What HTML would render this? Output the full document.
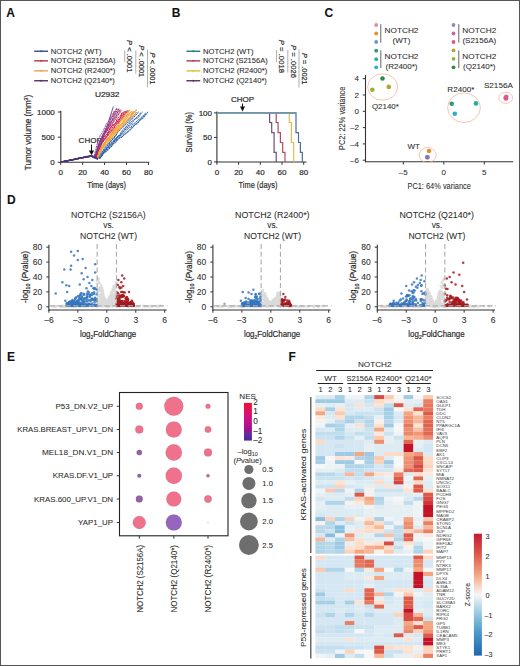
<!DOCTYPE html>
<html><head><meta charset="utf-8"><style>
html,body{margin:0;padding:0;background:#fff;}
svg{display:block;font-family:"Liberation Sans", sans-serif;}
.heavy text{stroke:#2b2b2b;stroke-width:0.2px;}
text{stroke:#2b2b2b;stroke-width:0.06px;}
</style></head><body>
<svg width="520" height="666" viewBox="0 0 520 666">
<rect width="520" height="666" fill="#fff"/>
<text x="6.3" y="16.8" font-size="12" font-weight="bold" fill="#111">A</text>
<text x="171.8" y="16.8" font-size="12" font-weight="bold" fill="#111">B</text>
<text x="324.6" y="16.9" font-size="12" font-weight="bold" fill="#111">C</text>
<text x="7.0" y="204.1" font-size="12" font-weight="bold" fill="#111">D</text>
<text x="7.0" y="360.9" font-size="12" font-weight="bold" fill="#111">E</text>
<text x="288.4" y="360.8" font-size="12" font-weight="bold" fill="#111">F</text>
<g class="heavy">
<line x1="34.20" y1="51.25" x2="48.00" y2="51.25" stroke="#2f4f86" stroke-width="1.4"/>
<circle cx="41.10" cy="51.25" r="0.90" fill="#2f4f86"/>
<text x="50.80" y="53.59" font-size="8.1" text-anchor="start" fill="#2b2b2b" textLength="50.7" lengthAdjust="spacingAndGlyphs" style="stroke-width:0.08px">NOTCH2 (WT)</text>
<line x1="34.20" y1="60.85" x2="48.00" y2="60.85" stroke="#b83448" stroke-width="1.4"/>
<circle cx="41.10" cy="60.85" r="0.90" fill="#b83448"/>
<text x="50.80" y="63.19" font-size="8.1" text-anchor="start" fill="#2b2b2b" textLength="64.8" lengthAdjust="spacingAndGlyphs" style="stroke-width:0.08px">NOTCH2 (S2156A)</text>
<line x1="34.20" y1="70.85" x2="48.00" y2="70.85" stroke="#f0a050" stroke-width="1.4"/>
<circle cx="41.10" cy="70.85" r="0.90" fill="#f0a050"/>
<text x="50.80" y="73.19" font-size="8.1" text-anchor="start" fill="#2b2b2b" textLength="64.5" lengthAdjust="spacingAndGlyphs" style="stroke-width:0.08px">NOTCH2 (R2400*)</text>
<line x1="34.20" y1="80.75" x2="48.00" y2="80.75" stroke="#55305f" stroke-width="1.4"/>
<circle cx="41.10" cy="80.75" r="0.90" fill="#55305f"/>
<text x="50.80" y="83.09" font-size="8.1" text-anchor="start" fill="#2b2b2b" textLength="64.0" lengthAdjust="spacingAndGlyphs" style="stroke-width:0.08px">NOTCH2 (Q2140*)</text>
<g transform="translate(129.70,56.25) rotate(90)"><text x="0" y="2.6" font-size="7.6" text-anchor="middle" fill="#2b2b2b" textLength="32.5" lengthAdjust="spacingAndGlyphs"><tspan font-style="italic">P</tspan> &lt; .0001</text></g>
<line x1="124.70" y1="50.50" x2="124.70" y2="62.00" stroke="#9a9a9a" stroke-width="0.8"/>
<g transform="translate(141.50,61.20) rotate(90)"><text x="0" y="2.6" font-size="7.6" text-anchor="middle" fill="#2b2b2b" textLength="32.0" lengthAdjust="spacingAndGlyphs"><tspan font-style="italic">P</tspan> &lt; .0001</text></g>
<line x1="135.80" y1="50.50" x2="135.80" y2="73.60" stroke="#9a9a9a" stroke-width="0.8"/>
<g transform="translate(153.10,68.60) rotate(90)"><text x="0" y="2.6" font-size="7.6" text-anchor="middle" fill="#2b2b2b" textLength="32.0" lengthAdjust="spacingAndGlyphs"><tspan font-style="italic">P</tspan> &lt; .0001</text></g>
<line x1="147.50" y1="49.40" x2="147.50" y2="87.20" stroke="#9a9a9a" stroke-width="0.8"/>
<text x="107.20" y="97.25" font-size="8" text-anchor="middle" fill="#2b2b2b" textLength="24.5" lengthAdjust="spacingAndGlyphs">U2932</text>
<line x1="60.80" y1="110.80" x2="60.80" y2="162.80" stroke="#333333" stroke-width="1.1"/>
<line x1="60.20" y1="162.30" x2="149.20" y2="162.30" stroke="#333333" stroke-width="1.1"/>
<line x1="57.80" y1="162.30" x2="60.80" y2="162.30" stroke="#333333" stroke-width="1.0"/>
<text x="54.80" y="165.05" font-size="8" text-anchor="end" fill="#2b2b2b">0</text>
<line x1="57.80" y1="137.15" x2="60.80" y2="137.15" stroke="#333333" stroke-width="1.0"/>
<text x="54.80" y="139.90" font-size="8" text-anchor="end" fill="#2b2b2b">500</text>
<line x1="57.80" y1="112.00" x2="60.80" y2="112.00" stroke="#333333" stroke-width="1.0"/>
<text x="54.80" y="114.75" font-size="8" text-anchor="end" fill="#2b2b2b">1000</text>
<line x1="60.70" y1="162.30" x2="60.70" y2="165.00" stroke="#333333" stroke-width="1.0"/>
<text x="60.70" y="175.05" font-size="8" text-anchor="middle" fill="#2b2b2b">0</text>
<line x1="82.64" y1="162.30" x2="82.64" y2="165.00" stroke="#333333" stroke-width="1.0"/>
<text x="82.64" y="175.05" font-size="8" text-anchor="middle" fill="#2b2b2b">20</text>
<line x1="104.58" y1="162.30" x2="104.58" y2="165.00" stroke="#333333" stroke-width="1.0"/>
<text x="104.58" y="175.05" font-size="8" text-anchor="middle" fill="#2b2b2b">40</text>
<line x1="126.52" y1="162.30" x2="126.52" y2="165.00" stroke="#333333" stroke-width="1.0"/>
<text x="126.52" y="175.05" font-size="8" text-anchor="middle" fill="#2b2b2b">60</text>
<line x1="148.46" y1="162.30" x2="148.46" y2="165.00" stroke="#333333" stroke-width="1.0"/>
<text x="148.46" y="175.05" font-size="8" text-anchor="middle" fill="#2b2b2b">80</text>
<text x="106.60" y="188.30" font-size="9.6" text-anchor="middle" fill="#2b2b2b" textLength="38.8" lengthAdjust="spacingAndGlyphs">Time (days)</text>
<g transform="translate(27.9,132.5) rotate(-90)"><text x="0" y="3.2" font-size="9.4" text-anchor="middle" fill="#2b2b2b" textLength="75.4" lengthAdjust="spacingAndGlyphs">Tumor volume (mm<tspan font-size="6" dy="-3.5">3</tspan><tspan dy="3.5">)</tspan></text></g>
<text x="90.20" y="143.35" font-size="8" text-anchor="middle" fill="#2b2b2b" textLength="23.2" lengthAdjust="spacingAndGlyphs">CHOP</text>
<line x1="91.50" y1="144.50" x2="91.50" y2="153.50" stroke="#111" stroke-width="1.0"/>
<path d="M88.9,150.4 L91.5,155.2 L94.1,150.4 Z" fill="#111"/>
<polyline points="60.7,162.2 62.9,161.6 65.1,161.2 67.3,160.9 69.5,160.4 71.7,160.0 73.9,159.3 76.1,158.9 78.3,158.7 80.4,158.0 82.6,157.9 84.8,157.2 87.0,157.0 89.2,156.6 91.4,155.8 93.6,156.7 95.8,157.3 98.0,157.5 100.2,157.4 102.4,155.6 104.6,151.7 106.8,150.4 109.0,148.0 111.2,147.1 113.4,143.4 115.6,142.0 117.7,139.4 119.9,137.6 122.1,137.0 124.3,134.8 126.5,133.3 128.7,131.4 130.9,129.6 133.1,127.1 135.3,124.4 137.5,123.8 139.7,120.3 141.9,119.1 144.1,117.2 146.3,114.1 147.5,113.7" fill="none" stroke="#2c5fa6" stroke-width="1.0" stroke-linejoin="round" stroke-dasharray="2.2,0.6"/>
<polyline points="60.7,162.2 62.9,161.4 65.1,161.4 67.3,160.7 69.5,160.2 71.7,160.1 73.9,159.3 76.1,159.1 78.3,158.6 80.4,158.4 82.6,157.9 84.8,157.4 87.0,156.7 89.2,156.5 91.4,155.9 93.6,156.4 95.8,157.1 98.0,157.9 100.2,157.5 102.4,153.8 104.6,150.5 106.8,149.5 109.0,145.6 111.2,143.2 113.4,140.7 115.6,140.2 117.7,135.9 119.9,135.4 122.1,132.6 124.3,129.7 126.5,126.7 128.7,125.6 130.9,122.0 133.1,120.5 135.3,118.7 137.5,116.4 139.7,114.4 140.5,112.8" fill="none" stroke="#2c5fa6" stroke-width="1.0" stroke-linejoin="round" stroke-dasharray="2.2,0.6"/>
<polyline points="60.7,162.2 62.9,161.8 65.1,161.0 67.3,160.7 69.5,160.4 71.7,160.0 73.9,159.4 76.1,158.9 78.3,158.6 80.4,158.2 82.6,157.9 84.8,157.1 87.0,157.0 89.2,156.4 91.4,155.9 93.6,156.9 95.8,157.4 98.0,158.0 100.2,154.5 102.4,150.9 104.6,149.6 106.8,146.2 109.0,144.3 111.2,140.2 113.4,139.0 115.6,136.1 117.7,132.4 119.9,130.2 122.1,127.5 124.3,126.1 126.5,123.5 128.7,120.5 130.9,118.6 133.1,116.5 135.3,113.8 136.4,112.3" fill="none" stroke="#2c5fa6" stroke-width="1.0" stroke-linejoin="round" stroke-dasharray="2.2,0.6"/>
<polyline points="60.7,162.0 62.9,161.6 65.1,161.2 67.3,160.9 69.5,160.4 71.7,159.8 73.9,159.3 76.1,159.1 78.3,158.5 80.4,158.0 82.6,157.6 84.8,157.2 87.0,156.8 89.2,156.5 91.4,155.9 93.6,156.8 95.8,157.4 98.0,158.0 100.2,154.6 102.4,152.1 104.6,147.6 106.8,145.5 109.0,142.9 111.2,141.5 113.4,137.6 115.6,135.6 117.7,132.0 119.9,129.9 122.1,126.4 124.3,124.1 126.5,121.2 128.7,119.5 130.9,116.2 133.1,113.3 135.0,111.5" fill="none" stroke="#2c5fa6" stroke-width="1.0" stroke-linejoin="round" stroke-dasharray="2.2,0.6"/>
<polyline points="60.7,162.0 62.9,161.4 65.1,161.0 67.3,160.7 69.5,160.3 71.7,160.0 73.9,159.3 76.1,158.8 78.3,158.6 80.4,158.1 82.6,157.6 84.8,157.2 87.0,157.0 89.2,156.3 91.4,156.0 93.6,156.5 95.8,157.1 98.0,157.6 100.2,158.0 102.4,155.3 104.6,152.4 106.8,151.5 109.0,149.1 111.2,146.3 113.4,143.8 115.6,142.7 117.7,139.6 119.9,137.7 122.1,137.0 124.3,134.0 126.5,132.5 128.7,130.9 130.9,128.7 133.1,126.2 135.3,124.5 137.5,122.4 139.7,120.7 141.9,117.8 144.1,115.9 146.3,113.4 148.1,111.9" fill="none" stroke="#2c5fa6" stroke-width="1.0" stroke-linejoin="round" stroke-dasharray="2.2,0.6"/>
<polyline points="60.7,162.1 62.9,161.7 65.1,161.2 67.3,160.9 69.5,160.2 71.7,159.9 73.9,159.6 76.1,159.0 78.3,158.8 80.4,158.1 82.6,157.8 84.8,157.3 87.0,156.7 89.2,156.3 91.4,156.0 93.6,156.5 95.8,157.1 98.0,157.8 100.2,158.6 102.4,154.4 104.6,151.6 106.8,148.0 109.0,145.3 111.2,143.5 113.4,141.5 115.6,137.7 117.7,137.1 119.9,134.3 122.1,130.7 124.3,128.1 126.5,126.5 128.7,122.9 130.9,119.7 133.1,118.3 135.3,115.6 137.5,113.5 138.5,111.7" fill="none" stroke="#2c5fa6" stroke-width="1.0" stroke-linejoin="round" stroke-dasharray="2.2,0.6"/>
<polyline points="60.7,161.9 62.9,161.6 65.1,161.3 67.3,160.6 69.5,160.3 71.7,159.9 73.9,159.5 76.1,158.8 78.3,158.6 80.4,158.2 82.6,157.7 84.8,157.4 87.0,156.8 89.2,156.4 91.4,156.1 93.6,156.6 95.8,157.2 98.0,158.2 100.2,156.1 102.4,153.8 104.6,149.9 106.8,148.1 109.0,147.2 111.2,145.1 113.4,143.4 115.6,139.5 117.7,139.0 119.9,136.3 122.1,134.6 124.3,132.3 126.5,130.3 128.7,128.0 130.9,127.4 133.1,124.0 135.3,123.0 137.5,120.5 139.7,118.9 141.9,117.0 144.1,114.5 145.7,113.1" fill="none" stroke="#2c5fa6" stroke-width="1.0" stroke-linejoin="round" stroke-dasharray="2.2,0.6"/>
<polyline points="60.7,162.2 62.9,161.7 65.1,161.2 67.3,160.6 69.5,160.2 71.7,159.9 73.9,159.6 76.1,158.9 78.3,158.6 80.4,158.1 82.6,157.6 84.8,157.2 87.0,156.9 89.2,156.3 91.4,156.0 93.6,156.7 95.8,157.1 98.0,158.0 100.2,157.6 102.4,153.2 104.6,152.3 106.8,148.1 109.0,146.1 111.2,144.4 113.4,142.5 115.6,139.1 117.7,136.6 119.9,136.0 122.1,133.1 124.3,130.7 126.5,128.5 128.7,126.6 130.9,124.8 133.1,121.6 135.3,118.8 137.5,118.2 139.7,115.6 141.9,112.1 142.5,112.1" fill="none" stroke="#2c5fa6" stroke-width="1.0" stroke-linejoin="round" stroke-dasharray="2.2,0.6"/>
<polyline points="60.7,161.9 62.9,161.7 65.1,161.1 67.3,160.6 69.5,160.2 71.7,160.0 73.9,159.5 76.1,158.9 78.3,158.7 80.4,158.1 82.6,157.8 84.8,157.4 87.0,156.8 89.2,156.6 91.4,156.2 93.6,156.9 95.8,157.8 98.0,157.8 100.2,152.2 102.4,148.5 104.6,145.3 106.8,144.3 109.0,141.1 111.2,138.8 113.4,135.7 115.6,133.5 117.7,130.0 119.9,128.8 122.1,127.0 124.3,123.2 126.5,121.9 128.7,118.4 130.9,116.2 133.1,112.8 135.3,111.1 136.8,109.5" fill="none" stroke="#f2a33a" stroke-width="1.1" stroke-linejoin="round"/>
<polyline points="60.7,161.9 62.9,161.6 65.1,161.3 67.3,160.9 69.5,160.4 71.7,159.8 73.9,159.6 76.1,158.9 78.3,158.5 80.4,158.3 82.6,157.7 84.8,157.5 87.0,157.0 89.2,156.4 91.4,156.1 93.6,156.8 95.8,157.9 98.0,155.4 100.2,149.6 102.4,147.6 104.6,142.9 106.8,141.3 109.0,138.2 111.2,133.5 113.4,131.2 115.6,129.4 117.7,126.8 119.9,122.0 122.1,119.9 124.3,116.7 126.5,115.3 128.7,111.4 129.9,110.1" fill="none" stroke="#f2a33a" stroke-width="1.1" stroke-linejoin="round"/>
<polyline points="60.7,162.1 62.9,161.7 65.1,161.3 67.3,160.6 69.5,160.3 71.7,159.8 73.9,159.5 76.1,158.9 78.3,158.6 80.4,158.1 82.6,157.7 84.8,157.2 87.0,156.9 89.2,156.6 91.4,156.2 93.6,157.1 95.8,158.2 98.0,152.8 100.2,149.3 102.4,145.3 104.6,144.2 106.8,140.5 109.0,137.1 111.2,135.2 113.4,133.2 115.6,130.7 117.7,129.1 119.9,126.5 122.1,124.1 124.3,121.2 126.5,118.7 128.7,115.2 130.9,114.4 133.1,111.7 133.4,110.8" fill="none" stroke="#f2a33a" stroke-width="1.1" stroke-linejoin="round"/>
<polyline points="60.7,162.1 62.9,161.8 65.1,161.0 67.3,160.8 69.5,160.1 71.7,159.8 73.9,159.4 76.1,159.0 78.3,158.4 80.4,158.3 82.6,157.7 84.8,157.4 87.0,156.8 89.2,156.3 91.4,156.1 93.6,157.2 95.8,158.3 98.0,154.4 100.2,150.6 102.4,146.6 104.6,142.4 106.8,141.0 109.0,138.4 111.2,135.4 113.4,133.2 115.6,129.6 117.7,127.0 119.9,125.6 122.1,122.8 124.3,119.2 126.5,116.0 128.7,114.0 130.9,111.8 131.5,111.0" fill="none" stroke="#f2a33a" stroke-width="1.1" stroke-linejoin="round"/>
<polyline points="60.7,162.1 62.9,161.8 65.1,161.2 67.3,160.6 69.5,160.3 71.7,159.9 73.9,159.6 76.1,159.2 78.3,158.4 80.4,158.2 82.6,157.5 84.8,157.5 87.0,157.0 89.2,156.6 91.4,156.0 93.6,157.0 95.8,157.8 98.0,156.5 100.2,151.4 102.4,148.3 104.6,145.5 106.8,140.9 109.0,140.4 111.2,137.3 113.4,135.3 115.6,132.8 117.7,131.6 119.9,128.9 122.1,127.1 124.3,123.9 126.5,120.9 128.7,119.3 130.9,116.6 133.1,115.8 135.3,114.0 136.4,111.8" fill="none" stroke="#f2a33a" stroke-width="1.1" stroke-linejoin="round"/>
<polyline points="60.7,162.0 62.9,161.5 65.1,161.0 67.3,160.8 69.5,160.3 71.7,159.8 73.9,159.6 76.1,159.2 78.3,158.7 80.4,158.3 82.6,157.6 84.8,157.2 87.0,156.9 89.2,156.6 91.4,156.2 93.6,157.1 95.8,158.1 98.0,154.6 100.2,149.4 102.4,146.4 104.6,143.4 106.8,138.9 109.0,137.4 111.2,134.1 113.4,130.9 115.6,127.8 117.7,125.5 119.9,121.8 122.1,119.1 124.3,115.2 126.5,112.8 128.7,110.0" fill="none" stroke="#f2a33a" stroke-width="1.1" stroke-linejoin="round"/>
<polyline points="60.7,162.1 62.9,161.8 65.1,161.4 67.3,160.9 69.5,160.4 71.7,159.8 73.9,159.5 76.1,159.2 78.3,158.5 80.4,158.1 82.6,157.9 84.8,157.5 87.0,157.0 89.2,156.5 91.4,155.8 93.6,156.9 95.8,158.2 98.0,149.5 100.2,143.2 102.4,139.3 104.6,136.3 106.8,134.2 109.0,130.3 111.2,127.2 113.4,124.9 115.6,123.8 117.7,120.4 119.9,118.7 122.1,115.0 124.3,113.1 126.1,110.9" fill="none" stroke="#cc1c44" stroke-width="1.0" stroke-linejoin="round" stroke-dasharray="2.2,0.6"/>
<polyline points="60.7,161.9 62.9,161.6 65.1,161.2 67.3,160.8 69.5,160.2 71.7,159.7 73.9,159.4 76.1,158.8 78.3,158.5 80.4,158.3 82.6,157.6 84.8,157.3 87.0,157.0 89.2,156.2 91.4,156.2 93.6,157.0 95.8,158.1 98.0,150.5 100.2,145.9 102.4,142.2 104.6,138.6 106.8,135.7 109.0,132.0 111.2,129.5 113.4,125.8 115.6,124.1 117.7,121.0 119.9,118.4 122.1,113.9 124.3,111.4 124.8,111.5" fill="none" stroke="#cc1c44" stroke-width="1.0" stroke-linejoin="round" stroke-dasharray="2.2,0.6"/>
<polyline points="60.7,161.9 62.9,161.6 65.1,161.4 67.3,160.9 69.5,160.5 71.7,159.8 73.9,159.3 76.1,159.1 78.3,158.5 80.4,158.2 82.6,157.6 84.8,157.1 87.0,156.8 89.2,156.3 91.4,156.0 93.6,157.3 95.8,158.1 98.0,151.4 100.2,147.1 102.4,142.9 104.6,139.8 106.8,137.5 109.0,134.0 111.2,131.1 113.4,128.1 115.6,124.8 117.7,122.8 119.9,118.7 122.1,116.4 124.3,113.4 126.5,111.1 127.5,110.4" fill="none" stroke="#cc1c44" stroke-width="1.0" stroke-linejoin="round" stroke-dasharray="2.2,0.6"/>
<polyline points="60.7,162.0 62.9,161.5 65.1,161.2 67.3,160.8 69.5,160.5 71.7,160.1 73.9,159.5 76.1,159.0 78.3,158.5 80.4,158.1 82.6,157.8 84.8,157.1 87.0,156.9 89.2,156.3 91.4,156.2 93.6,157.0 95.8,158.2 98.0,147.8 100.2,141.6 102.4,137.1 104.6,132.4 106.8,128.5 109.0,124.9 111.2,121.9 113.4,117.3 115.6,112.6 117.7,110.2 118.2,108.8" fill="none" stroke="#cc1c44" stroke-width="1.0" stroke-linejoin="round" stroke-dasharray="2.2,0.6"/>
<polyline points="60.7,162.1 62.9,161.7 65.1,161.1 67.3,160.6 69.5,160.2 71.7,159.8 73.9,159.5 76.1,159.2 78.3,158.5 80.4,158.1 82.6,157.6 84.8,157.3 87.0,156.7 89.2,156.5 91.4,156.1 93.6,157.1 95.8,158.0 98.0,151.1 100.2,146.9 102.4,141.3 104.6,137.0 106.8,134.5 109.0,131.2 111.2,126.5 113.4,122.4 115.6,118.8 117.7,115.6 119.9,112.7 121.3,110.4" fill="none" stroke="#cc1c44" stroke-width="1.0" stroke-linejoin="round" stroke-dasharray="2.2,0.6"/>
<polyline points="60.7,162.1 62.9,161.6 65.1,161.0 67.3,160.9 69.5,160.5 71.7,160.0 73.9,159.4 76.1,159.0 78.3,158.7 80.4,158.3 82.6,157.7 84.8,157.2 87.0,156.8 89.2,156.3 91.4,156.2 93.6,157.3 95.8,155.5 98.0,146.4 100.2,141.6 102.4,135.4 104.6,131.3 106.8,126.3 109.0,123.6 111.2,118.4 113.4,113.9 115.6,110.6 116.7,108.4" fill="none" stroke="#cc1c44" stroke-width="1.0" stroke-linejoin="round" stroke-dasharray="2.2,0.6"/>
<polyline points="60.7,162.2 62.9,161.6 65.1,161.3 67.3,160.6 69.5,160.2 71.7,159.8 73.9,159.3 76.1,158.9 78.3,158.4 80.4,158.0 82.6,157.7 84.8,157.1 87.0,157.0 89.2,156.6 91.4,156.2 93.6,157.6 95.8,155.1 98.0,149.0 100.2,144.5 102.4,141.2 104.6,139.8 106.8,136.4 109.0,133.5 111.2,131.3 113.4,129.3 115.6,125.7 117.7,123.6 119.9,120.4 122.1,118.2 124.3,114.7 126.5,112.2 128.0,111.4" fill="none" stroke="#cc1c44" stroke-width="1.0" stroke-linejoin="round" stroke-dasharray="2.2,0.6"/>
<polyline points="60.7,162.2 62.9,161.6 65.1,161.2 67.3,160.7 69.5,160.1 71.7,159.9 73.9,159.5 76.1,159.0 78.3,158.5 80.4,158.0 82.6,157.7 84.8,157.4 87.0,156.9 89.2,156.3 91.4,156.0 93.6,157.6 95.8,154.0 98.0,147.3 100.2,141.2 102.4,138.4 104.6,134.2 106.8,131.0 109.0,126.7 111.2,122.1 113.4,119.7 115.6,116.6 117.7,112.0 119.9,110.5 120.2,109.1" fill="none" stroke="#cc1c44" stroke-width="1.0" stroke-linejoin="round" stroke-dasharray="2.2,0.6"/>
<polyline points="60.7,162.1 62.9,161.8 65.1,161.3 67.3,160.8 69.5,160.4 71.7,159.9 73.9,159.6 76.1,159.1 78.3,158.4 80.4,158.2 82.6,157.7 84.8,157.5 87.0,156.9 89.2,156.2 91.4,155.9 93.6,157.3 95.8,156.5 98.0,147.2 100.2,141.1 102.4,138.1 104.6,134.6 106.8,131.1 109.0,128.9 111.2,126.3 113.4,125.0 115.6,122.4 117.7,118.1 119.9,116.3 122.1,112.6 123.4,112.0" fill="none" stroke="#cc1c44" stroke-width="1.0" stroke-linejoin="round" stroke-dasharray="2.2,0.6"/>
<polyline points="60.7,161.9 62.9,161.6 65.1,161.0 67.3,160.6 69.5,160.4 71.7,159.9 73.9,159.5 76.1,159.0 78.3,158.7 80.4,158.1 82.6,157.9 84.8,157.4 87.0,156.9 89.2,156.6 91.4,156.0 93.6,157.1 95.8,154.9 98.0,148.7 100.2,143.6 102.4,137.2 104.6,132.8 106.8,129.6 109.0,126.8 111.2,122.8 113.4,117.5 115.6,113.6 117.7,111.9 119.4,108.0" fill="none" stroke="#7a3f94" stroke-width="0.9" stroke-linejoin="round" stroke-dasharray="2.2,0.6"/>
<polyline points="60.7,162.1 62.9,161.5 65.1,161.3 67.3,160.7 69.5,160.1 71.7,159.8 73.9,159.6 76.1,159.2 78.3,158.5 80.4,158.2 82.6,157.8 84.8,157.3 87.0,156.8 89.2,156.2 91.4,156.1 93.6,158.0 95.8,149.2 98.0,141.3 100.2,135.6 102.4,132.5 104.6,127.7 106.8,123.3 109.0,121.0 111.2,115.6 113.4,112.6 114.3,110.8" fill="none" stroke="#7a3f94" stroke-width="0.9" stroke-linejoin="round" stroke-dasharray="2.2,0.6"/>
<polyline points="60.7,162.0 62.9,161.8 65.1,161.2 67.3,160.8 69.5,160.5 71.7,160.0 73.9,159.5 76.1,159.0 78.3,158.4 80.4,158.2 82.6,157.7 84.8,157.2 87.0,156.7 89.2,156.2 91.4,155.8 93.6,157.7 95.8,153.3 98.0,144.8 100.2,141.4 102.4,135.9 104.6,131.0 106.8,127.2 109.0,123.4 111.2,118.1 113.4,115.4 115.6,110.8 116.9,108.4" fill="none" stroke="#7a3f94" stroke-width="0.9" stroke-linejoin="round" stroke-dasharray="2.2,0.6"/>
<polyline points="60.7,162.0 62.9,161.7 65.1,161.2 67.3,160.9 69.5,160.5 71.7,159.9 73.9,159.6 76.1,158.8 78.3,158.7 80.4,158.2 82.6,157.6 84.8,157.2 87.0,157.0 89.2,156.3 91.4,155.9 93.6,157.5 95.8,153.9 98.0,147.1 100.2,141.8 102.4,136.3 104.6,133.7 106.8,129.3 109.0,127.6 111.2,124.5 113.4,121.5 115.6,116.7 117.7,113.9 119.9,111.9 120.2,110.4" fill="none" stroke="#7a3f94" stroke-width="0.9" stroke-linejoin="round" stroke-dasharray="2.2,0.6"/>
<polyline points="60.7,162.0 65.1,161.1 69.5,160.4 73.9,159.5 78.3,158.2 82.6,157.5 87.0,157.1 91.4,156.0 93.6,156.4 95.8,157.9 98.0,159.4" fill="none" stroke="#3a3a7a" stroke-width="1.1"/>
<polyline points="60.7,162.0 65.1,161.2 69.5,160.4 73.9,159.2 78.3,158.5 82.6,157.5 87.0,156.7 91.4,156.0 93.6,156.6 95.8,157.8 98.0,158.5" fill="none" stroke="#3a3a7a" stroke-width="1.1"/>
<polyline points="60.7,162.0 65.1,161.2 69.5,160.4 73.9,159.5 78.3,158.3 82.6,157.5 87.0,156.3 91.4,156.4 93.6,157.0 95.8,158.4 98.0,159.2" fill="none" stroke="#3a3a7a" stroke-width="1.1"/>
<polyline points="93.6,157.3 100.2,147.2 113.4,106.5" fill="none" stroke="#7a3f94" stroke-width="0.9"/>
<line x1="186.40" y1="51.25" x2="200.20" y2="51.25" stroke="#1f7b80" stroke-width="1.4"/>
<circle cx="193.30" cy="51.25" r="0.90" fill="#1f7b80"/>
<text x="202.90" y="53.59" font-size="8.1" text-anchor="start" fill="#2b2b2b" textLength="50.7" lengthAdjust="spacingAndGlyphs" style="stroke-width:0.08px">NOTCH2 (WT)</text>
<line x1="186.40" y1="60.85" x2="200.20" y2="60.85" stroke="#c03452" stroke-width="1.4"/>
<circle cx="193.30" cy="60.85" r="0.90" fill="#c03452"/>
<text x="202.90" y="63.19" font-size="8.1" text-anchor="start" fill="#2b2b2b" textLength="64.8" lengthAdjust="spacingAndGlyphs" style="stroke-width:0.08px">NOTCH2 (S2156A)</text>
<line x1="186.40" y1="70.85" x2="200.20" y2="70.85" stroke="#dcbc3a" stroke-width="1.4"/>
<circle cx="193.30" cy="70.85" r="0.90" fill="#dcbc3a"/>
<text x="202.90" y="73.19" font-size="8.1" text-anchor="start" fill="#2b2b2b" textLength="64.5" lengthAdjust="spacingAndGlyphs" style="stroke-width:0.08px">NOTCH2 (R2400*)</text>
<line x1="186.40" y1="80.75" x2="200.20" y2="80.75" stroke="#55305f" stroke-width="1.4"/>
<circle cx="193.30" cy="80.75" r="0.90" fill="#55305f"/>
<text x="202.90" y="83.09" font-size="8.1" text-anchor="start" fill="#2b2b2b" textLength="64.0" lengthAdjust="spacingAndGlyphs" style="stroke-width:0.08px">NOTCH2 (Q2140*)</text>
<g transform="translate(281.80,56.40) rotate(90)"><text x="0" y="2.6" font-size="7.6" text-anchor="middle" fill="#2b2b2b" textLength="33.2" lengthAdjust="spacingAndGlyphs"><tspan font-style="italic">P</tspan> = .0018</text></g>
<line x1="276.60" y1="50.00" x2="276.60" y2="62.20" stroke="#9a9a9a" stroke-width="0.8"/>
<g transform="translate(293.30,61.45) rotate(90)"><text x="0" y="2.6" font-size="7.6" text-anchor="middle" fill="#2b2b2b" textLength="32.9" lengthAdjust="spacingAndGlyphs"><tspan font-style="italic">P</tspan> = .0026</text></g>
<line x1="287.80" y1="50.00" x2="287.80" y2="72.50" stroke="#9a9a9a" stroke-width="0.8"/>
<g transform="translate(304.30,68.85) rotate(90)"><text x="0" y="2.6" font-size="7.6" text-anchor="middle" fill="#2b2b2b" textLength="31.7" lengthAdjust="spacingAndGlyphs"><tspan font-style="italic">P</tspan> = .0021</text></g>
<line x1="299.00" y1="49.50" x2="299.00" y2="87.60" stroke="#9a9a9a" stroke-width="0.8"/>
<text x="242.50" y="102.15" font-size="8" text-anchor="middle" fill="#2b2b2b" textLength="23.2" lengthAdjust="spacingAndGlyphs">CHOP</text>
<line x1="242.50" y1="103.50" x2="242.50" y2="109.50" stroke="#111" stroke-width="1.0"/>
<path d="M240.0,106.6 L242.5,111.4 L245.0,106.6 Z" fill="#111"/>
<line x1="216.90" y1="111.50" x2="216.90" y2="162.50" stroke="#333333" stroke-width="1.1"/>
<line x1="216.40" y1="162.00" x2="306.50" y2="162.00" stroke="#333333" stroke-width="1.1"/>
<line x1="214.00" y1="161.90" x2="216.90" y2="161.90" stroke="#333333" stroke-width="1.0"/>
<text x="212.00" y="164.65" font-size="8" text-anchor="end" fill="#2b2b2b">0</text>
<line x1="214.00" y1="137.40" x2="216.90" y2="137.40" stroke="#333333" stroke-width="1.0"/>
<text x="212.00" y="140.15" font-size="8" text-anchor="end" fill="#2b2b2b">50</text>
<line x1="214.00" y1="112.90" x2="216.90" y2="112.90" stroke="#333333" stroke-width="1.0"/>
<text x="212.00" y="115.65" font-size="8" text-anchor="end" fill="#2b2b2b">100</text>
<line x1="216.90" y1="162.00" x2="216.90" y2="164.80" stroke="#333333" stroke-width="1.0"/>
<text x="216.90" y="175.05" font-size="8" text-anchor="middle" fill="#2b2b2b">0</text>
<line x1="238.60" y1="162.00" x2="238.60" y2="164.80" stroke="#333333" stroke-width="1.0"/>
<text x="238.60" y="175.05" font-size="8" text-anchor="middle" fill="#2b2b2b">20</text>
<line x1="260.30" y1="162.00" x2="260.30" y2="164.80" stroke="#333333" stroke-width="1.0"/>
<text x="260.30" y="175.05" font-size="8" text-anchor="middle" fill="#2b2b2b">40</text>
<line x1="282.00" y1="162.00" x2="282.00" y2="164.80" stroke="#333333" stroke-width="1.0"/>
<text x="282.00" y="175.05" font-size="8" text-anchor="middle" fill="#2b2b2b">60</text>
<line x1="303.70" y1="162.00" x2="303.70" y2="164.80" stroke="#333333" stroke-width="1.0"/>
<text x="303.70" y="175.05" font-size="8" text-anchor="middle" fill="#2b2b2b">80</text>
<text x="258.00" y="187.90" font-size="9.6" text-anchor="middle" fill="#2b2b2b" textLength="38.8" lengthAdjust="spacingAndGlyphs">Time (days)</text>
<g transform="translate(188.60,132.20) rotate(-90)"><text x="0" y="3.20" font-size="9.3" text-anchor="middle" fill="#2b2b2b" textLength="40.5" lengthAdjust="spacingAndGlyphs">Survival (%)</text></g>
<polyline points="217.5,112.9 296.0,112.9 296.0,132.6 298.5,132.6 298.5,142.5 300.4,142.5 300.4,152.4 302.3,152.4 302.3,161.9" fill="none" stroke="#4d6d98" stroke-width="1.2"/>
<polyline points="289.3,112.9 289.3,122.5 291.4,122.5 291.4,142.5 293.7,142.5 293.7,161.9" fill="none" stroke="#e2bb50" stroke-width="1.2"/>
<polyline points="276.2,112.9 276.2,122.5 278.1,122.5 278.1,132.6 280.4,132.6 280.4,142.5 282.7,142.5 282.7,152.4 285.0,152.4 285.0,161.9" fill="none" stroke="#b8485e" stroke-width="1.2"/>
<polyline points="269.6,112.9 269.6,122.5 271.7,122.5 271.7,132.6 274.1,132.6 274.1,152.4 276.2,152.4 276.2,161.9" fill="none" stroke="#6a4f80" stroke-width="1.2"/>
<line x1="217.50" y1="112.90" x2="296.00" y2="112.90" stroke="#6e98a8" stroke-width="1.5"/>
</g>
<circle cx="376.20" cy="25.00" r="1.90" fill="#e98a9a"/>
<circle cx="376.20" cy="33.50" r="1.90" fill="#e0922a"/>
<circle cx="376.20" cy="41.90" r="1.90" fill="#6b8fd0"/>
<line x1="380.80" y1="24.20" x2="380.80" y2="42.70" stroke="#555" stroke-width="0.9"/>
<text x="401.50" y="33.15" font-size="8" text-anchor="middle" fill="#2b2b2b" textLength="33.9" lengthAdjust="spacingAndGlyphs">NOTCH2</text>
<text x="401.50" y="43.15" font-size="8" text-anchor="middle" fill="#2b2b2b">(WT)</text>
<circle cx="376.20" cy="50.70" r="1.90" fill="#2f9a6c"/>
<circle cx="376.20" cy="59.20" r="1.90" fill="#22b09a"/>
<circle cx="376.20" cy="67.30" r="1.90" fill="#2ab0c8"/>
<line x1="380.80" y1="50.40" x2="380.80" y2="68.00" stroke="#555" stroke-width="0.9"/>
<text x="401.50" y="58.85" font-size="8" text-anchor="middle" fill="#2b2b2b" textLength="33.9" lengthAdjust="spacingAndGlyphs">NOTCH2</text>
<text x="401.50" y="68.85" font-size="8" text-anchor="middle" fill="#2b2b2b">(R2400*)</text>
<circle cx="453.50" cy="25.00" r="1.90" fill="#9c86b8"/>
<circle cx="453.50" cy="33.50" r="1.90" fill="#c9679f"/>
<circle cx="453.50" cy="42.00" r="1.90" fill="#e0548c"/>
<line x1="458.80" y1="24.20" x2="458.80" y2="42.70" stroke="#555" stroke-width="0.9"/>
<text x="479.30" y="33.15" font-size="8" text-anchor="middle" fill="#2b2b2b" textLength="33.9" lengthAdjust="spacingAndGlyphs">NOTCH2</text>
<text x="479.30" y="43.15" font-size="8" text-anchor="middle" fill="#2b2b2b">(S2156A)</text>
<circle cx="453.50" cy="50.40" r="1.90" fill="#b9a235"/>
<circle cx="453.50" cy="58.80" r="1.90" fill="#93b43a"/>
<circle cx="453.50" cy="67.30" r="1.90" fill="#2f8a45"/>
<line x1="458.80" y1="50.40" x2="458.80" y2="68.00" stroke="#555" stroke-width="0.9"/>
<text x="479.30" y="58.55" font-size="8" text-anchor="middle" fill="#2b2b2b" textLength="33.9" lengthAdjust="spacingAndGlyphs">NOTCH2</text>
<text x="479.30" y="68.55" font-size="8" text-anchor="middle" fill="#2b2b2b">(Q2140*)</text>
<line x1="365.50" y1="75.00" x2="365.50" y2="162.30" stroke="#333333" stroke-width="1.1"/>
<line x1="365.00" y1="161.80" x2="513.20" y2="161.80" stroke="#333333" stroke-width="1.1"/>
<line x1="362.80" y1="78.70" x2="365.50" y2="78.70" stroke="#333333" stroke-width="1.0"/>
<text x="359.00" y="81.45" font-size="8" text-anchor="end" fill="#2b2b2b">4</text>
<line x1="362.80" y1="95.00" x2="365.50" y2="95.00" stroke="#333333" stroke-width="1.0"/>
<text x="359.00" y="97.75" font-size="8" text-anchor="end" fill="#2b2b2b">2</text>
<line x1="362.80" y1="111.30" x2="365.50" y2="111.30" stroke="#333333" stroke-width="1.0"/>
<text x="359.00" y="114.05" font-size="8" text-anchor="end" fill="#2b2b2b">0</text>
<line x1="362.80" y1="127.60" x2="365.50" y2="127.60" stroke="#333333" stroke-width="1.0"/>
<text x="359.00" y="130.35" font-size="8" text-anchor="end" fill="#2b2b2b">&#8211;2</text>
<line x1="362.80" y1="143.90" x2="365.50" y2="143.90" stroke="#333333" stroke-width="1.0"/>
<text x="359.00" y="146.65" font-size="8" text-anchor="end" fill="#2b2b2b">&#8211;4</text>
<line x1="362.80" y1="160.20" x2="365.50" y2="160.20" stroke="#333333" stroke-width="1.0"/>
<text x="359.00" y="162.95" font-size="8" text-anchor="end" fill="#2b2b2b">&#8211;6</text>
<line x1="403.30" y1="161.80" x2="403.30" y2="164.50" stroke="#333333" stroke-width="1.0"/>
<text x="403.30" y="175.25" font-size="8" text-anchor="middle" fill="#2b2b2b">&#8211;5</text>
<line x1="443.80" y1="161.80" x2="443.80" y2="164.50" stroke="#333333" stroke-width="1.0"/>
<text x="443.80" y="175.25" font-size="8" text-anchor="middle" fill="#2b2b2b">0</text>
<line x1="484.30" y1="161.80" x2="484.30" y2="164.50" stroke="#333333" stroke-width="1.0"/>
<text x="484.30" y="175.25" font-size="8" text-anchor="middle" fill="#2b2b2b">5</text>
<text x="439.20" y="188.76" font-size="8.9" text-anchor="middle" fill="#2b2b2b" textLength="63.5" lengthAdjust="spacingAndGlyphs">PC1: 64% variance</text>
<g transform="translate(341.80,118.30) rotate(-90)"><text x="0" y="3.06" font-size="8.9" text-anchor="middle" fill="#2b2b2b" textLength="63.5" lengthAdjust="spacingAndGlyphs">PC2: 22% variance</text></g>
<ellipse cx="382.7" cy="87.0" rx="15.0" ry="13.2" fill="none" stroke="#f0b39c" stroke-width="0.75"/>
<ellipse cx="464.0" cy="107.7" rx="16.4" ry="14.8" fill="none" stroke="#f0b39c" stroke-width="0.75"/>
<ellipse cx="505.7" cy="97.8" rx="6.9" ry="5.6" fill="none" stroke="#f0b39c" stroke-width="0.75"/>
<ellipse cx="427.7" cy="155.0" rx="8.5" ry="7.6" fill="none" stroke="#f0b39c" stroke-width="0.75"/>
<circle cx="382.50" cy="78.50" r="2.30" fill="#2f8a45"/>
<circle cx="388.80" cy="86.90" r="2.30" fill="#b9a235"/>
<circle cx="372.30" cy="89.70" r="2.30" fill="#93b43a"/>
<circle cx="451.70" cy="103.80" r="2.30" fill="#2f9a6c"/>
<circle cx="476.00" cy="103.40" r="2.30" fill="#22b09a"/>
<circle cx="454.80" cy="113.80" r="2.30" fill="#2ab0c8"/>
<circle cx="505.60" cy="97.80" r="2.30" fill="#9c86b8"/>
<circle cx="506.30" cy="96.90" r="2.30" fill="#c9679f"/>
<circle cx="506.00" cy="98.40" r="2.30" fill="#e0548c"/>
<circle cx="427.60" cy="157.40" r="2.30" fill="#e98a9a"/>
<circle cx="427.30" cy="157.00" r="2.30" fill="#6b8fd0"/>
<circle cx="429.00" cy="151.00" r="2.30" fill="#e0922a"/>
<circle cx="427.00" cy="157.60" r="1.60" fill="#8a70c0"/>
<text x="385.40" y="109.15" font-size="8" text-anchor="middle" fill="#2b2b2b" textLength="27" lengthAdjust="spacingAndGlyphs">Q2140*</text>
<text x="460.80" y="91.75" font-size="8" text-anchor="middle" fill="#2b2b2b" textLength="27" lengthAdjust="spacingAndGlyphs">R2400*</text>
<text x="498.40" y="87.55" font-size="8" text-anchor="middle" fill="#2b2b2b" textLength="29" lengthAdjust="spacingAndGlyphs">S2156A</text>
<text x="413.60" y="149.35" font-size="8" text-anchor="middle" fill="#2b2b2b">WT</text>
<text x="108.30" y="218.09" font-size="8.4" text-anchor="middle" fill="#2b2b2b" textLength="74.5" lengthAdjust="spacingAndGlyphs">NOTCH2 (S2156A)</text>
<text x="108.60" y="227.89" font-size="8.4" text-anchor="middle" fill="#2b2b2b">vs.</text>
<text x="108.50" y="238.59" font-size="8.4" text-anchor="middle" fill="#2b2b2b" textLength="57" lengthAdjust="spacingAndGlyphs">NOTCH2 (WT)</text>
<circle cx="152.6" cy="306.3" r="1.25" fill="#dadada" fill-opacity="0.85"/>
<circle cx="72.7" cy="306.3" r="1.25" fill="#dadada" fill-opacity="0.85"/>
<circle cx="120.8" cy="306.0" r="1.25" fill="#dadada" fill-opacity="0.85"/>
<circle cx="62.9" cy="306.5" r="1.25" fill="#dadada" fill-opacity="0.85"/>
<circle cx="62.6" cy="306.0" r="1.25" fill="#dadada" fill-opacity="0.85"/>
<circle cx="127.7" cy="306.8" r="1.25" fill="#dadada" fill-opacity="0.85"/>
<circle cx="158.9" cy="305.9" r="1.25" fill="#dadada" fill-opacity="0.85"/>
<circle cx="123.4" cy="306.2" r="1.25" fill="#dadada" fill-opacity="0.85"/>
<circle cx="69.8" cy="306.8" r="1.25" fill="#dadada" fill-opacity="0.85"/>
<circle cx="73.3" cy="306.6" r="1.25" fill="#dadada" fill-opacity="0.85"/>
<circle cx="56.0" cy="306.4" r="1.25" fill="#dadada" fill-opacity="0.85"/>
<circle cx="160.6" cy="305.8" r="1.25" fill="#dadada" fill-opacity="0.85"/>
<circle cx="143.6" cy="306.1" r="1.25" fill="#dadada" fill-opacity="0.85"/>
<circle cx="86.8" cy="306.6" r="1.25" fill="#dadada" fill-opacity="0.85"/>
<circle cx="84.0" cy="306.7" r="1.25" fill="#dadada" fill-opacity="0.85"/>
<circle cx="135.6" cy="306.4" r="1.25" fill="#dadada" fill-opacity="0.85"/>
<circle cx="144.3" cy="306.4" r="1.25" fill="#dadada" fill-opacity="0.85"/>
<circle cx="156.3" cy="306.0" r="1.25" fill="#dadada" fill-opacity="0.85"/>
<circle cx="52.8" cy="306.6" r="1.25" fill="#dadada" fill-opacity="0.85"/>
<circle cx="151.1" cy="306.3" r="1.25" fill="#dadada" fill-opacity="0.85"/>
<circle cx="158.7" cy="306.4" r="1.25" fill="#dadada" fill-opacity="0.85"/>
<circle cx="60.7" cy="306.2" r="1.25" fill="#dadada" fill-opacity="0.85"/>
<circle cx="136.9" cy="306.5" r="1.25" fill="#dadada" fill-opacity="0.85"/>
<circle cx="62.2" cy="306.5" r="1.25" fill="#dadada" fill-opacity="0.85"/>
<circle cx="157.0" cy="306.1" r="1.25" fill="#dadada" fill-opacity="0.85"/>
<circle cx="65.5" cy="306.6" r="1.25" fill="#dadada" fill-opacity="0.85"/>
<circle cx="63.7" cy="306.7" r="1.25" fill="#dadada" fill-opacity="0.85"/>
<circle cx="138.9" cy="306.6" r="1.25" fill="#dadada" fill-opacity="0.85"/>
<circle cx="73.4" cy="306.1" r="1.25" fill="#dadada" fill-opacity="0.85"/>
<circle cx="66.9" cy="306.2" r="1.25" fill="#dadada" fill-opacity="0.85"/>
<circle cx="65.4" cy="306.4" r="1.25" fill="#dadada" fill-opacity="0.85"/>
<circle cx="75.8" cy="306.5" r="1.25" fill="#dadada" fill-opacity="0.85"/>
<circle cx="157.7" cy="306.0" r="1.25" fill="#dadada" fill-opacity="0.85"/>
<circle cx="85.6" cy="305.9" r="1.25" fill="#dadada" fill-opacity="0.85"/>
<circle cx="75.5" cy="306.4" r="1.25" fill="#dadada" fill-opacity="0.85"/>
<circle cx="145.1" cy="306.2" r="1.25" fill="#dadada" fill-opacity="0.85"/>
<circle cx="63.6" cy="305.8" r="1.25" fill="#dadada" fill-opacity="0.85"/>
<circle cx="75.8" cy="306.5" r="1.25" fill="#dadada" fill-opacity="0.85"/>
<circle cx="136.3" cy="306.5" r="1.25" fill="#dadada" fill-opacity="0.85"/>
<circle cx="84.8" cy="306.7" r="1.25" fill="#dadada" fill-opacity="0.85"/>
<circle cx="62.5" cy="306.2" r="1.25" fill="#dadada" fill-opacity="0.85"/>
<circle cx="79.0" cy="306.2" r="1.25" fill="#dadada" fill-opacity="0.85"/>
<circle cx="92.9" cy="306.4" r="1.25" fill="#dadada" fill-opacity="0.85"/>
<circle cx="156.4" cy="306.3" r="1.25" fill="#dadada" fill-opacity="0.85"/>
<circle cx="72.5" cy="306.7" r="1.25" fill="#dadada" fill-opacity="0.85"/>
<circle cx="150.9" cy="306.0" r="1.25" fill="#dadada" fill-opacity="0.85"/>
<circle cx="79.7" cy="306.6" r="1.25" fill="#dadada" fill-opacity="0.85"/>
<circle cx="132.7" cy="305.9" r="1.25" fill="#dadada" fill-opacity="0.85"/>
<circle cx="74.0" cy="305.9" r="1.25" fill="#dadada" fill-opacity="0.85"/>
<circle cx="148.1" cy="306.2" r="1.25" fill="#dadada" fill-opacity="0.85"/>
<circle cx="56.9" cy="305.9" r="1.25" fill="#dadada" fill-opacity="0.85"/>
<circle cx="78.5" cy="306.1" r="1.25" fill="#dadada" fill-opacity="0.85"/>
<circle cx="80.5" cy="306.0" r="1.25" fill="#dadada" fill-opacity="0.85"/>
<circle cx="117.2" cy="306.5" r="1.25" fill="#dadada" fill-opacity="0.85"/>
<circle cx="71.7" cy="306.1" r="1.25" fill="#dadada" fill-opacity="0.85"/>
<circle cx="60.2" cy="306.6" r="1.25" fill="#dadada" fill-opacity="0.85"/>
<circle cx="119.2" cy="306.5" r="1.25" fill="#dadada" fill-opacity="0.85"/>
<circle cx="151.9" cy="306.6" r="1.25" fill="#dadada" fill-opacity="0.85"/>
<circle cx="54.6" cy="306.5" r="1.25" fill="#dadada" fill-opacity="0.85"/>
<circle cx="71.8" cy="306.4" r="1.25" fill="#dadada" fill-opacity="0.85"/>
<circle cx="91.9" cy="305.9" r="1.25" fill="#dadada" fill-opacity="0.85"/>
<circle cx="158.7" cy="306.2" r="1.25" fill="#dadada" fill-opacity="0.85"/>
<circle cx="127.5" cy="306.2" r="1.25" fill="#dadada" fill-opacity="0.85"/>
<circle cx="67.9" cy="306.8" r="1.25" fill="#dadada" fill-opacity="0.85"/>
<circle cx="54.7" cy="305.9" r="1.25" fill="#dadada" fill-opacity="0.85"/>
<circle cx="128.5" cy="305.9" r="1.25" fill="#dadada" fill-opacity="0.85"/>
<circle cx="55.1" cy="306.2" r="1.25" fill="#dadada" fill-opacity="0.85"/>
<circle cx="87.2" cy="305.8" r="1.25" fill="#dadada" fill-opacity="0.85"/>
<circle cx="60.9" cy="306.3" r="1.25" fill="#dadada" fill-opacity="0.85"/>
<circle cx="132.4" cy="305.9" r="1.25" fill="#dadada" fill-opacity="0.85"/>
<circle cx="132.4" cy="306.1" r="1.25" fill="#dadada" fill-opacity="0.85"/>
<circle cx="138.5" cy="305.9" r="1.25" fill="#dadada" fill-opacity="0.85"/>
<circle cx="90.8" cy="306.1" r="1.25" fill="#dadada" fill-opacity="0.85"/>
<circle cx="150.1" cy="306.0" r="1.25" fill="#dadada" fill-opacity="0.85"/>
<circle cx="146.1" cy="306.2" r="1.25" fill="#dadada" fill-opacity="0.85"/>
<circle cx="120.3" cy="306.4" r="1.25" fill="#dadada" fill-opacity="0.85"/>
<circle cx="61.4" cy="306.2" r="1.25" fill="#dadada" fill-opacity="0.85"/>
<circle cx="160.1" cy="305.9" r="1.25" fill="#dadada" fill-opacity="0.85"/>
<circle cx="131.5" cy="306.4" r="1.25" fill="#dadada" fill-opacity="0.85"/>
<circle cx="132.2" cy="306.2" r="1.25" fill="#dadada" fill-opacity="0.85"/>
<circle cx="61.8" cy="306.1" r="1.25" fill="#dadada" fill-opacity="0.85"/>
<circle cx="56.0" cy="306.2" r="1.25" fill="#dadada" fill-opacity="0.85"/>
<circle cx="128.2" cy="306.3" r="1.25" fill="#dadada" fill-opacity="0.85"/>
<circle cx="119.2" cy="305.9" r="1.25" fill="#dadada" fill-opacity="0.85"/>
<circle cx="80.4" cy="306.8" r="1.25" fill="#dadada" fill-opacity="0.85"/>
<circle cx="85.3" cy="306.1" r="1.25" fill="#dadada" fill-opacity="0.85"/>
<circle cx="74.7" cy="306.6" r="1.25" fill="#dadada" fill-opacity="0.85"/>
<circle cx="150.7" cy="306.2" r="1.25" fill="#dadada" fill-opacity="0.85"/>
<circle cx="88.1" cy="306.2" r="1.25" fill="#dadada" fill-opacity="0.85"/>
<circle cx="74.2" cy="306.4" r="1.25" fill="#dadada" fill-opacity="0.85"/>
<circle cx="139.9" cy="305.9" r="1.25" fill="#dadada" fill-opacity="0.85"/>
<circle cx="147.9" cy="306.4" r="1.25" fill="#dadada" fill-opacity="0.85"/>
<circle cx="67.5" cy="306.3" r="1.25" fill="#dadada" fill-opacity="0.85"/>
<circle cx="143.2" cy="306.0" r="1.25" fill="#dadada" fill-opacity="0.85"/>
<circle cx="129.6" cy="305.9" r="1.25" fill="#dadada" fill-opacity="0.85"/>
<circle cx="82.7" cy="306.6" r="1.25" fill="#dadada" fill-opacity="0.85"/>
<circle cx="75.9" cy="306.4" r="1.25" fill="#dadada" fill-opacity="0.85"/>
<circle cx="120.4" cy="306.3" r="1.25" fill="#dadada" fill-opacity="0.85"/>
<circle cx="86.8" cy="306.0" r="1.25" fill="#dadada" fill-opacity="0.85"/>
<circle cx="116.1" cy="297.6" r="1.25" fill="#dadada" fill-opacity="0.85"/>
<circle cx="98.6" cy="306.1" r="1.25" fill="#dadada" fill-opacity="0.85"/>
<circle cx="114.0" cy="306.1" r="1.25" fill="#dadada" fill-opacity="0.85"/>
<circle cx="110.8" cy="299.9" r="1.25" fill="#dadada" fill-opacity="0.85"/>
<circle cx="103.1" cy="295.3" r="1.25" fill="#dadada" fill-opacity="0.85"/>
<circle cx="97.5" cy="304.1" r="1.25" fill="#dadada" fill-opacity="0.85"/>
<circle cx="105.9" cy="306.4" r="1.25" fill="#dadada" fill-opacity="0.85"/>
<circle cx="113.2" cy="303.4" r="1.25" fill="#dadada" fill-opacity="0.85"/>
<circle cx="99.9" cy="306.0" r="1.25" fill="#dadada" fill-opacity="0.85"/>
<circle cx="109.3" cy="303.0" r="1.25" fill="#dadada" fill-opacity="0.85"/>
<circle cx="109.3" cy="300.8" r="1.25" fill="#dadada" fill-opacity="0.85"/>
<circle cx="112.7" cy="288.8" r="1.25" fill="#dadada" fill-opacity="0.85"/>
<circle cx="110.4" cy="304.9" r="1.25" fill="#dadada" fill-opacity="0.85"/>
<circle cx="106.3" cy="305.7" r="1.25" fill="#dadada" fill-opacity="0.85"/>
<circle cx="97.4" cy="294.3" r="1.25" fill="#dadada" fill-opacity="0.85"/>
<circle cx="110.9" cy="305.0" r="1.25" fill="#dadada" fill-opacity="0.85"/>
<circle cx="102.4" cy="302.0" r="1.25" fill="#dadada" fill-opacity="0.85"/>
<circle cx="110.6" cy="300.9" r="1.25" fill="#dadada" fill-opacity="0.85"/>
<circle cx="109.0" cy="299.9" r="1.25" fill="#dadada" fill-opacity="0.85"/>
<circle cx="104.7" cy="299.5" r="1.25" fill="#dadada" fill-opacity="0.85"/>
<circle cx="114.6" cy="305.5" r="1.25" fill="#dadada" fill-opacity="0.85"/>
<circle cx="115.1" cy="291.1" r="1.25" fill="#dadada" fill-opacity="0.85"/>
<circle cx="99.7" cy="297.1" r="1.25" fill="#dadada" fill-opacity="0.85"/>
<circle cx="109.2" cy="297.8" r="1.25" fill="#dadada" fill-opacity="0.85"/>
<circle cx="104.4" cy="301.4" r="1.25" fill="#dadada" fill-opacity="0.85"/>
<circle cx="114.1" cy="290.3" r="1.25" fill="#dadada" fill-opacity="0.85"/>
<circle cx="115.4" cy="297.7" r="1.25" fill="#dadada" fill-opacity="0.85"/>
<circle cx="109.7" cy="305.1" r="1.25" fill="#dadada" fill-opacity="0.85"/>
<circle cx="111.1" cy="295.5" r="1.25" fill="#dadada" fill-opacity="0.85"/>
<circle cx="109.5" cy="299.8" r="1.25" fill="#dadada" fill-opacity="0.85"/>
<circle cx="101.3" cy="287.7" r="1.25" fill="#dadada" fill-opacity="0.85"/>
<circle cx="116.1" cy="282.4" r="1.25" fill="#dadada" fill-opacity="0.85"/>
<circle cx="107.5" cy="301.2" r="1.25" fill="#dadada" fill-opacity="0.85"/>
<circle cx="103.3" cy="293.8" r="1.25" fill="#dadada" fill-opacity="0.85"/>
<circle cx="113.7" cy="301.1" r="1.25" fill="#dadada" fill-opacity="0.85"/>
<circle cx="98.7" cy="296.6" r="1.25" fill="#dadada" fill-opacity="0.85"/>
<circle cx="107.8" cy="301.1" r="1.25" fill="#dadada" fill-opacity="0.85"/>
<circle cx="106.6" cy="306.4" r="1.25" fill="#dadada" fill-opacity="0.85"/>
<circle cx="112.8" cy="305.9" r="1.25" fill="#dadada" fill-opacity="0.85"/>
<circle cx="112.6" cy="304.6" r="1.25" fill="#dadada" fill-opacity="0.85"/>
<circle cx="103.6" cy="296.7" r="1.25" fill="#dadada" fill-opacity="0.85"/>
<circle cx="99.9" cy="304.3" r="1.25" fill="#dadada" fill-opacity="0.85"/>
<circle cx="107.1" cy="302.2" r="1.25" fill="#dadada" fill-opacity="0.85"/>
<circle cx="113.4" cy="293.9" r="1.25" fill="#dadada" fill-opacity="0.85"/>
<circle cx="115.4" cy="297.0" r="1.25" fill="#dadada" fill-opacity="0.85"/>
<circle cx="115.5" cy="305.4" r="1.25" fill="#dadada" fill-opacity="0.85"/>
<circle cx="101.4" cy="297.3" r="1.25" fill="#dadada" fill-opacity="0.85"/>
<circle cx="102.8" cy="295.6" r="1.25" fill="#dadada" fill-opacity="0.85"/>
<circle cx="109.5" cy="302.1" r="1.25" fill="#dadada" fill-opacity="0.85"/>
<circle cx="113.4" cy="296.8" r="1.25" fill="#dadada" fill-opacity="0.85"/>
<circle cx="103.2" cy="302.2" r="1.25" fill="#dadada" fill-opacity="0.85"/>
<circle cx="113.5" cy="288.4" r="1.25" fill="#dadada" fill-opacity="0.85"/>
<circle cx="101.2" cy="288.8" r="1.25" fill="#dadada" fill-opacity="0.85"/>
<circle cx="115.8" cy="295.9" r="1.25" fill="#dadada" fill-opacity="0.85"/>
<circle cx="108.2" cy="305.4" r="1.25" fill="#dadada" fill-opacity="0.85"/>
<circle cx="107.5" cy="303.5" r="1.25" fill="#dadada" fill-opacity="0.85"/>
<circle cx="108.8" cy="306.3" r="1.25" fill="#dadada" fill-opacity="0.85"/>
<circle cx="115.9" cy="296.1" r="1.25" fill="#dadada" fill-opacity="0.85"/>
<circle cx="104.9" cy="299.7" r="1.25" fill="#dadada" fill-opacity="0.85"/>
<circle cx="108.0" cy="303.3" r="1.25" fill="#dadada" fill-opacity="0.85"/>
<circle cx="110.5" cy="306.1" r="1.25" fill="#dadada" fill-opacity="0.85"/>
<circle cx="107.5" cy="304.2" r="1.25" fill="#dadada" fill-opacity="0.85"/>
<circle cx="115.6" cy="284.7" r="1.25" fill="#dadada" fill-opacity="0.85"/>
<circle cx="102.3" cy="299.7" r="1.25" fill="#dadada" fill-opacity="0.85"/>
<circle cx="99.6" cy="297.6" r="1.25" fill="#dadada" fill-opacity="0.85"/>
<circle cx="112.9" cy="289.8" r="1.25" fill="#dadada" fill-opacity="0.85"/>
<circle cx="106.3" cy="304.9" r="1.25" fill="#dadada" fill-opacity="0.85"/>
<circle cx="100.8" cy="294.2" r="1.25" fill="#dadada" fill-opacity="0.85"/>
<circle cx="115.0" cy="304.8" r="1.25" fill="#dadada" fill-opacity="0.85"/>
<circle cx="112.2" cy="306.3" r="1.25" fill="#dadada" fill-opacity="0.85"/>
<circle cx="100.9" cy="303.1" r="1.25" fill="#dadada" fill-opacity="0.85"/>
<circle cx="110.4" cy="303.6" r="1.25" fill="#dadada" fill-opacity="0.85"/>
<circle cx="104.0" cy="300.0" r="1.25" fill="#dadada" fill-opacity="0.85"/>
<circle cx="99.2" cy="288.3" r="1.25" fill="#dadada" fill-opacity="0.85"/>
<circle cx="99.5" cy="295.4" r="1.25" fill="#dadada" fill-opacity="0.85"/>
<circle cx="102.0" cy="304.1" r="1.25" fill="#dadada" fill-opacity="0.85"/>
<circle cx="107.4" cy="304.1" r="1.25" fill="#dadada" fill-opacity="0.85"/>
<circle cx="104.4" cy="303.1" r="1.25" fill="#dadada" fill-opacity="0.85"/>
<circle cx="107.4" cy="305.8" r="1.25" fill="#dadada" fill-opacity="0.85"/>
<circle cx="101.1" cy="294.3" r="1.25" fill="#dadada" fill-opacity="0.85"/>
<circle cx="109.5" cy="302.0" r="1.25" fill="#dadada" fill-opacity="0.85"/>
<circle cx="113.6" cy="295.4" r="1.25" fill="#dadada" fill-opacity="0.85"/>
<circle cx="113.7" cy="303.3" r="1.25" fill="#dadada" fill-opacity="0.85"/>
<circle cx="111.4" cy="294.9" r="1.25" fill="#dadada" fill-opacity="0.85"/>
<circle cx="114.6" cy="301.4" r="1.25" fill="#dadada" fill-opacity="0.85"/>
<circle cx="103.2" cy="293.2" r="1.25" fill="#dadada" fill-opacity="0.85"/>
<circle cx="101.4" cy="285.3" r="1.25" fill="#dadada" fill-opacity="0.85"/>
<circle cx="114.3" cy="304.8" r="1.25" fill="#dadada" fill-opacity="0.85"/>
<circle cx="101.8" cy="293.4" r="1.25" fill="#dadada" fill-opacity="0.85"/>
<circle cx="102.2" cy="305.5" r="1.25" fill="#dadada" fill-opacity="0.85"/>
<circle cx="113.2" cy="299.9" r="1.25" fill="#dadada" fill-opacity="0.85"/>
<circle cx="112.4" cy="305.2" r="1.25" fill="#dadada" fill-opacity="0.85"/>
<circle cx="104.9" cy="301.0" r="1.25" fill="#dadada" fill-opacity="0.85"/>
<circle cx="97.5" cy="302.5" r="1.25" fill="#dadada" fill-opacity="0.85"/>
<circle cx="110.3" cy="295.7" r="1.25" fill="#dadada" fill-opacity="0.85"/>
<circle cx="115.8" cy="305.0" r="1.25" fill="#dadada" fill-opacity="0.85"/>
<circle cx="106.9" cy="302.2" r="1.25" fill="#dadada" fill-opacity="0.85"/>
<circle cx="106.9" cy="302.7" r="1.25" fill="#dadada" fill-opacity="0.85"/>
<circle cx="100.8" cy="305.7" r="1.25" fill="#dadada" fill-opacity="0.85"/>
<circle cx="99.2" cy="306.0" r="1.25" fill="#dadada" fill-opacity="0.85"/>
<circle cx="107.8" cy="303.3" r="1.25" fill="#dadada" fill-opacity="0.85"/>
<circle cx="108.1" cy="305.8" r="1.25" fill="#dadada" fill-opacity="0.85"/>
<circle cx="100.7" cy="303.5" r="1.25" fill="#dadada" fill-opacity="0.85"/>
<circle cx="113.4" cy="286.3" r="1.25" fill="#dadada" fill-opacity="0.85"/>
<circle cx="115.0" cy="305.3" r="1.25" fill="#dadada" fill-opacity="0.85"/>
<circle cx="98.3" cy="278.7" r="1.25" fill="#dadada" fill-opacity="0.85"/>
<circle cx="106.1" cy="301.4" r="1.25" fill="#dadada" fill-opacity="0.85"/>
<circle cx="103.5" cy="301.3" r="1.25" fill="#dadada" fill-opacity="0.85"/>
<circle cx="107.1" cy="304.3" r="1.25" fill="#dadada" fill-opacity="0.85"/>
<circle cx="108.7" cy="306.4" r="1.25" fill="#dadada" fill-opacity="0.85"/>
<circle cx="110.7" cy="295.9" r="1.25" fill="#dadada" fill-opacity="0.85"/>
<circle cx="100.6" cy="298.1" r="1.25" fill="#dadada" fill-opacity="0.85"/>
<circle cx="111.4" cy="301.8" r="1.25" fill="#dadada" fill-opacity="0.85"/>
<circle cx="100.9" cy="304.3" r="1.25" fill="#dadada" fill-opacity="0.85"/>
<circle cx="107.0" cy="306.4" r="1.25" fill="#dadada" fill-opacity="0.85"/>
<circle cx="114.4" cy="289.8" r="1.25" fill="#dadada" fill-opacity="0.85"/>
<circle cx="110.8" cy="295.5" r="1.25" fill="#dadada" fill-opacity="0.85"/>
<circle cx="109.3" cy="303.4" r="1.25" fill="#dadada" fill-opacity="0.85"/>
<circle cx="108.7" cy="302.8" r="1.25" fill="#dadada" fill-opacity="0.85"/>
<circle cx="116.1" cy="287.7" r="1.25" fill="#dadada" fill-opacity="0.85"/>
<circle cx="102.1" cy="290.1" r="1.25" fill="#dadada" fill-opacity="0.85"/>
<circle cx="111.5" cy="295.3" r="1.25" fill="#dadada" fill-opacity="0.85"/>
<circle cx="112.9" cy="300.5" r="1.25" fill="#dadada" fill-opacity="0.85"/>
<circle cx="114.5" cy="287.6" r="1.25" fill="#dadada" fill-opacity="0.85"/>
<circle cx="110.6" cy="297.4" r="1.25" fill="#dadada" fill-opacity="0.85"/>
<circle cx="111.9" cy="301.3" r="1.25" fill="#dadada" fill-opacity="0.85"/>
<circle cx="111.1" cy="306.0" r="1.25" fill="#dadada" fill-opacity="0.85"/>
<circle cx="103.7" cy="301.6" r="1.25" fill="#dadada" fill-opacity="0.85"/>
<circle cx="97.4" cy="298.0" r="1.25" fill="#dadada" fill-opacity="0.85"/>
<circle cx="109.5" cy="301.0" r="1.25" fill="#dadada" fill-opacity="0.85"/>
<circle cx="101.6" cy="287.7" r="1.25" fill="#dadada" fill-opacity="0.85"/>
<circle cx="110.0" cy="303.7" r="1.25" fill="#dadada" fill-opacity="0.85"/>
<circle cx="109.9" cy="301.2" r="1.25" fill="#dadada" fill-opacity="0.85"/>
<circle cx="107.4" cy="304.4" r="1.25" fill="#dadada" fill-opacity="0.85"/>
<circle cx="116.4" cy="292.2" r="1.25" fill="#dadada" fill-opacity="0.85"/>
<circle cx="110.7" cy="297.2" r="1.25" fill="#dadada" fill-opacity="0.85"/>
<circle cx="116.1" cy="306.2" r="1.25" fill="#dadada" fill-opacity="0.85"/>
<circle cx="109.0" cy="300.1" r="1.25" fill="#dadada" fill-opacity="0.85"/>
<circle cx="102.1" cy="300.8" r="1.25" fill="#dadada" fill-opacity="0.85"/>
<circle cx="98.1" cy="302.8" r="1.25" fill="#dadada" fill-opacity="0.85"/>
<circle cx="104.4" cy="305.9" r="1.25" fill="#dadada" fill-opacity="0.85"/>
<circle cx="102.0" cy="289.8" r="1.25" fill="#dadada" fill-opacity="0.85"/>
<circle cx="107.8" cy="303.3" r="1.25" fill="#dadada" fill-opacity="0.85"/>
<circle cx="115.8" cy="294.8" r="1.25" fill="#dadada" fill-opacity="0.85"/>
<circle cx="116.4" cy="292.4" r="1.25" fill="#dadada" fill-opacity="0.85"/>
<circle cx="112.8" cy="305.8" r="1.25" fill="#dadada" fill-opacity="0.85"/>
<circle cx="108.7" cy="300.2" r="1.25" fill="#dadada" fill-opacity="0.85"/>
<circle cx="98.0" cy="278.7" r="1.25" fill="#dadada" fill-opacity="0.85"/>
<circle cx="100.2" cy="297.2" r="1.25" fill="#dadada" fill-opacity="0.85"/>
<circle cx="100.4" cy="296.8" r="1.25" fill="#dadada" fill-opacity="0.85"/>
<circle cx="108.9" cy="306.2" r="1.25" fill="#dadada" fill-opacity="0.85"/>
<circle cx="115.4" cy="298.7" r="1.25" fill="#dadada" fill-opacity="0.85"/>
<circle cx="107.3" cy="303.0" r="1.25" fill="#dadada" fill-opacity="0.85"/>
<circle cx="104.2" cy="304.2" r="1.25" fill="#dadada" fill-opacity="0.85"/>
<circle cx="109.8" cy="301.4" r="1.25" fill="#dadada" fill-opacity="0.85"/>
<circle cx="102.6" cy="295.6" r="1.25" fill="#dadada" fill-opacity="0.85"/>
<circle cx="102.9" cy="306.4" r="1.25" fill="#dadada" fill-opacity="0.85"/>
<circle cx="101.9" cy="306.1" r="1.25" fill="#dadada" fill-opacity="0.85"/>
<circle cx="100.2" cy="289.4" r="1.25" fill="#dadada" fill-opacity="0.85"/>
<circle cx="104.7" cy="298.1" r="1.25" fill="#dadada" fill-opacity="0.85"/>
<circle cx="111.6" cy="306.1" r="1.25" fill="#dadada" fill-opacity="0.85"/>
<circle cx="116.2" cy="283.2" r="1.25" fill="#dadada" fill-opacity="0.85"/>
<circle cx="98.6" cy="281.0" r="1.25" fill="#dadada" fill-opacity="0.85"/>
<circle cx="105.4" cy="303.3" r="1.25" fill="#dadada" fill-opacity="0.85"/>
<circle cx="115.9" cy="302.5" r="1.25" fill="#dadada" fill-opacity="0.85"/>
<circle cx="107.3" cy="300.3" r="1.25" fill="#dadada" fill-opacity="0.85"/>
<circle cx="111.1" cy="301.1" r="1.25" fill="#dadada" fill-opacity="0.85"/>
<circle cx="116.0" cy="287.4" r="1.25" fill="#dadada" fill-opacity="0.85"/>
<circle cx="108.8" cy="305.9" r="1.25" fill="#dadada" fill-opacity="0.85"/>
<circle cx="109.2" cy="302.9" r="1.25" fill="#dadada" fill-opacity="0.85"/>
<circle cx="101.1" cy="306.0" r="1.25" fill="#dadada" fill-opacity="0.85"/>
<circle cx="107.3" cy="306.0" r="1.25" fill="#dadada" fill-opacity="0.85"/>
<circle cx="105.7" cy="301.9" r="1.25" fill="#dadada" fill-opacity="0.85"/>
<circle cx="105.9" cy="305.1" r="1.25" fill="#dadada" fill-opacity="0.85"/>
<circle cx="108.4" cy="303.7" r="1.25" fill="#dadada" fill-opacity="0.85"/>
<circle cx="112.2" cy="298.9" r="1.25" fill="#dadada" fill-opacity="0.85"/>
<circle cx="116.4" cy="282.7" r="1.25" fill="#dadada" fill-opacity="0.85"/>
<circle cx="111.3" cy="304.1" r="1.25" fill="#dadada" fill-opacity="0.85"/>
<circle cx="99.3" cy="283.3" r="1.25" fill="#dadada" fill-opacity="0.85"/>
<circle cx="112.3" cy="297.0" r="1.25" fill="#dadada" fill-opacity="0.85"/>
<circle cx="104.1" cy="304.3" r="1.25" fill="#dadada" fill-opacity="0.85"/>
<circle cx="110.4" cy="300.6" r="1.25" fill="#dadada" fill-opacity="0.85"/>
<circle cx="108.6" cy="301.6" r="1.25" fill="#dadada" fill-opacity="0.85"/>
<circle cx="111.7" cy="304.6" r="1.25" fill="#dadada" fill-opacity="0.85"/>
<circle cx="102.0" cy="287.9" r="1.25" fill="#dadada" fill-opacity="0.85"/>
<circle cx="114.8" cy="287.1" r="1.25" fill="#dadada" fill-opacity="0.85"/>
<circle cx="97.9" cy="305.6" r="1.25" fill="#dadada" fill-opacity="0.85"/>
<circle cx="102.4" cy="300.6" r="1.25" fill="#dadada" fill-opacity="0.85"/>
<circle cx="109.2" cy="305.9" r="1.25" fill="#dadada" fill-opacity="0.85"/>
<circle cx="107.6" cy="306.2" r="1.25" fill="#dadada" fill-opacity="0.85"/>
<circle cx="98.8" cy="289.4" r="1.25" fill="#dadada" fill-opacity="0.85"/>
<circle cx="107.8" cy="302.3" r="1.25" fill="#dadada" fill-opacity="0.85"/>
<circle cx="104.4" cy="302.3" r="1.25" fill="#dadada" fill-opacity="0.85"/>
<circle cx="101.2" cy="301.0" r="1.25" fill="#dadada" fill-opacity="0.85"/>
<circle cx="111.5" cy="294.2" r="1.25" fill="#dadada" fill-opacity="0.85"/>
<circle cx="98.6" cy="304.6" r="1.25" fill="#dadada" fill-opacity="0.85"/>
<circle cx="112.8" cy="296.3" r="1.25" fill="#dadada" fill-opacity="0.85"/>
<circle cx="112.0" cy="304.2" r="1.25" fill="#dadada" fill-opacity="0.85"/>
<circle cx="105.3" cy="305.0" r="1.25" fill="#dadada" fill-opacity="0.85"/>
<circle cx="112.8" cy="301.3" r="1.25" fill="#dadada" fill-opacity="0.85"/>
<circle cx="109.8" cy="296.0" r="1.25" fill="#dadada" fill-opacity="0.85"/>
<circle cx="103.4" cy="300.0" r="1.25" fill="#dadada" fill-opacity="0.85"/>
<circle cx="111.5" cy="292.6" r="1.25" fill="#dadada" fill-opacity="0.85"/>
<circle cx="105.4" cy="304.2" r="1.25" fill="#dadada" fill-opacity="0.85"/>
<circle cx="99.0" cy="283.1" r="1.25" fill="#dadada" fill-opacity="0.85"/>
<circle cx="98.7" cy="305.3" r="1.25" fill="#dadada" fill-opacity="0.85"/>
<circle cx="108.0" cy="303.4" r="1.25" fill="#dadada" fill-opacity="0.85"/>
<circle cx="110.4" cy="303.9" r="1.25" fill="#dadada" fill-opacity="0.85"/>
<circle cx="112.1" cy="305.8" r="1.25" fill="#dadada" fill-opacity="0.85"/>
<circle cx="101.3" cy="293.9" r="1.25" fill="#dadada" fill-opacity="0.85"/>
<circle cx="98.7" cy="300.4" r="1.25" fill="#dadada" fill-opacity="0.85"/>
<circle cx="111.1" cy="297.5" r="1.25" fill="#dadada" fill-opacity="0.85"/>
<circle cx="102.6" cy="305.1" r="1.25" fill="#dadada" fill-opacity="0.85"/>
<circle cx="104.1" cy="298.7" r="1.25" fill="#dadada" fill-opacity="0.85"/>
<circle cx="104.2" cy="305.7" r="1.25" fill="#dadada" fill-opacity="0.85"/>
<circle cx="110.8" cy="299.9" r="1.25" fill="#dadada" fill-opacity="0.85"/>
<circle cx="114.9" cy="285.3" r="1.25" fill="#dadada" fill-opacity="0.85"/>
<circle cx="114.8" cy="298.6" r="1.25" fill="#dadada" fill-opacity="0.85"/>
<circle cx="112.6" cy="302.5" r="1.25" fill="#dadada" fill-opacity="0.85"/>
<circle cx="103.3" cy="302.0" r="1.25" fill="#dadada" fill-opacity="0.85"/>
<circle cx="115.2" cy="286.2" r="1.25" fill="#dadada" fill-opacity="0.85"/>
<circle cx="101.9" cy="301.3" r="1.25" fill="#dadada" fill-opacity="0.85"/>
<circle cx="104.2" cy="303.4" r="1.25" fill="#dadada" fill-opacity="0.85"/>
<circle cx="104.8" cy="303.7" r="1.25" fill="#dadada" fill-opacity="0.85"/>
<circle cx="100.9" cy="295.7" r="1.25" fill="#dadada" fill-opacity="0.85"/>
<circle cx="112.5" cy="298.3" r="1.25" fill="#dadada" fill-opacity="0.85"/>
<circle cx="113.3" cy="296.9" r="1.25" fill="#dadada" fill-opacity="0.85"/>
<circle cx="100.6" cy="290.0" r="1.25" fill="#dadada" fill-opacity="0.85"/>
<circle cx="114.2" cy="302.2" r="1.25" fill="#dadada" fill-opacity="0.85"/>
<circle cx="97.6" cy="293.1" r="1.25" fill="#dadada" fill-opacity="0.85"/>
<circle cx="107.7" cy="302.9" r="1.25" fill="#dadada" fill-opacity="0.85"/>
<circle cx="115.8" cy="292.5" r="1.25" fill="#dadada" fill-opacity="0.85"/>
<circle cx="112.7" cy="305.9" r="1.25" fill="#dadada" fill-opacity="0.85"/>
<circle cx="107.7" cy="301.0" r="1.25" fill="#dadada" fill-opacity="0.85"/>
<circle cx="98.8" cy="305.3" r="1.25" fill="#dadada" fill-opacity="0.85"/>
<circle cx="111.4" cy="293.4" r="1.25" fill="#dadada" fill-opacity="0.85"/>
<circle cx="98.8" cy="290.7" r="1.25" fill="#dadada" fill-opacity="0.85"/>
<circle cx="99.9" cy="289.2" r="1.25" fill="#dadada" fill-opacity="0.85"/>
<circle cx="109.7" cy="304.8" r="1.25" fill="#dadada" fill-opacity="0.85"/>
<circle cx="101.4" cy="291.6" r="1.25" fill="#dadada" fill-opacity="0.85"/>
<circle cx="107.2" cy="301.8" r="1.25" fill="#dadada" fill-opacity="0.85"/>
<circle cx="104.8" cy="304.2" r="1.25" fill="#dadada" fill-opacity="0.85"/>
<circle cx="115.8" cy="291.9" r="1.25" fill="#dadada" fill-opacity="0.85"/>
<circle cx="106.7" cy="303.7" r="1.25" fill="#dadada" fill-opacity="0.85"/>
<circle cx="111.1" cy="297.4" r="1.25" fill="#dadada" fill-opacity="0.85"/>
<circle cx="114.8" cy="299.3" r="1.25" fill="#dadada" fill-opacity="0.85"/>
<circle cx="113.1" cy="294.8" r="1.25" fill="#dadada" fill-opacity="0.85"/>
<circle cx="113.6" cy="290.6" r="1.25" fill="#dadada" fill-opacity="0.85"/>
<circle cx="113.2" cy="289.3" r="1.25" fill="#dadada" fill-opacity="0.85"/>
<circle cx="115.6" cy="292.9" r="1.25" fill="#dadada" fill-opacity="0.85"/>
<circle cx="107.3" cy="302.2" r="1.25" fill="#dadada" fill-opacity="0.85"/>
<circle cx="112.6" cy="300.5" r="1.25" fill="#dadada" fill-opacity="0.85"/>
<circle cx="105.3" cy="305.7" r="1.25" fill="#dadada" fill-opacity="0.85"/>
<circle cx="111.5" cy="291.4" r="1.25" fill="#dadada" fill-opacity="0.85"/>
<circle cx="104.4" cy="305.4" r="1.25" fill="#dadada" fill-opacity="0.85"/>
<circle cx="101.1" cy="299.2" r="1.25" fill="#dadada" fill-opacity="0.85"/>
<circle cx="102.8" cy="290.9" r="1.25" fill="#dadada" fill-opacity="0.85"/>
<circle cx="98.3" cy="300.0" r="1.25" fill="#dadada" fill-opacity="0.85"/>
<circle cx="99.4" cy="291.2" r="1.25" fill="#dadada" fill-opacity="0.85"/>
<circle cx="112.1" cy="304.6" r="1.25" fill="#dadada" fill-opacity="0.85"/>
<circle cx="98.4" cy="295.7" r="1.25" fill="#dadada" fill-opacity="0.85"/>
<circle cx="108.4" cy="298.9" r="1.25" fill="#dadada" fill-opacity="0.85"/>
<circle cx="97.9" cy="304.7" r="1.25" fill="#dadada" fill-opacity="0.85"/>
<circle cx="100.7" cy="303.2" r="1.25" fill="#dadada" fill-opacity="0.85"/>
<circle cx="101.7" cy="293.5" r="1.25" fill="#dadada" fill-opacity="0.85"/>
<circle cx="108.6" cy="305.2" r="1.25" fill="#dadada" fill-opacity="0.85"/>
<circle cx="100.7" cy="302.0" r="1.25" fill="#dadada" fill-opacity="0.85"/>
<circle cx="100.5" cy="289.9" r="1.25" fill="#dadada" fill-opacity="0.85"/>
<circle cx="103.2" cy="299.6" r="1.25" fill="#dadada" fill-opacity="0.85"/>
<circle cx="112.9" cy="299.1" r="1.25" fill="#dadada" fill-opacity="0.85"/>
<circle cx="102.2" cy="290.8" r="1.25" fill="#dadada" fill-opacity="0.85"/>
<circle cx="114.8" cy="300.8" r="1.25" fill="#dadada" fill-opacity="0.85"/>
<circle cx="107.7" cy="299.5" r="1.25" fill="#dadada" fill-opacity="0.85"/>
<circle cx="106.5" cy="305.5" r="1.25" fill="#dadada" fill-opacity="0.85"/>
<circle cx="98.1" cy="278.3" r="1.25" fill="#dadada" fill-opacity="0.85"/>
<circle cx="112.6" cy="301.1" r="1.25" fill="#dadada" fill-opacity="0.85"/>
<circle cx="107.3" cy="303.6" r="1.25" fill="#dadada" fill-opacity="0.85"/>
<circle cx="102.4" cy="289.3" r="1.25" fill="#dadada" fill-opacity="0.85"/>
<circle cx="109.8" cy="304.8" r="1.25" fill="#dadada" fill-opacity="0.85"/>
<circle cx="97.4" cy="294.3" r="1.25" fill="#dadada" fill-opacity="0.85"/>
<circle cx="104.3" cy="298.4" r="1.25" fill="#dadada" fill-opacity="0.85"/>
<circle cx="110.9" cy="299.3" r="1.25" fill="#dadada" fill-opacity="0.85"/>
<circle cx="100.2" cy="304.2" r="1.25" fill="#dadada" fill-opacity="0.85"/>
<circle cx="103.4" cy="304.0" r="1.25" fill="#dadada" fill-opacity="0.85"/>
<circle cx="113.9" cy="297.4" r="1.25" fill="#dadada" fill-opacity="0.85"/>
<circle cx="109.4" cy="296.5" r="1.25" fill="#dadada" fill-opacity="0.85"/>
<circle cx="102.3" cy="298.5" r="1.25" fill="#dadada" fill-opacity="0.85"/>
<circle cx="100.1" cy="288.7" r="1.25" fill="#dadada" fill-opacity="0.85"/>
<circle cx="97.2" cy="281.1" r="1.25" fill="#dadada" fill-opacity="0.85"/>
<circle cx="113.5" cy="290.4" r="1.25" fill="#dadada" fill-opacity="0.85"/>
<circle cx="98.7" cy="301.2" r="1.25" fill="#dadada" fill-opacity="0.85"/>
<circle cx="111.0" cy="305.8" r="1.25" fill="#dadada" fill-opacity="0.85"/>
<circle cx="106.4" cy="304.0" r="1.25" fill="#dadada" fill-opacity="0.85"/>
<circle cx="115.6" cy="294.4" r="1.25" fill="#dadada" fill-opacity="0.85"/>
<circle cx="113.7" cy="302.0" r="1.25" fill="#dadada" fill-opacity="0.85"/>
<circle cx="112.4" cy="300.8" r="1.25" fill="#dadada" fill-opacity="0.85"/>
<circle cx="114.8" cy="305.4" r="1.25" fill="#dadada" fill-opacity="0.85"/>
<circle cx="113.1" cy="303.9" r="1.25" fill="#dadada" fill-opacity="0.85"/>
<circle cx="107.6" cy="303.3" r="1.25" fill="#dadada" fill-opacity="0.85"/>
<circle cx="100.2" cy="287.1" r="1.25" fill="#dadada" fill-opacity="0.85"/>
<circle cx="75.9" cy="304.9" r="1.25" fill="#3575c0" fill-opacity="0.85"/>
<circle cx="68.6" cy="305.5" r="1.25" fill="#3575c0" fill-opacity="0.85"/>
<circle cx="80.7" cy="299.3" r="1.25" fill="#3575c0" fill-opacity="0.85"/>
<circle cx="77.4" cy="300.7" r="1.25" fill="#3575c0" fill-opacity="0.85"/>
<circle cx="69.5" cy="305.2" r="1.25" fill="#3575c0" fill-opacity="0.85"/>
<circle cx="80.5" cy="294.0" r="1.25" fill="#3575c0" fill-opacity="0.85"/>
<circle cx="91.9" cy="298.4" r="1.25" fill="#3575c0" fill-opacity="0.85"/>
<circle cx="66.7" cy="305.5" r="1.25" fill="#3575c0" fill-opacity="0.85"/>
<circle cx="88.2" cy="304.9" r="1.25" fill="#3575c0" fill-opacity="0.85"/>
<circle cx="83.7" cy="302.8" r="1.25" fill="#3575c0" fill-opacity="0.85"/>
<circle cx="66.6" cy="303.4" r="1.25" fill="#3575c0" fill-opacity="0.85"/>
<circle cx="91.0" cy="305.1" r="1.25" fill="#3575c0" fill-opacity="0.85"/>
<circle cx="85.3" cy="304.5" r="1.25" fill="#3575c0" fill-opacity="0.85"/>
<circle cx="77.9" cy="302.6" r="1.25" fill="#3575c0" fill-opacity="0.85"/>
<circle cx="75.5" cy="304.8" r="1.25" fill="#3575c0" fill-opacity="0.85"/>
<circle cx="78.4" cy="300.7" r="1.25" fill="#3575c0" fill-opacity="0.85"/>
<circle cx="74.2" cy="305.5" r="1.25" fill="#3575c0" fill-opacity="0.85"/>
<circle cx="88.9" cy="304.0" r="1.25" fill="#3575c0" fill-opacity="0.85"/>
<circle cx="95.5" cy="300.1" r="1.25" fill="#3575c0" fill-opacity="0.85"/>
<circle cx="88.6" cy="304.0" r="1.25" fill="#3575c0" fill-opacity="0.85"/>
<circle cx="91.8" cy="305.7" r="1.25" fill="#3575c0" fill-opacity="0.85"/>
<circle cx="70.6" cy="305.8" r="1.25" fill="#3575c0" fill-opacity="0.85"/>
<circle cx="87.2" cy="297.7" r="1.25" fill="#3575c0" fill-opacity="0.85"/>
<circle cx="71.8" cy="304.9" r="1.25" fill="#3575c0" fill-opacity="0.85"/>
<circle cx="92.1" cy="299.7" r="1.25" fill="#3575c0" fill-opacity="0.85"/>
<circle cx="69.1" cy="305.6" r="1.25" fill="#3575c0" fill-opacity="0.85"/>
<circle cx="71.1" cy="305.7" r="1.25" fill="#3575c0" fill-opacity="0.85"/>
<circle cx="78.8" cy="305.8" r="1.25" fill="#3575c0" fill-opacity="0.85"/>
<circle cx="94.7" cy="302.5" r="1.25" fill="#3575c0" fill-opacity="0.85"/>
<circle cx="82.1" cy="300.2" r="1.25" fill="#3575c0" fill-opacity="0.85"/>
<circle cx="90.0" cy="294.4" r="1.25" fill="#3575c0" fill-opacity="0.85"/>
<circle cx="78.2" cy="304.6" r="1.25" fill="#3575c0" fill-opacity="0.85"/>
<circle cx="79.0" cy="305.8" r="1.25" fill="#3575c0" fill-opacity="0.85"/>
<circle cx="78.6" cy="300.1" r="1.25" fill="#3575c0" fill-opacity="0.85"/>
<circle cx="96.6" cy="294.3" r="1.25" fill="#3575c0" fill-opacity="0.85"/>
<circle cx="86.7" cy="299.9" r="1.25" fill="#3575c0" fill-opacity="0.85"/>
<circle cx="66.8" cy="305.6" r="1.25" fill="#3575c0" fill-opacity="0.85"/>
<circle cx="76.8" cy="301.5" r="1.25" fill="#3575c0" fill-opacity="0.85"/>
<circle cx="69.6" cy="305.2" r="1.25" fill="#3575c0" fill-opacity="0.85"/>
<circle cx="82.0" cy="297.5" r="1.25" fill="#3575c0" fill-opacity="0.85"/>
<circle cx="91.8" cy="299.3" r="1.25" fill="#3575c0" fill-opacity="0.85"/>
<circle cx="71.2" cy="302.7" r="1.25" fill="#3575c0" fill-opacity="0.85"/>
<circle cx="94.2" cy="300.4" r="1.25" fill="#3575c0" fill-opacity="0.85"/>
<circle cx="77.2" cy="303.2" r="1.25" fill="#3575c0" fill-opacity="0.85"/>
<circle cx="70.6" cy="303.3" r="1.25" fill="#3575c0" fill-opacity="0.85"/>
<circle cx="96.7" cy="300.9" r="1.25" fill="#3575c0" fill-opacity="0.85"/>
<circle cx="88.4" cy="294.3" r="1.25" fill="#3575c0" fill-opacity="0.85"/>
<circle cx="72.4" cy="300.1" r="1.25" fill="#3575c0" fill-opacity="0.85"/>
<circle cx="85.6" cy="305.2" r="1.25" fill="#3575c0" fill-opacity="0.85"/>
<circle cx="68.8" cy="305.6" r="1.25" fill="#3575c0" fill-opacity="0.85"/>
<circle cx="84.1" cy="298.8" r="1.25" fill="#3575c0" fill-opacity="0.85"/>
<circle cx="76.4" cy="297.2" r="1.25" fill="#3575c0" fill-opacity="0.85"/>
<circle cx="77.4" cy="303.5" r="1.25" fill="#3575c0" fill-opacity="0.85"/>
<circle cx="70.1" cy="301.6" r="1.25" fill="#3575c0" fill-opacity="0.85"/>
<circle cx="70.5" cy="301.9" r="1.25" fill="#3575c0" fill-opacity="0.85"/>
<circle cx="83.1" cy="301.4" r="1.25" fill="#3575c0" fill-opacity="0.85"/>
<circle cx="83.6" cy="304.8" r="1.25" fill="#3575c0" fill-opacity="0.85"/>
<circle cx="94.4" cy="288.1" r="1.25" fill="#3575c0" fill-opacity="0.85"/>
<circle cx="91.5" cy="299.6" r="1.25" fill="#3575c0" fill-opacity="0.85"/>
<circle cx="70.1" cy="302.8" r="1.25" fill="#3575c0" fill-opacity="0.85"/>
<circle cx="75.2" cy="298.7" r="1.25" fill="#3575c0" fill-opacity="0.85"/>
<circle cx="73.7" cy="303.3" r="1.25" fill="#3575c0" fill-opacity="0.85"/>
<circle cx="91.9" cy="305.2" r="1.25" fill="#3575c0" fill-opacity="0.85"/>
<circle cx="83.2" cy="305.7" r="1.25" fill="#3575c0" fill-opacity="0.85"/>
<circle cx="67.3" cy="305.7" r="1.25" fill="#3575c0" fill-opacity="0.85"/>
<circle cx="96.7" cy="289.5" r="1.25" fill="#3575c0" fill-opacity="0.85"/>
<circle cx="86.6" cy="304.3" r="1.25" fill="#3575c0" fill-opacity="0.85"/>
<circle cx="87.0" cy="297.1" r="1.25" fill="#3575c0" fill-opacity="0.85"/>
<circle cx="78.1" cy="301.9" r="1.25" fill="#3575c0" fill-opacity="0.85"/>
<circle cx="91.1" cy="305.8" r="1.25" fill="#3575c0" fill-opacity="0.85"/>
<circle cx="72.4" cy="304.4" r="1.25" fill="#3575c0" fill-opacity="0.85"/>
<circle cx="70.7" cy="305.1" r="1.25" fill="#3575c0" fill-opacity="0.85"/>
<circle cx="83.9" cy="305.4" r="1.25" fill="#3575c0" fill-opacity="0.85"/>
<circle cx="82.3" cy="304.9" r="1.25" fill="#3575c0" fill-opacity="0.85"/>
<circle cx="83.8" cy="304.2" r="1.25" fill="#3575c0" fill-opacity="0.85"/>
<circle cx="86.1" cy="305.8" r="1.25" fill="#3575c0" fill-opacity="0.85"/>
<circle cx="87.0" cy="305.5" r="1.25" fill="#3575c0" fill-opacity="0.85"/>
<circle cx="95.9" cy="299.2" r="1.25" fill="#3575c0" fill-opacity="0.85"/>
<circle cx="80.8" cy="303.7" r="1.25" fill="#3575c0" fill-opacity="0.85"/>
<circle cx="85.5" cy="298.5" r="1.25" fill="#3575c0" fill-opacity="0.85"/>
<circle cx="89.7" cy="296.3" r="1.25" fill="#3575c0" fill-opacity="0.85"/>
<circle cx="81.3" cy="292.9" r="1.25" fill="#3575c0" fill-opacity="0.85"/>
<circle cx="92.2" cy="293.1" r="1.25" fill="#3575c0" fill-opacity="0.85"/>
<circle cx="78.9" cy="303.6" r="1.25" fill="#3575c0" fill-opacity="0.85"/>
<circle cx="83.7" cy="294.1" r="1.25" fill="#3575c0" fill-opacity="0.85"/>
<circle cx="82.5" cy="302.1" r="1.25" fill="#3575c0" fill-opacity="0.85"/>
<circle cx="79.6" cy="295.9" r="1.25" fill="#3575c0" fill-opacity="0.85"/>
<circle cx="76.2" cy="305.8" r="1.25" fill="#3575c0" fill-opacity="0.85"/>
<circle cx="88.7" cy="292.3" r="1.25" fill="#3575c0" fill-opacity="0.85"/>
<circle cx="88.9" cy="299.9" r="1.25" fill="#3575c0" fill-opacity="0.85"/>
<circle cx="89.5" cy="304.3" r="1.25" fill="#3575c0" fill-opacity="0.85"/>
<circle cx="84.6" cy="305.8" r="1.25" fill="#3575c0" fill-opacity="0.85"/>
<circle cx="70.1" cy="304.9" r="1.25" fill="#3575c0" fill-opacity="0.85"/>
<circle cx="81.8" cy="303.7" r="1.25" fill="#3575c0" fill-opacity="0.85"/>
<circle cx="67.9" cy="304.3" r="1.25" fill="#3575c0" fill-opacity="0.85"/>
<circle cx="82.5" cy="305.0" r="1.25" fill="#3575c0" fill-opacity="0.85"/>
<circle cx="75.7" cy="304.4" r="1.25" fill="#3575c0" fill-opacity="0.85"/>
<circle cx="73.6" cy="305.8" r="1.25" fill="#3575c0" fill-opacity="0.85"/>
<circle cx="94.4" cy="289.0" r="1.25" fill="#3575c0" fill-opacity="0.85"/>
<circle cx="86.8" cy="293.8" r="1.25" fill="#3575c0" fill-opacity="0.85"/>
<circle cx="79.3" cy="298.1" r="1.25" fill="#3575c0" fill-opacity="0.85"/>
<circle cx="73.1" cy="301.9" r="1.25" fill="#3575c0" fill-opacity="0.85"/>
<circle cx="83.8" cy="294.1" r="1.25" fill="#3575c0" fill-opacity="0.85"/>
<circle cx="69.3" cy="303.3" r="1.25" fill="#3575c0" fill-opacity="0.85"/>
<circle cx="70.1" cy="304.5" r="1.25" fill="#3575c0" fill-opacity="0.85"/>
<circle cx="95.6" cy="305.8" r="1.25" fill="#3575c0" fill-opacity="0.85"/>
<circle cx="73.8" cy="305.1" r="1.25" fill="#3575c0" fill-opacity="0.85"/>
<circle cx="76.3" cy="305.8" r="1.25" fill="#3575c0" fill-opacity="0.85"/>
<circle cx="93.9" cy="293.9" r="1.25" fill="#3575c0" fill-opacity="0.85"/>
<circle cx="78.5" cy="304.4" r="1.25" fill="#3575c0" fill-opacity="0.85"/>
<circle cx="84.4" cy="305.8" r="1.25" fill="#3575c0" fill-opacity="0.85"/>
<circle cx="67.2" cy="303.6" r="1.25" fill="#3575c0" fill-opacity="0.85"/>
<circle cx="75.8" cy="303.5" r="1.25" fill="#3575c0" fill-opacity="0.85"/>
<circle cx="95.1" cy="288.5" r="1.25" fill="#3575c0" fill-opacity="0.85"/>
<circle cx="80.9" cy="305.3" r="1.25" fill="#3575c0" fill-opacity="0.85"/>
<circle cx="75.4" cy="298.1" r="1.25" fill="#3575c0" fill-opacity="0.85"/>
<circle cx="94.0" cy="305.1" r="1.25" fill="#3575c0" fill-opacity="0.85"/>
<circle cx="92.1" cy="303.6" r="1.25" fill="#3575c0" fill-opacity="0.85"/>
<circle cx="80.9" cy="305.5" r="1.25" fill="#3575c0" fill-opacity="0.85"/>
<circle cx="93.4" cy="288.2" r="1.25" fill="#3575c0" fill-opacity="0.85"/>
<circle cx="72.5" cy="303.2" r="1.25" fill="#3575c0" fill-opacity="0.85"/>
<circle cx="72.2" cy="301.0" r="1.25" fill="#3575c0" fill-opacity="0.85"/>
<circle cx="67.8" cy="305.8" r="1.25" fill="#3575c0" fill-opacity="0.85"/>
<circle cx="88.7" cy="304.2" r="1.25" fill="#3575c0" fill-opacity="0.85"/>
<circle cx="94.1" cy="292.3" r="1.25" fill="#3575c0" fill-opacity="0.85"/>
<circle cx="88.3" cy="305.5" r="1.25" fill="#3575c0" fill-opacity="0.85"/>
<circle cx="87.8" cy="291.4" r="1.25" fill="#3575c0" fill-opacity="0.85"/>
<circle cx="80.0" cy="305.8" r="1.25" fill="#3575c0" fill-opacity="0.85"/>
<circle cx="73.2" cy="305.2" r="1.25" fill="#3575c0" fill-opacity="0.85"/>
<circle cx="88.2" cy="305.2" r="1.25" fill="#3575c0" fill-opacity="0.85"/>
<circle cx="71.9" cy="305.5" r="1.25" fill="#3575c0" fill-opacity="0.85"/>
<circle cx="86.8" cy="295.8" r="1.25" fill="#3575c0" fill-opacity="0.85"/>
<circle cx="77.8" cy="301.0" r="1.25" fill="#3575c0" fill-opacity="0.85"/>
<circle cx="93.6" cy="299.6" r="1.25" fill="#3575c0" fill-opacity="0.85"/>
<circle cx="73.3" cy="305.2" r="1.25" fill="#3575c0" fill-opacity="0.85"/>
<circle cx="94.9" cy="297.8" r="1.25" fill="#3575c0" fill-opacity="0.85"/>
<circle cx="74.8" cy="302.3" r="1.25" fill="#3575c0" fill-opacity="0.85"/>
<circle cx="69.0" cy="302.1" r="1.25" fill="#3575c0" fill-opacity="0.85"/>
<circle cx="79.9" cy="302.4" r="1.25" fill="#3575c0" fill-opacity="0.85"/>
<circle cx="82.7" cy="305.8" r="1.25" fill="#3575c0" fill-opacity="0.85"/>
<circle cx="84.8" cy="304.6" r="1.25" fill="#3575c0" fill-opacity="0.85"/>
<circle cx="74.0" cy="300.8" r="1.25" fill="#3575c0" fill-opacity="0.85"/>
<circle cx="69.0" cy="305.5" r="1.25" fill="#3575c0" fill-opacity="0.85"/>
<circle cx="89.6" cy="304.8" r="1.25" fill="#3575c0" fill-opacity="0.85"/>
<circle cx="74.9" cy="303.2" r="1.25" fill="#3575c0" fill-opacity="0.85"/>
<circle cx="72.0" cy="300.9" r="1.25" fill="#3575c0" fill-opacity="0.85"/>
<circle cx="96.8" cy="305.8" r="1.25" fill="#3575c0" fill-opacity="0.85"/>
<circle cx="80.5" cy="298.7" r="1.25" fill="#3575c0" fill-opacity="0.85"/>
<circle cx="78.1" cy="296.0" r="1.25" fill="#3575c0" fill-opacity="0.85"/>
<circle cx="81.7" cy="305.4" r="1.25" fill="#3575c0" fill-opacity="0.85"/>
<circle cx="83.4" cy="299.9" r="1.25" fill="#3575c0" fill-opacity="0.85"/>
<circle cx="77.4" cy="301.2" r="1.25" fill="#3575c0" fill-opacity="0.85"/>
<circle cx="90.4" cy="301.3" r="1.25" fill="#3575c0" fill-opacity="0.85"/>
<circle cx="81.9" cy="296.3" r="1.25" fill="#3575c0" fill-opacity="0.85"/>
<circle cx="87.4" cy="301.4" r="1.25" fill="#3575c0" fill-opacity="0.85"/>
<circle cx="95.7" cy="305.3" r="1.25" fill="#3575c0" fill-opacity="0.85"/>
<circle cx="90.3" cy="305.4" r="1.25" fill="#3575c0" fill-opacity="0.85"/>
<circle cx="85.0" cy="305.0" r="1.25" fill="#3575c0" fill-opacity="0.85"/>
<circle cx="79.9" cy="298.5" r="1.25" fill="#3575c0" fill-opacity="0.85"/>
<circle cx="90.6" cy="295.1" r="1.25" fill="#3575c0" fill-opacity="0.85"/>
<circle cx="73.6" cy="304.1" r="1.25" fill="#3575c0" fill-opacity="0.85"/>
<circle cx="73.1" cy="303.5" r="1.25" fill="#3575c0" fill-opacity="0.85"/>
<circle cx="81.7" cy="305.8" r="1.25" fill="#3575c0" fill-opacity="0.85"/>
<circle cx="84.7" cy="298.2" r="1.25" fill="#3575c0" fill-opacity="0.85"/>
<circle cx="84.0" cy="294.8" r="1.25" fill="#3575c0" fill-opacity="0.85"/>
<circle cx="71.8" cy="305.7" r="1.25" fill="#3575c0" fill-opacity="0.85"/>
<circle cx="66.8" cy="305.2" r="1.25" fill="#3575c0" fill-opacity="0.85"/>
<circle cx="79.7" cy="303.5" r="1.25" fill="#3575c0" fill-opacity="0.85"/>
<circle cx="74.4" cy="300.6" r="1.25" fill="#3575c0" fill-opacity="0.85"/>
<circle cx="68.5" cy="302.9" r="1.25" fill="#3575c0" fill-opacity="0.85"/>
<circle cx="83.8" cy="301.6" r="1.25" fill="#3575c0" fill-opacity="0.85"/>
<circle cx="90.7" cy="304.9" r="1.25" fill="#3575c0" fill-opacity="0.85"/>
<circle cx="70.8" cy="305.3" r="1.25" fill="#3575c0" fill-opacity="0.85"/>
<circle cx="67.6" cy="305.5" r="1.25" fill="#3575c0" fill-opacity="0.85"/>
<circle cx="85.5" cy="301.6" r="1.25" fill="#3575c0" fill-opacity="0.85"/>
<circle cx="74.4" cy="303.0" r="1.25" fill="#3575c0" fill-opacity="0.85"/>
<circle cx="69.0" cy="303.3" r="1.25" fill="#3575c0" fill-opacity="0.85"/>
<circle cx="71.6" cy="305.5" r="1.25" fill="#3575c0" fill-opacity="0.85"/>
<circle cx="71.2" cy="303.3" r="1.25" fill="#3575c0" fill-opacity="0.85"/>
<circle cx="91.9" cy="295.1" r="1.25" fill="#3575c0" fill-opacity="0.85"/>
<circle cx="68.2" cy="305.3" r="1.25" fill="#3575c0" fill-opacity="0.85"/>
<circle cx="77.5" cy="305.3" r="1.25" fill="#3575c0" fill-opacity="0.85"/>
<circle cx="96.2" cy="305.8" r="1.25" fill="#3575c0" fill-opacity="0.85"/>
<circle cx="81.4" cy="298.2" r="1.25" fill="#3575c0" fill-opacity="0.85"/>
<circle cx="96.7" cy="305.4" r="1.25" fill="#3575c0" fill-opacity="0.85"/>
<circle cx="80.3" cy="298.9" r="1.25" fill="#3575c0" fill-opacity="0.85"/>
<circle cx="67.5" cy="305.7" r="1.25" fill="#3575c0" fill-opacity="0.85"/>
<circle cx="93.8" cy="305.5" r="1.25" fill="#3575c0" fill-opacity="0.85"/>
<circle cx="78.4" cy="304.8" r="1.25" fill="#3575c0" fill-opacity="0.85"/>
<circle cx="79.4" cy="305.8" r="1.25" fill="#3575c0" fill-opacity="0.85"/>
<circle cx="67.3" cy="303.0" r="1.25" fill="#3575c0" fill-opacity="0.85"/>
<circle cx="89.8" cy="296.7" r="1.25" fill="#3575c0" fill-opacity="0.85"/>
<circle cx="73.4" cy="305.4" r="1.25" fill="#3575c0" fill-opacity="0.85"/>
<circle cx="83.3" cy="305.0" r="1.25" fill="#3575c0" fill-opacity="0.85"/>
<circle cx="80.5" cy="294.9" r="1.25" fill="#3575c0" fill-opacity="0.85"/>
<circle cx="77.5" cy="304.6" r="1.25" fill="#3575c0" fill-opacity="0.85"/>
<circle cx="96.6" cy="298.9" r="1.25" fill="#3575c0" fill-opacity="0.85"/>
<circle cx="67.5" cy="305.4" r="1.25" fill="#3575c0" fill-opacity="0.85"/>
<circle cx="86.3" cy="305.8" r="1.25" fill="#3575c0" fill-opacity="0.85"/>
<circle cx="76.9" cy="300.9" r="1.25" fill="#3575c0" fill-opacity="0.85"/>
<circle cx="131.5" cy="304.5" r="1.25" fill="#a31a1e" fill-opacity="0.85"/>
<circle cx="131.8" cy="305.2" r="1.25" fill="#a31a1e" fill-opacity="0.85"/>
<circle cx="123.3" cy="294.9" r="1.25" fill="#a31a1e" fill-opacity="0.85"/>
<circle cx="123.1" cy="296.3" r="1.25" fill="#a31a1e" fill-opacity="0.85"/>
<circle cx="120.2" cy="303.7" r="1.25" fill="#a31a1e" fill-opacity="0.85"/>
<circle cx="119.6" cy="299.4" r="1.25" fill="#a31a1e" fill-opacity="0.85"/>
<circle cx="119.3" cy="305.2" r="1.25" fill="#a31a1e" fill-opacity="0.85"/>
<circle cx="120.2" cy="301.7" r="1.25" fill="#a31a1e" fill-opacity="0.85"/>
<circle cx="121.8" cy="302.7" r="1.25" fill="#a31a1e" fill-opacity="0.85"/>
<circle cx="133.7" cy="304.9" r="1.25" fill="#a31a1e" fill-opacity="0.85"/>
<circle cx="131.4" cy="305.7" r="1.25" fill="#a31a1e" fill-opacity="0.85"/>
<circle cx="123.1" cy="305.8" r="1.25" fill="#a31a1e" fill-opacity="0.85"/>
<circle cx="128.5" cy="305.1" r="1.25" fill="#a31a1e" fill-opacity="0.85"/>
<circle cx="121.2" cy="305.8" r="1.25" fill="#a31a1e" fill-opacity="0.85"/>
<circle cx="119.6" cy="304.7" r="1.25" fill="#a31a1e" fill-opacity="0.85"/>
<circle cx="123.3" cy="292.3" r="1.25" fill="#a31a1e" fill-opacity="0.85"/>
<circle cx="128.9" cy="305.5" r="1.25" fill="#a31a1e" fill-opacity="0.85"/>
<circle cx="122.7" cy="305.6" r="1.25" fill="#a31a1e" fill-opacity="0.85"/>
<circle cx="132.7" cy="305.5" r="1.25" fill="#a31a1e" fill-opacity="0.85"/>
<circle cx="129.7" cy="303.0" r="1.25" fill="#a31a1e" fill-opacity="0.85"/>
<circle cx="132.2" cy="305.8" r="1.25" fill="#a31a1e" fill-opacity="0.85"/>
<circle cx="122.0" cy="303.7" r="1.25" fill="#a31a1e" fill-opacity="0.85"/>
<circle cx="117.9" cy="284.9" r="1.25" fill="#a31a1e" fill-opacity="0.85"/>
<circle cx="122.1" cy="295.3" r="1.25" fill="#a31a1e" fill-opacity="0.85"/>
<circle cx="125.5" cy="305.8" r="1.25" fill="#a31a1e" fill-opacity="0.85"/>
<circle cx="123.3" cy="305.2" r="1.25" fill="#a31a1e" fill-opacity="0.85"/>
<circle cx="117.2" cy="305.5" r="1.25" fill="#a31a1e" fill-opacity="0.85"/>
<circle cx="126.8" cy="305.8" r="1.25" fill="#a31a1e" fill-opacity="0.85"/>
<circle cx="121.9" cy="303.1" r="1.25" fill="#a31a1e" fill-opacity="0.85"/>
<circle cx="125.9" cy="305.7" r="1.25" fill="#a31a1e" fill-opacity="0.85"/>
<circle cx="128.7" cy="305.5" r="1.25" fill="#a31a1e" fill-opacity="0.85"/>
<circle cx="129.1" cy="303.3" r="1.25" fill="#a31a1e" fill-opacity="0.85"/>
<circle cx="119.0" cy="305.1" r="1.25" fill="#a31a1e" fill-opacity="0.85"/>
<circle cx="121.3" cy="296.1" r="1.25" fill="#a31a1e" fill-opacity="0.85"/>
<circle cx="123.5" cy="304.0" r="1.25" fill="#a31a1e" fill-opacity="0.85"/>
<circle cx="131.5" cy="305.7" r="1.25" fill="#a31a1e" fill-opacity="0.85"/>
<circle cx="121.5" cy="304.0" r="1.25" fill="#a31a1e" fill-opacity="0.85"/>
<circle cx="120.2" cy="305.8" r="1.25" fill="#a31a1e" fill-opacity="0.85"/>
<circle cx="116.9" cy="295.7" r="1.25" fill="#a31a1e" fill-opacity="0.85"/>
<circle cx="126.3" cy="299.3" r="1.25" fill="#a31a1e" fill-opacity="0.85"/>
<circle cx="133.4" cy="305.7" r="1.25" fill="#a31a1e" fill-opacity="0.85"/>
<circle cx="128.1" cy="299.7" r="1.25" fill="#a31a1e" fill-opacity="0.85"/>
<circle cx="120.2" cy="295.7" r="1.25" fill="#a31a1e" fill-opacity="0.85"/>
<circle cx="128.0" cy="299.1" r="1.25" fill="#a31a1e" fill-opacity="0.85"/>
<circle cx="131.5" cy="305.7" r="1.25" fill="#a31a1e" fill-opacity="0.85"/>
<circle cx="127.4" cy="305.8" r="1.25" fill="#a31a1e" fill-opacity="0.85"/>
<circle cx="123.9" cy="304.1" r="1.25" fill="#a31a1e" fill-opacity="0.85"/>
<circle cx="117.5" cy="302.7" r="1.25" fill="#a31a1e" fill-opacity="0.85"/>
<circle cx="122.2" cy="302.0" r="1.25" fill="#a31a1e" fill-opacity="0.85"/>
<circle cx="121.3" cy="305.5" r="1.25" fill="#a31a1e" fill-opacity="0.85"/>
<circle cx="123.4" cy="302.9" r="1.25" fill="#a31a1e" fill-opacity="0.85"/>
<circle cx="119.3" cy="295.6" r="1.25" fill="#a31a1e" fill-opacity="0.85"/>
<circle cx="120.6" cy="305.7" r="1.25" fill="#a31a1e" fill-opacity="0.85"/>
<circle cx="122.4" cy="303.3" r="1.25" fill="#a31a1e" fill-opacity="0.85"/>
<circle cx="119.1" cy="298.2" r="1.25" fill="#a31a1e" fill-opacity="0.85"/>
<circle cx="128.6" cy="304.1" r="1.25" fill="#a31a1e" fill-opacity="0.85"/>
<circle cx="128.6" cy="305.8" r="1.25" fill="#a31a1e" fill-opacity="0.85"/>
<circle cx="123.2" cy="304.2" r="1.25" fill="#a31a1e" fill-opacity="0.85"/>
<circle cx="117.5" cy="302.3" r="1.25" fill="#a31a1e" fill-opacity="0.85"/>
<circle cx="117.4" cy="300.1" r="1.25" fill="#a31a1e" fill-opacity="0.85"/>
<circle cx="126.6" cy="304.1" r="1.25" fill="#a31a1e" fill-opacity="0.85"/>
<circle cx="122.1" cy="305.0" r="1.25" fill="#a31a1e" fill-opacity="0.85"/>
<circle cx="116.9" cy="303.3" r="1.25" fill="#a31a1e" fill-opacity="0.85"/>
<circle cx="131.9" cy="304.8" r="1.25" fill="#a31a1e" fill-opacity="0.85"/>
<circle cx="121.0" cy="297.2" r="1.25" fill="#a31a1e" fill-opacity="0.85"/>
<circle cx="119.7" cy="301.4" r="1.25" fill="#a31a1e" fill-opacity="0.85"/>
<circle cx="127.1" cy="297.6" r="1.25" fill="#a31a1e" fill-opacity="0.85"/>
<circle cx="122.7" cy="300.9" r="1.25" fill="#a31a1e" fill-opacity="0.85"/>
<circle cx="132.8" cy="304.1" r="1.25" fill="#a31a1e" fill-opacity="0.85"/>
<circle cx="127.3" cy="302.9" r="1.25" fill="#a31a1e" fill-opacity="0.85"/>
<circle cx="123.6" cy="303.8" r="1.25" fill="#a31a1e" fill-opacity="0.85"/>
<circle cx="121.2" cy="292.0" r="1.25" fill="#a31a1e" fill-opacity="0.85"/>
<circle cx="131.7" cy="305.4" r="1.25" fill="#a31a1e" fill-opacity="0.85"/>
<circle cx="132.2" cy="305.8" r="1.25" fill="#a31a1e" fill-opacity="0.85"/>
<circle cx="118.8" cy="300.2" r="1.25" fill="#a31a1e" fill-opacity="0.85"/>
<circle cx="121.8" cy="303.9" r="1.25" fill="#a31a1e" fill-opacity="0.85"/>
<circle cx="133.4" cy="305.8" r="1.25" fill="#a31a1e" fill-opacity="0.85"/>
<circle cx="119.8" cy="305.0" r="1.25" fill="#a31a1e" fill-opacity="0.85"/>
<circle cx="128.3" cy="305.6" r="1.25" fill="#a31a1e" fill-opacity="0.85"/>
<circle cx="116.5" cy="298.5" r="1.25" fill="#a31a1e" fill-opacity="0.85"/>
<circle cx="123.3" cy="305.2" r="1.25" fill="#a31a1e" fill-opacity="0.85"/>
<circle cx="125.0" cy="301.0" r="1.25" fill="#a31a1e" fill-opacity="0.85"/>
<circle cx="126.0" cy="302.0" r="1.25" fill="#a31a1e" fill-opacity="0.85"/>
<circle cx="126.2" cy="298.7" r="1.25" fill="#a31a1e" fill-opacity="0.85"/>
<circle cx="133.3" cy="305.6" r="1.25" fill="#a31a1e" fill-opacity="0.85"/>
<circle cx="122.5" cy="292.0" r="1.25" fill="#a31a1e" fill-opacity="0.85"/>
<circle cx="121.9" cy="296.7" r="1.25" fill="#a31a1e" fill-opacity="0.85"/>
<circle cx="128.5" cy="302.9" r="1.25" fill="#a31a1e" fill-opacity="0.85"/>
<circle cx="133.2" cy="304.0" r="1.25" fill="#a31a1e" fill-opacity="0.85"/>
<circle cx="119.2" cy="297.0" r="1.25" fill="#a31a1e" fill-opacity="0.85"/>
<circle cx="125.0" cy="302.3" r="1.25" fill="#a31a1e" fill-opacity="0.85"/>
<circle cx="122.9" cy="304.9" r="1.25" fill="#a31a1e" fill-opacity="0.85"/>
<circle cx="129.5" cy="304.4" r="1.25" fill="#a31a1e" fill-opacity="0.85"/>
<circle cx="120.6" cy="304.9" r="1.25" fill="#a31a1e" fill-opacity="0.85"/>
<circle cx="122.1" cy="305.5" r="1.25" fill="#a31a1e" fill-opacity="0.85"/>
<circle cx="125.4" cy="305.7" r="1.25" fill="#a31a1e" fill-opacity="0.85"/>
<circle cx="117.5" cy="305.8" r="1.25" fill="#a31a1e" fill-opacity="0.85"/>
<circle cx="118.2" cy="293.5" r="1.25" fill="#a31a1e" fill-opacity="0.85"/>
<circle cx="118.4" cy="301.4" r="1.25" fill="#a31a1e" fill-opacity="0.85"/>
<circle cx="129.9" cy="304.8" r="1.25" fill="#a31a1e" fill-opacity="0.85"/>
<circle cx="119.3" cy="287.0" r="1.25" fill="#a31a1e" fill-opacity="0.85"/>
<circle cx="131.6" cy="305.8" r="1.25" fill="#a31a1e" fill-opacity="0.85"/>
<circle cx="120.9" cy="301.2" r="1.25" fill="#a31a1e" fill-opacity="0.85"/>
<circle cx="130.3" cy="305.2" r="1.25" fill="#a31a1e" fill-opacity="0.85"/>
<circle cx="128.9" cy="305.6" r="1.25" fill="#a31a1e" fill-opacity="0.85"/>
<circle cx="128.9" cy="305.3" r="1.25" fill="#a31a1e" fill-opacity="0.85"/>
<circle cx="122.2" cy="295.9" r="1.25" fill="#a31a1e" fill-opacity="0.85"/>
<circle cx="131.1" cy="302.8" r="1.25" fill="#a31a1e" fill-opacity="0.85"/>
<circle cx="126.3" cy="304.4" r="1.25" fill="#a31a1e" fill-opacity="0.85"/>
<circle cx="128.7" cy="303.5" r="1.25" fill="#a31a1e" fill-opacity="0.85"/>
<circle cx="130.9" cy="302.9" r="1.25" fill="#a31a1e" fill-opacity="0.85"/>
<circle cx="118.6" cy="303.0" r="1.25" fill="#a31a1e" fill-opacity="0.85"/>
<circle cx="128.1" cy="305.6" r="1.25" fill="#a31a1e" fill-opacity="0.85"/>
<circle cx="119.7" cy="305.8" r="1.25" fill="#a31a1e" fill-opacity="0.85"/>
<circle cx="126.6" cy="297.1" r="1.25" fill="#a31a1e" fill-opacity="0.85"/>
<circle cx="133.3" cy="305.8" r="1.25" fill="#a31a1e" fill-opacity="0.85"/>
<circle cx="128.4" cy="304.9" r="1.25" fill="#a31a1e" fill-opacity="0.85"/>
<circle cx="127.4" cy="304.8" r="1.25" fill="#a31a1e" fill-opacity="0.85"/>
<circle cx="132.7" cy="302.6" r="1.25" fill="#a31a1e" fill-opacity="0.85"/>
<circle cx="117.3" cy="292.6" r="1.25" fill="#a31a1e" fill-opacity="0.85"/>
<circle cx="118.5" cy="305.8" r="1.25" fill="#a31a1e" fill-opacity="0.85"/>
<circle cx="121.4" cy="295.7" r="1.25" fill="#a31a1e" fill-opacity="0.85"/>
<circle cx="133.7" cy="305.8" r="1.25" fill="#a31a1e" fill-opacity="0.85"/>
<circle cx="122.2" cy="305.8" r="1.25" fill="#a31a1e" fill-opacity="0.85"/>
<circle cx="125.9" cy="303.7" r="1.25" fill="#a31a1e" fill-opacity="0.85"/>
<circle cx="122.9" cy="304.7" r="1.25" fill="#a31a1e" fill-opacity="0.85"/>
<circle cx="130.4" cy="302.3" r="1.25" fill="#a31a1e" fill-opacity="0.85"/>
<circle cx="121.4" cy="303.4" r="1.25" fill="#a31a1e" fill-opacity="0.85"/>
<circle cx="127.2" cy="301.0" r="1.25" fill="#a31a1e" fill-opacity="0.85"/>
<circle cx="133.5" cy="305.5" r="1.25" fill="#a31a1e" fill-opacity="0.85"/>
<circle cx="128.5" cy="304.1" r="1.25" fill="#a31a1e" fill-opacity="0.85"/>
<circle cx="130.3" cy="305.8" r="1.25" fill="#a31a1e" fill-opacity="0.85"/>
<circle cx="119.5" cy="305.7" r="1.25" fill="#a31a1e" fill-opacity="0.85"/>
<circle cx="132.7" cy="305.7" r="1.25" fill="#a31a1e" fill-opacity="0.85"/>
<circle cx="124.9" cy="305.7" r="1.25" fill="#a31a1e" fill-opacity="0.85"/>
<circle cx="122.1" cy="305.8" r="1.25" fill="#a31a1e" fill-opacity="0.85"/>
<circle cx="126.3" cy="305.7" r="1.25" fill="#a31a1e" fill-opacity="0.85"/>
<circle cx="127.3" cy="305.4" r="1.25" fill="#a31a1e" fill-opacity="0.85"/>
<circle cx="120.4" cy="301.5" r="1.25" fill="#a31a1e" fill-opacity="0.85"/>
<circle cx="122.8" cy="305.0" r="1.25" fill="#a31a1e" fill-opacity="0.85"/>
<circle cx="117.3" cy="305.8" r="1.25" fill="#a31a1e" fill-opacity="0.85"/>
<circle cx="132.0" cy="305.6" r="1.25" fill="#a31a1e" fill-opacity="0.85"/>
<circle cx="117.8" cy="305.3" r="1.25" fill="#a31a1e" fill-opacity="0.85"/>
<circle cx="124.8" cy="292.6" r="1.25" fill="#a31a1e" fill-opacity="0.85"/>
<circle cx="120.0" cy="288.2" r="1.25" fill="#a31a1e" fill-opacity="0.85"/>
<circle cx="124.9" cy="304.1" r="1.25" fill="#a31a1e" fill-opacity="0.85"/>
<circle cx="130.5" cy="305.2" r="1.25" fill="#a31a1e" fill-opacity="0.85"/>
<circle cx="117.5" cy="298.6" r="1.25" fill="#a31a1e" fill-opacity="0.85"/>
<circle cx="127.9" cy="303.2" r="1.25" fill="#a31a1e" fill-opacity="0.85"/>
<circle cx="121.3" cy="287.4" r="1.25" fill="#a31a1e" fill-opacity="0.85"/>
<circle cx="131.5" cy="301.5" r="1.25" fill="#a31a1e" fill-opacity="0.85"/>
<circle cx="124.1" cy="296.2" r="1.25" fill="#a31a1e" fill-opacity="0.85"/>
<circle cx="129.0" cy="305.7" r="1.25" fill="#a31a1e" fill-opacity="0.85"/>
<circle cx="116.9" cy="305.3" r="1.25" fill="#a31a1e" fill-opacity="0.85"/>
<circle cx="118.5" cy="305.8" r="1.25" fill="#a31a1e" fill-opacity="0.85"/>
<circle cx="122.7" cy="296.6" r="1.25" fill="#a31a1e" fill-opacity="0.85"/>
<circle cx="121.8" cy="301.5" r="1.25" fill="#a31a1e" fill-opacity="0.85"/>
<circle cx="116.6" cy="305.0" r="1.25" fill="#a31a1e" fill-opacity="0.85"/>
<circle cx="133.1" cy="305.8" r="1.25" fill="#a31a1e" fill-opacity="0.85"/>
<circle cx="125.6" cy="298.5" r="1.25" fill="#a31a1e" fill-opacity="0.85"/>
<circle cx="130.2" cy="303.1" r="1.25" fill="#a31a1e" fill-opacity="0.85"/>
<circle cx="123.4" cy="296.1" r="1.25" fill="#a31a1e" fill-opacity="0.85"/>
<circle cx="130.8" cy="303.1" r="1.25" fill="#a31a1e" fill-opacity="0.85"/>
<circle cx="133.6" cy="305.8" r="1.25" fill="#a31a1e" fill-opacity="0.85"/>
<circle cx="133.0" cy="305.5" r="1.25" fill="#a31a1e" fill-opacity="0.85"/>
<circle cx="128.7" cy="305.5" r="1.25" fill="#a31a1e" fill-opacity="0.85"/>
<circle cx="132.3" cy="305.8" r="1.25" fill="#a31a1e" fill-opacity="0.85"/>
<circle cx="126.5" cy="305.5" r="1.25" fill="#a31a1e" fill-opacity="0.85"/>
<circle cx="123.2" cy="304.2" r="1.25" fill="#a31a1e" fill-opacity="0.85"/>
<circle cx="127.9" cy="301.0" r="1.25" fill="#a31a1e" fill-opacity="0.85"/>
<circle cx="71.1" cy="251.7" r="1.25" fill="#3575c0" fill-opacity="0.85"/>
<circle cx="77.8" cy="250.9" r="1.25" fill="#3575c0" fill-opacity="0.85"/>
<circle cx="74.0" cy="255.4" r="1.25" fill="#3575c0" fill-opacity="0.85"/>
<circle cx="77.8" cy="259.9" r="1.25" fill="#3575c0" fill-opacity="0.85"/>
<circle cx="82.7" cy="259.1" r="1.25" fill="#3575c0" fill-opacity="0.85"/>
<circle cx="95.2" cy="264.3" r="1.25" fill="#3575c0" fill-opacity="0.85"/>
<circle cx="71.1" cy="265.8" r="1.25" fill="#3575c0" fill-opacity="0.85"/>
<circle cx="64.3" cy="269.6" r="1.25" fill="#3575c0" fill-opacity="0.85"/>
<circle cx="70.6" cy="269.6" r="1.25" fill="#3575c0" fill-opacity="0.85"/>
<circle cx="85.6" cy="268.1" r="1.25" fill="#3575c0" fill-opacity="0.85"/>
<circle cx="81.7" cy="273.3" r="1.25" fill="#3575c0" fill-opacity="0.85"/>
<circle cx="95.2" cy="272.5" r="1.25" fill="#3575c0" fill-opacity="0.85"/>
<circle cx="83.6" cy="279.2" r="1.25" fill="#3575c0" fill-opacity="0.85"/>
<circle cx="62.4" cy="282.2" r="1.25" fill="#3575c0" fill-opacity="0.85"/>
<circle cx="66.3" cy="285.2" r="1.25" fill="#3575c0" fill-opacity="0.85"/>
<circle cx="69.2" cy="285.9" r="1.25" fill="#3575c0" fill-opacity="0.85"/>
<circle cx="89.4" cy="283.0" r="1.25" fill="#3575c0" fill-opacity="0.85"/>
<circle cx="55.7" cy="293.4" r="1.25" fill="#3575c0" fill-opacity="0.85"/>
<circle cx="67.2" cy="291.9" r="1.25" fill="#3575c0" fill-opacity="0.85"/>
<circle cx="65.3" cy="300.8" r="1.25" fill="#3575c0" fill-opacity="0.85"/>
<circle cx="86.5" cy="288.2" r="1.25" fill="#3575c0" fill-opacity="0.85"/>
<circle cx="91.4" cy="285.9" r="1.25" fill="#3575c0" fill-opacity="0.85"/>
<circle cx="87.5" cy="277.0" r="1.25" fill="#3575c0" fill-opacity="0.85"/>
<circle cx="92.3" cy="280.0" r="1.25" fill="#3575c0" fill-opacity="0.85"/>
<circle cx="79.8" cy="284.4" r="1.25" fill="#3575c0" fill-opacity="0.85"/>
<circle cx="122.2" cy="275.5" r="1.25" fill="#a31a1e" fill-opacity="0.85"/>
<circle cx="124.2" cy="278.5" r="1.25" fill="#a31a1e" fill-opacity="0.85"/>
<circle cx="121.3" cy="282.2" r="1.25" fill="#a31a1e" fill-opacity="0.85"/>
<circle cx="129.0" cy="291.9" r="1.25" fill="#a31a1e" fill-opacity="0.85"/>
<circle cx="131.9" cy="300.8" r="1.25" fill="#a31a1e" fill-opacity="0.85"/>
<circle cx="118.4" cy="280.0" r="1.25" fill="#a31a1e" fill-opacity="0.85"/>
<circle cx="123.2" cy="285.9" r="1.25" fill="#a31a1e" fill-opacity="0.85"/>
<circle cx="133.8" cy="303.8" r="1.25" fill="#a31a1e" fill-opacity="0.85"/>
<line x1="97.15" y1="244.00" x2="97.15" y2="307.50" stroke="#acacac" stroke-width="1.1" stroke-dasharray="5,2.8"/>
<line x1="116.45" y1="244.00" x2="116.45" y2="307.50" stroke="#acacac" stroke-width="1.1" stroke-dasharray="5,2.8"/>
<line x1="49.90" y1="305.83" x2="167.59" y2="305.83" stroke="#acacac" stroke-width="1.1" stroke-dasharray="5,2.8"/>
<line x1="48.90" y1="244.80" x2="48.90" y2="310.50" stroke="#333333" stroke-width="1.1"/>
<line x1="48.40" y1="310.00" x2="166.63" y2="310.00" stroke="#333333" stroke-width="1.1"/>
<line x1="46.30" y1="306.80" x2="48.90" y2="306.80" stroke="#333333" stroke-width="1.0"/>
<text x="42.30" y="309.72" font-size="8.5" text-anchor="end" fill="#2b2b2b">0</text>
<line x1="46.30" y1="291.90" x2="48.90" y2="291.90" stroke="#333333" stroke-width="1.0"/>
<text x="42.30" y="294.82" font-size="8.5" text-anchor="end" fill="#2b2b2b">20</text>
<line x1="46.30" y1="277.00" x2="48.90" y2="277.00" stroke="#333333" stroke-width="1.0"/>
<text x="42.30" y="279.92" font-size="8.5" text-anchor="end" fill="#2b2b2b">40</text>
<line x1="46.30" y1="262.10" x2="48.90" y2="262.10" stroke="#333333" stroke-width="1.0"/>
<text x="42.30" y="265.02" font-size="8.5" text-anchor="end" fill="#2b2b2b">60</text>
<line x1="46.30" y1="247.20" x2="48.90" y2="247.20" stroke="#333333" stroke-width="1.0"/>
<text x="42.30" y="250.12" font-size="8.5" text-anchor="end" fill="#2b2b2b">80</text>
<line x1="48.90" y1="310.00" x2="48.90" y2="312.70" stroke="#333333" stroke-width="1.0"/>
<text x="48.90" y="322.92" font-size="8.5" text-anchor="middle" fill="#2b2b2b">&#8211;6</text>
<line x1="77.85" y1="310.00" x2="77.85" y2="312.70" stroke="#333333" stroke-width="1.0"/>
<text x="77.85" y="322.92" font-size="8.5" text-anchor="middle" fill="#2b2b2b">&#8211;3</text>
<line x1="106.80" y1="310.00" x2="106.80" y2="312.70" stroke="#333333" stroke-width="1.0"/>
<text x="106.80" y="322.92" font-size="8.5" text-anchor="middle" fill="#2b2b2b">0</text>
<line x1="135.75" y1="310.00" x2="135.75" y2="312.70" stroke="#333333" stroke-width="1.0"/>
<text x="135.75" y="322.92" font-size="8.5" text-anchor="middle" fill="#2b2b2b">3</text>
<line x1="164.70" y1="310.00" x2="164.70" y2="312.70" stroke="#333333" stroke-width="1.0"/>
<text x="164.70" y="322.92" font-size="8.5" text-anchor="middle" fill="#2b2b2b">6</text>
<text x="108.10" y="336.7" font-size="9.8" text-anchor="middle" fill="#2b2b2b" style="stroke-width:0.22px" textLength="56.3" lengthAdjust="spacingAndGlyphs">log<tspan font-size="6.2" dy="2.2">2</tspan><tspan dy="-2.2">FoldChange</tspan></text>
<g transform="translate(24.60,277.0) rotate(-90)"><text x="0" y="3.3" font-size="9.6" text-anchor="middle" fill="#2b2b2b" style="stroke-width:0.22px" textLength="52" lengthAdjust="spacingAndGlyphs">-log<tspan font-size="6.2" dy="2.2">10</tspan><tspan dy="-2.2"> (</tspan><tspan font-style="italic">P</tspan>value)</text></g>
<text x="272.30" y="218.09" font-size="8.4" text-anchor="middle" fill="#2b2b2b" textLength="74.5" lengthAdjust="spacingAndGlyphs">NOTCH2 (R2400*)</text>
<text x="272.60" y="227.89" font-size="8.4" text-anchor="middle" fill="#2b2b2b">vs.</text>
<text x="272.50" y="238.59" font-size="8.4" text-anchor="middle" fill="#2b2b2b" textLength="57" lengthAdjust="spacingAndGlyphs">NOTCH2 (WT)</text>
<circle cx="288.8" cy="306.7" r="1.25" fill="#dadada" fill-opacity="0.85"/>
<circle cx="217.9" cy="306.4" r="1.25" fill="#dadada" fill-opacity="0.85"/>
<circle cx="246.4" cy="306.0" r="1.25" fill="#dadada" fill-opacity="0.85"/>
<circle cx="291.4" cy="306.2" r="1.25" fill="#dadada" fill-opacity="0.85"/>
<circle cx="232.5" cy="306.4" r="1.25" fill="#dadada" fill-opacity="0.85"/>
<circle cx="234.3" cy="305.9" r="1.25" fill="#dadada" fill-opacity="0.85"/>
<circle cx="223.1" cy="306.0" r="1.25" fill="#dadada" fill-opacity="0.85"/>
<circle cx="224.8" cy="306.1" r="1.25" fill="#dadada" fill-opacity="0.85"/>
<circle cx="253.2" cy="306.4" r="1.25" fill="#dadada" fill-opacity="0.85"/>
<circle cx="307.8" cy="306.8" r="1.25" fill="#dadada" fill-opacity="0.85"/>
<circle cx="223.3" cy="305.9" r="1.25" fill="#dadada" fill-opacity="0.85"/>
<circle cx="323.4" cy="305.9" r="1.25" fill="#dadada" fill-opacity="0.85"/>
<circle cx="228.9" cy="306.4" r="1.25" fill="#dadada" fill-opacity="0.85"/>
<circle cx="231.4" cy="306.5" r="1.25" fill="#dadada" fill-opacity="0.85"/>
<circle cx="283.9" cy="306.6" r="1.25" fill="#dadada" fill-opacity="0.85"/>
<circle cx="292.1" cy="306.8" r="1.25" fill="#dadada" fill-opacity="0.85"/>
<circle cx="235.3" cy="306.0" r="1.25" fill="#dadada" fill-opacity="0.85"/>
<circle cx="260.0" cy="306.4" r="1.25" fill="#dadada" fill-opacity="0.85"/>
<circle cx="281.2" cy="306.3" r="1.25" fill="#dadada" fill-opacity="0.85"/>
<circle cx="258.3" cy="306.8" r="1.25" fill="#dadada" fill-opacity="0.85"/>
<circle cx="295.3" cy="305.9" r="1.25" fill="#dadada" fill-opacity="0.85"/>
<circle cx="322.3" cy="306.2" r="1.25" fill="#dadada" fill-opacity="0.85"/>
<circle cx="255.3" cy="306.4" r="1.25" fill="#dadada" fill-opacity="0.85"/>
<circle cx="291.3" cy="306.1" r="1.25" fill="#dadada" fill-opacity="0.85"/>
<circle cx="229.1" cy="306.6" r="1.25" fill="#dadada" fill-opacity="0.85"/>
<circle cx="256.0" cy="306.3" r="1.25" fill="#dadada" fill-opacity="0.85"/>
<circle cx="304.3" cy="306.3" r="1.25" fill="#dadada" fill-opacity="0.85"/>
<circle cx="219.8" cy="306.0" r="1.25" fill="#dadada" fill-opacity="0.85"/>
<circle cx="240.8" cy="306.4" r="1.25" fill="#dadada" fill-opacity="0.85"/>
<circle cx="258.7" cy="306.1" r="1.25" fill="#dadada" fill-opacity="0.85"/>
<circle cx="227.9" cy="306.3" r="1.25" fill="#dadada" fill-opacity="0.85"/>
<circle cx="236.0" cy="306.1" r="1.25" fill="#dadada" fill-opacity="0.85"/>
<circle cx="220.7" cy="306.5" r="1.25" fill="#dadada" fill-opacity="0.85"/>
<circle cx="254.0" cy="306.2" r="1.25" fill="#dadada" fill-opacity="0.85"/>
<circle cx="222.4" cy="306.4" r="1.25" fill="#dadada" fill-opacity="0.85"/>
<circle cx="239.3" cy="306.5" r="1.25" fill="#dadada" fill-opacity="0.85"/>
<circle cx="234.9" cy="305.9" r="1.25" fill="#dadada" fill-opacity="0.85"/>
<circle cx="256.1" cy="306.6" r="1.25" fill="#dadada" fill-opacity="0.85"/>
<circle cx="297.7" cy="305.9" r="1.25" fill="#dadada" fill-opacity="0.85"/>
<circle cx="217.5" cy="306.5" r="1.25" fill="#dadada" fill-opacity="0.85"/>
<circle cx="300.1" cy="306.5" r="1.25" fill="#dadada" fill-opacity="0.85"/>
<circle cx="242.9" cy="306.8" r="1.25" fill="#dadada" fill-opacity="0.85"/>
<circle cx="221.1" cy="306.2" r="1.25" fill="#dadada" fill-opacity="0.85"/>
<circle cx="323.1" cy="305.8" r="1.25" fill="#dadada" fill-opacity="0.85"/>
<circle cx="251.6" cy="306.0" r="1.25" fill="#dadada" fill-opacity="0.85"/>
<circle cx="306.7" cy="306.2" r="1.25" fill="#dadada" fill-opacity="0.85"/>
<circle cx="241.6" cy="306.3" r="1.25" fill="#dadada" fill-opacity="0.85"/>
<circle cx="245.2" cy="305.9" r="1.25" fill="#dadada" fill-opacity="0.85"/>
<circle cx="313.4" cy="306.6" r="1.25" fill="#dadada" fill-opacity="0.85"/>
<circle cx="248.2" cy="306.0" r="1.25" fill="#dadada" fill-opacity="0.85"/>
<circle cx="246.8" cy="305.9" r="1.25" fill="#dadada" fill-opacity="0.85"/>
<circle cx="292.9" cy="306.6" r="1.25" fill="#dadada" fill-opacity="0.85"/>
<circle cx="247.6" cy="306.6" r="1.25" fill="#dadada" fill-opacity="0.85"/>
<circle cx="290.6" cy="306.1" r="1.25" fill="#dadada" fill-opacity="0.85"/>
<circle cx="231.0" cy="305.9" r="1.25" fill="#dadada" fill-opacity="0.85"/>
<circle cx="316.2" cy="305.9" r="1.25" fill="#dadada" fill-opacity="0.85"/>
<circle cx="298.9" cy="306.4" r="1.25" fill="#dadada" fill-opacity="0.85"/>
<circle cx="302.1" cy="306.2" r="1.25" fill="#dadada" fill-opacity="0.85"/>
<circle cx="254.3" cy="306.4" r="1.25" fill="#dadada" fill-opacity="0.85"/>
<circle cx="296.3" cy="306.3" r="1.25" fill="#dadada" fill-opacity="0.85"/>
<circle cx="218.6" cy="306.1" r="1.25" fill="#dadada" fill-opacity="0.85"/>
<circle cx="314.4" cy="306.0" r="1.25" fill="#dadada" fill-opacity="0.85"/>
<circle cx="313.8" cy="305.9" r="1.25" fill="#dadada" fill-opacity="0.85"/>
<circle cx="257.8" cy="306.7" r="1.25" fill="#dadada" fill-opacity="0.85"/>
<circle cx="254.9" cy="306.5" r="1.25" fill="#dadada" fill-opacity="0.85"/>
<circle cx="317.7" cy="306.1" r="1.25" fill="#dadada" fill-opacity="0.85"/>
<circle cx="230.2" cy="306.3" r="1.25" fill="#dadada" fill-opacity="0.85"/>
<circle cx="292.5" cy="306.4" r="1.25" fill="#dadada" fill-opacity="0.85"/>
<circle cx="243.3" cy="306.4" r="1.25" fill="#dadada" fill-opacity="0.85"/>
<circle cx="251.7" cy="306.1" r="1.25" fill="#dadada" fill-opacity="0.85"/>
<circle cx="232.1" cy="306.7" r="1.25" fill="#dadada" fill-opacity="0.85"/>
<circle cx="250.5" cy="306.1" r="1.25" fill="#dadada" fill-opacity="0.85"/>
<circle cx="298.9" cy="306.2" r="1.25" fill="#dadada" fill-opacity="0.85"/>
<circle cx="317.8" cy="306.4" r="1.25" fill="#dadada" fill-opacity="0.85"/>
<circle cx="220.0" cy="306.3" r="1.25" fill="#dadada" fill-opacity="0.85"/>
<circle cx="288.9" cy="306.5" r="1.25" fill="#dadada" fill-opacity="0.85"/>
<circle cx="242.5" cy="306.5" r="1.25" fill="#dadada" fill-opacity="0.85"/>
<circle cx="318.8" cy="306.8" r="1.25" fill="#dadada" fill-opacity="0.85"/>
<circle cx="255.7" cy="306.5" r="1.25" fill="#dadada" fill-opacity="0.85"/>
<circle cx="238.5" cy="306.4" r="1.25" fill="#dadada" fill-opacity="0.85"/>
<circle cx="240.6" cy="305.9" r="1.25" fill="#dadada" fill-opacity="0.85"/>
<circle cx="234.3" cy="306.4" r="1.25" fill="#dadada" fill-opacity="0.85"/>
<circle cx="282.3" cy="306.0" r="1.25" fill="#dadada" fill-opacity="0.85"/>
<circle cx="243.8" cy="306.4" r="1.25" fill="#dadada" fill-opacity="0.85"/>
<circle cx="309.1" cy="306.0" r="1.25" fill="#dadada" fill-opacity="0.85"/>
<circle cx="241.3" cy="306.3" r="1.25" fill="#dadada" fill-opacity="0.85"/>
<circle cx="299.0" cy="306.4" r="1.25" fill="#dadada" fill-opacity="0.85"/>
<circle cx="289.5" cy="306.2" r="1.25" fill="#dadada" fill-opacity="0.85"/>
<circle cx="321.9" cy="306.3" r="1.25" fill="#dadada" fill-opacity="0.85"/>
<circle cx="290.3" cy="306.5" r="1.25" fill="#dadada" fill-opacity="0.85"/>
<circle cx="295.9" cy="306.5" r="1.25" fill="#dadada" fill-opacity="0.85"/>
<circle cx="250.0" cy="306.7" r="1.25" fill="#dadada" fill-opacity="0.85"/>
<circle cx="241.2" cy="306.3" r="1.25" fill="#dadada" fill-opacity="0.85"/>
<circle cx="244.0" cy="306.8" r="1.25" fill="#dadada" fill-opacity="0.85"/>
<circle cx="303.6" cy="306.5" r="1.25" fill="#dadada" fill-opacity="0.85"/>
<circle cx="317.9" cy="306.2" r="1.25" fill="#dadada" fill-opacity="0.85"/>
<circle cx="258.8" cy="306.0" r="1.25" fill="#dadada" fill-opacity="0.85"/>
<circle cx="313.7" cy="306.5" r="1.25" fill="#dadada" fill-opacity="0.85"/>
<circle cx="230.4" cy="306.2" r="1.25" fill="#dadada" fill-opacity="0.85"/>
<circle cx="307.8" cy="306.2" r="1.25" fill="#dadada" fill-opacity="0.85"/>
<circle cx="301.5" cy="306.4" r="1.25" fill="#dadada" fill-opacity="0.85"/>
<circle cx="283.5" cy="306.5" r="1.25" fill="#dadada" fill-opacity="0.85"/>
<circle cx="269.0" cy="305.0" r="1.25" fill="#dadada" fill-opacity="0.85"/>
<circle cx="268.6" cy="304.8" r="1.25" fill="#dadada" fill-opacity="0.85"/>
<circle cx="276.7" cy="305.2" r="1.25" fill="#dadada" fill-opacity="0.85"/>
<circle cx="265.1" cy="304.1" r="1.25" fill="#dadada" fill-opacity="0.85"/>
<circle cx="279.9" cy="300.1" r="1.25" fill="#dadada" fill-opacity="0.85"/>
<circle cx="262.2" cy="291.9" r="1.25" fill="#dadada" fill-opacity="0.85"/>
<circle cx="278.0" cy="295.9" r="1.25" fill="#dadada" fill-opacity="0.85"/>
<circle cx="268.1" cy="302.5" r="1.25" fill="#dadada" fill-opacity="0.85"/>
<circle cx="267.0" cy="305.8" r="1.25" fill="#dadada" fill-opacity="0.85"/>
<circle cx="277.8" cy="295.7" r="1.25" fill="#dadada" fill-opacity="0.85"/>
<circle cx="265.2" cy="295.3" r="1.25" fill="#dadada" fill-opacity="0.85"/>
<circle cx="261.6" cy="302.3" r="1.25" fill="#dadada" fill-opacity="0.85"/>
<circle cx="261.4" cy="304.5" r="1.25" fill="#dadada" fill-opacity="0.85"/>
<circle cx="264.3" cy="296.3" r="1.25" fill="#dadada" fill-opacity="0.85"/>
<circle cx="266.9" cy="305.4" r="1.25" fill="#dadada" fill-opacity="0.85"/>
<circle cx="264.7" cy="303.2" r="1.25" fill="#dadada" fill-opacity="0.85"/>
<circle cx="277.8" cy="299.4" r="1.25" fill="#dadada" fill-opacity="0.85"/>
<circle cx="263.1" cy="295.8" r="1.25" fill="#dadada" fill-opacity="0.85"/>
<circle cx="271.5" cy="304.8" r="1.25" fill="#dadada" fill-opacity="0.85"/>
<circle cx="271.3" cy="303.9" r="1.25" fill="#dadada" fill-opacity="0.85"/>
<circle cx="276.6" cy="301.5" r="1.25" fill="#dadada" fill-opacity="0.85"/>
<circle cx="273.4" cy="303.8" r="1.25" fill="#dadada" fill-opacity="0.85"/>
<circle cx="273.4" cy="304.4" r="1.25" fill="#dadada" fill-opacity="0.85"/>
<circle cx="269.2" cy="304.3" r="1.25" fill="#dadada" fill-opacity="0.85"/>
<circle cx="274.9" cy="304.6" r="1.25" fill="#dadada" fill-opacity="0.85"/>
<circle cx="279.0" cy="300.8" r="1.25" fill="#dadada" fill-opacity="0.85"/>
<circle cx="277.7" cy="298.1" r="1.25" fill="#dadada" fill-opacity="0.85"/>
<circle cx="279.6" cy="297.6" r="1.25" fill="#dadada" fill-opacity="0.85"/>
<circle cx="269.4" cy="304.9" r="1.25" fill="#dadada" fill-opacity="0.85"/>
<circle cx="272.9" cy="302.0" r="1.25" fill="#dadada" fill-opacity="0.85"/>
<circle cx="277.3" cy="305.5" r="1.25" fill="#dadada" fill-opacity="0.85"/>
<circle cx="262.4" cy="305.4" r="1.25" fill="#dadada" fill-opacity="0.85"/>
<circle cx="262.8" cy="306.0" r="1.25" fill="#dadada" fill-opacity="0.85"/>
<circle cx="261.3" cy="303.3" r="1.25" fill="#dadada" fill-opacity="0.85"/>
<circle cx="263.3" cy="296.0" r="1.25" fill="#dadada" fill-opacity="0.85"/>
<circle cx="273.0" cy="300.1" r="1.25" fill="#dadada" fill-opacity="0.85"/>
<circle cx="279.7" cy="296.5" r="1.25" fill="#dadada" fill-opacity="0.85"/>
<circle cx="279.5" cy="306.3" r="1.25" fill="#dadada" fill-opacity="0.85"/>
<circle cx="265.5" cy="295.3" r="1.25" fill="#dadada" fill-opacity="0.85"/>
<circle cx="270.3" cy="305.9" r="1.25" fill="#dadada" fill-opacity="0.85"/>
<circle cx="275.8" cy="302.9" r="1.25" fill="#dadada" fill-opacity="0.85"/>
<circle cx="271.6" cy="305.4" r="1.25" fill="#dadada" fill-opacity="0.85"/>
<circle cx="265.8" cy="305.9" r="1.25" fill="#dadada" fill-opacity="0.85"/>
<circle cx="272.9" cy="300.4" r="1.25" fill="#dadada" fill-opacity="0.85"/>
<circle cx="280.2" cy="296.0" r="1.25" fill="#dadada" fill-opacity="0.85"/>
<circle cx="279.2" cy="302.6" r="1.25" fill="#dadada" fill-opacity="0.85"/>
<circle cx="266.9" cy="298.6" r="1.25" fill="#dadada" fill-opacity="0.85"/>
<circle cx="272.7" cy="302.7" r="1.25" fill="#dadada" fill-opacity="0.85"/>
<circle cx="261.4" cy="303.6" r="1.25" fill="#dadada" fill-opacity="0.85"/>
<circle cx="270.5" cy="303.8" r="1.25" fill="#dadada" fill-opacity="0.85"/>
<circle cx="277.1" cy="297.6" r="1.25" fill="#dadada" fill-opacity="0.85"/>
<circle cx="267.7" cy="304.6" r="1.25" fill="#dadada" fill-opacity="0.85"/>
<circle cx="277.8" cy="293.1" r="1.25" fill="#dadada" fill-opacity="0.85"/>
<circle cx="270.5" cy="306.0" r="1.25" fill="#dadada" fill-opacity="0.85"/>
<circle cx="273.2" cy="303.4" r="1.25" fill="#dadada" fill-opacity="0.85"/>
<circle cx="268.1" cy="305.6" r="1.25" fill="#dadada" fill-opacity="0.85"/>
<circle cx="268.6" cy="303.6" r="1.25" fill="#dadada" fill-opacity="0.85"/>
<circle cx="263.6" cy="298.8" r="1.25" fill="#dadada" fill-opacity="0.85"/>
<circle cx="279.5" cy="296.6" r="1.25" fill="#dadada" fill-opacity="0.85"/>
<circle cx="266.0" cy="302.9" r="1.25" fill="#dadada" fill-opacity="0.85"/>
<circle cx="263.1" cy="294.8" r="1.25" fill="#dadada" fill-opacity="0.85"/>
<circle cx="273.3" cy="305.7" r="1.25" fill="#dadada" fill-opacity="0.85"/>
<circle cx="271.7" cy="303.9" r="1.25" fill="#dadada" fill-opacity="0.85"/>
<circle cx="272.3" cy="304.8" r="1.25" fill="#dadada" fill-opacity="0.85"/>
<circle cx="267.1" cy="304.3" r="1.25" fill="#dadada" fill-opacity="0.85"/>
<circle cx="280.4" cy="302.9" r="1.25" fill="#dadada" fill-opacity="0.85"/>
<circle cx="270.8" cy="305.0" r="1.25" fill="#dadada" fill-opacity="0.85"/>
<circle cx="264.5" cy="301.8" r="1.25" fill="#dadada" fill-opacity="0.85"/>
<circle cx="265.1" cy="303.3" r="1.25" fill="#dadada" fill-opacity="0.85"/>
<circle cx="268.2" cy="305.0" r="1.25" fill="#dadada" fill-opacity="0.85"/>
<circle cx="279.3" cy="303.5" r="1.25" fill="#dadada" fill-opacity="0.85"/>
<circle cx="267.6" cy="302.4" r="1.25" fill="#dadada" fill-opacity="0.85"/>
<circle cx="268.8" cy="304.2" r="1.25" fill="#dadada" fill-opacity="0.85"/>
<circle cx="273.6" cy="306.2" r="1.25" fill="#dadada" fill-opacity="0.85"/>
<circle cx="274.1" cy="306.0" r="1.25" fill="#dadada" fill-opacity="0.85"/>
<circle cx="266.0" cy="297.9" r="1.25" fill="#dadada" fill-opacity="0.85"/>
<circle cx="280.2" cy="297.6" r="1.25" fill="#dadada" fill-opacity="0.85"/>
<circle cx="264.5" cy="301.2" r="1.25" fill="#dadada" fill-opacity="0.85"/>
<circle cx="266.6" cy="298.9" r="1.25" fill="#dadada" fill-opacity="0.85"/>
<circle cx="265.7" cy="305.0" r="1.25" fill="#dadada" fill-opacity="0.85"/>
<circle cx="273.5" cy="302.4" r="1.25" fill="#dadada" fill-opacity="0.85"/>
<circle cx="272.5" cy="304.1" r="1.25" fill="#dadada" fill-opacity="0.85"/>
<circle cx="279.7" cy="301.2" r="1.25" fill="#dadada" fill-opacity="0.85"/>
<circle cx="279.2" cy="302.2" r="1.25" fill="#dadada" fill-opacity="0.85"/>
<circle cx="270.1" cy="305.3" r="1.25" fill="#dadada" fill-opacity="0.85"/>
<circle cx="275.0" cy="300.0" r="1.25" fill="#dadada" fill-opacity="0.85"/>
<circle cx="265.8" cy="301.3" r="1.25" fill="#dadada" fill-opacity="0.85"/>
<circle cx="275.2" cy="302.5" r="1.25" fill="#dadada" fill-opacity="0.85"/>
<circle cx="273.9" cy="302.3" r="1.25" fill="#dadada" fill-opacity="0.85"/>
<circle cx="274.9" cy="304.0" r="1.25" fill="#dadada" fill-opacity="0.85"/>
<circle cx="267.1" cy="306.4" r="1.25" fill="#dadada" fill-opacity="0.85"/>
<circle cx="278.3" cy="296.3" r="1.25" fill="#dadada" fill-opacity="0.85"/>
<circle cx="268.7" cy="301.3" r="1.25" fill="#dadada" fill-opacity="0.85"/>
<circle cx="278.6" cy="305.2" r="1.25" fill="#dadada" fill-opacity="0.85"/>
<circle cx="277.3" cy="302.2" r="1.25" fill="#dadada" fill-opacity="0.85"/>
<circle cx="267.2" cy="305.1" r="1.25" fill="#dadada" fill-opacity="0.85"/>
<circle cx="269.1" cy="306.3" r="1.25" fill="#dadada" fill-opacity="0.85"/>
<circle cx="262.1" cy="305.3" r="1.25" fill="#dadada" fill-opacity="0.85"/>
<circle cx="267.1" cy="305.7" r="1.25" fill="#dadada" fill-opacity="0.85"/>
<circle cx="263.5" cy="293.1" r="1.25" fill="#dadada" fill-opacity="0.85"/>
<circle cx="268.5" cy="304.2" r="1.25" fill="#dadada" fill-opacity="0.85"/>
<circle cx="272.8" cy="300.7" r="1.25" fill="#dadada" fill-opacity="0.85"/>
<circle cx="264.0" cy="304.0" r="1.25" fill="#dadada" fill-opacity="0.85"/>
<circle cx="277.8" cy="294.5" r="1.25" fill="#dadada" fill-opacity="0.85"/>
<circle cx="279.1" cy="300.2" r="1.25" fill="#dadada" fill-opacity="0.85"/>
<circle cx="268.2" cy="305.8" r="1.25" fill="#dadada" fill-opacity="0.85"/>
<circle cx="278.7" cy="296.5" r="1.25" fill="#dadada" fill-opacity="0.85"/>
<circle cx="271.8" cy="302.7" r="1.25" fill="#dadada" fill-opacity="0.85"/>
<circle cx="266.2" cy="301.7" r="1.25" fill="#dadada" fill-opacity="0.85"/>
<circle cx="278.6" cy="305.6" r="1.25" fill="#dadada" fill-opacity="0.85"/>
<circle cx="273.1" cy="305.7" r="1.25" fill="#dadada" fill-opacity="0.85"/>
<circle cx="277.3" cy="296.0" r="1.25" fill="#dadada" fill-opacity="0.85"/>
<circle cx="273.6" cy="303.9" r="1.25" fill="#dadada" fill-opacity="0.85"/>
<circle cx="261.6" cy="298.9" r="1.25" fill="#dadada" fill-opacity="0.85"/>
<circle cx="268.1" cy="304.7" r="1.25" fill="#dadada" fill-opacity="0.85"/>
<circle cx="262.6" cy="290.4" r="1.25" fill="#dadada" fill-opacity="0.85"/>
<circle cx="271.2" cy="304.4" r="1.25" fill="#dadada" fill-opacity="0.85"/>
<circle cx="277.4" cy="295.0" r="1.25" fill="#dadada" fill-opacity="0.85"/>
<circle cx="271.8" cy="304.2" r="1.25" fill="#dadada" fill-opacity="0.85"/>
<circle cx="277.5" cy="302.7" r="1.25" fill="#dadada" fill-opacity="0.85"/>
<circle cx="278.5" cy="306.3" r="1.25" fill="#dadada" fill-opacity="0.85"/>
<circle cx="276.5" cy="301.3" r="1.25" fill="#dadada" fill-opacity="0.85"/>
<circle cx="273.2" cy="299.7" r="1.25" fill="#dadada" fill-opacity="0.85"/>
<circle cx="265.4" cy="302.5" r="1.25" fill="#dadada" fill-opacity="0.85"/>
<circle cx="276.6" cy="298.3" r="1.25" fill="#dadada" fill-opacity="0.85"/>
<circle cx="271.3" cy="303.3" r="1.25" fill="#dadada" fill-opacity="0.85"/>
<circle cx="274.2" cy="299.5" r="1.25" fill="#dadada" fill-opacity="0.85"/>
<circle cx="273.7" cy="304.4" r="1.25" fill="#dadada" fill-opacity="0.85"/>
<circle cx="266.7" cy="306.1" r="1.25" fill="#dadada" fill-opacity="0.85"/>
<circle cx="263.5" cy="306.1" r="1.25" fill="#dadada" fill-opacity="0.85"/>
<circle cx="280.0" cy="305.3" r="1.25" fill="#dadada" fill-opacity="0.85"/>
<circle cx="272.8" cy="306.0" r="1.25" fill="#dadada" fill-opacity="0.85"/>
<circle cx="279.8" cy="300.0" r="1.25" fill="#dadada" fill-opacity="0.85"/>
<circle cx="264.6" cy="294.7" r="1.25" fill="#dadada" fill-opacity="0.85"/>
<circle cx="277.8" cy="293.3" r="1.25" fill="#dadada" fill-opacity="0.85"/>
<circle cx="265.5" cy="302.6" r="1.25" fill="#dadada" fill-opacity="0.85"/>
<circle cx="273.9" cy="304.9" r="1.25" fill="#dadada" fill-opacity="0.85"/>
<circle cx="272.1" cy="303.0" r="1.25" fill="#dadada" fill-opacity="0.85"/>
<circle cx="275.7" cy="298.3" r="1.25" fill="#dadada" fill-opacity="0.85"/>
<circle cx="275.6" cy="304.4" r="1.25" fill="#dadada" fill-opacity="0.85"/>
<circle cx="275.7" cy="302.9" r="1.25" fill="#dadada" fill-opacity="0.85"/>
<circle cx="264.4" cy="306.3" r="1.25" fill="#dadada" fill-opacity="0.85"/>
<circle cx="273.2" cy="304.6" r="1.25" fill="#dadada" fill-opacity="0.85"/>
<circle cx="263.0" cy="299.5" r="1.25" fill="#dadada" fill-opacity="0.85"/>
<circle cx="269.2" cy="305.3" r="1.25" fill="#dadada" fill-opacity="0.85"/>
<circle cx="272.1" cy="304.0" r="1.25" fill="#dadada" fill-opacity="0.85"/>
<circle cx="271.4" cy="302.0" r="1.25" fill="#dadada" fill-opacity="0.85"/>
<circle cx="278.6" cy="303.5" r="1.25" fill="#dadada" fill-opacity="0.85"/>
<circle cx="278.0" cy="303.4" r="1.25" fill="#dadada" fill-opacity="0.85"/>
<circle cx="279.2" cy="306.1" r="1.25" fill="#dadada" fill-opacity="0.85"/>
<circle cx="267.3" cy="299.5" r="1.25" fill="#dadada" fill-opacity="0.85"/>
<circle cx="273.9" cy="301.5" r="1.25" fill="#dadada" fill-opacity="0.85"/>
<circle cx="265.1" cy="305.6" r="1.25" fill="#dadada" fill-opacity="0.85"/>
<circle cx="279.7" cy="306.0" r="1.25" fill="#dadada" fill-opacity="0.85"/>
<circle cx="264.5" cy="301.4" r="1.25" fill="#dadada" fill-opacity="0.85"/>
<circle cx="277.0" cy="298.9" r="1.25" fill="#dadada" fill-opacity="0.85"/>
<circle cx="280.4" cy="295.7" r="1.25" fill="#dadada" fill-opacity="0.85"/>
<circle cx="269.6" cy="302.3" r="1.25" fill="#dadada" fill-opacity="0.85"/>
<circle cx="267.3" cy="306.3" r="1.25" fill="#dadada" fill-opacity="0.85"/>
<circle cx="279.7" cy="294.1" r="1.25" fill="#dadada" fill-opacity="0.85"/>
<circle cx="273.9" cy="303.4" r="1.25" fill="#dadada" fill-opacity="0.85"/>
<circle cx="265.1" cy="304.5" r="1.25" fill="#dadada" fill-opacity="0.85"/>
<circle cx="262.5" cy="305.6" r="1.25" fill="#dadada" fill-opacity="0.85"/>
<circle cx="270.4" cy="302.9" r="1.25" fill="#dadada" fill-opacity="0.85"/>
<circle cx="279.1" cy="300.4" r="1.25" fill="#dadada" fill-opacity="0.85"/>
<circle cx="274.1" cy="303.4" r="1.25" fill="#dadada" fill-opacity="0.85"/>
<circle cx="276.1" cy="299.3" r="1.25" fill="#dadada" fill-opacity="0.85"/>
<circle cx="280.2" cy="294.6" r="1.25" fill="#dadada" fill-opacity="0.85"/>
<circle cx="274.2" cy="302.3" r="1.25" fill="#dadada" fill-opacity="0.85"/>
<circle cx="264.4" cy="300.6" r="1.25" fill="#dadada" fill-opacity="0.85"/>
<circle cx="269.8" cy="306.0" r="1.25" fill="#dadada" fill-opacity="0.85"/>
<circle cx="265.0" cy="302.1" r="1.25" fill="#dadada" fill-opacity="0.85"/>
<circle cx="264.5" cy="298.3" r="1.25" fill="#dadada" fill-opacity="0.85"/>
<circle cx="267.5" cy="299.4" r="1.25" fill="#dadada" fill-opacity="0.85"/>
<circle cx="274.4" cy="302.8" r="1.25" fill="#dadada" fill-opacity="0.85"/>
<circle cx="269.5" cy="305.0" r="1.25" fill="#dadada" fill-opacity="0.85"/>
<circle cx="265.0" cy="293.3" r="1.25" fill="#dadada" fill-opacity="0.85"/>
<circle cx="278.8" cy="298.4" r="1.25" fill="#dadada" fill-opacity="0.85"/>
<circle cx="273.7" cy="305.8" r="1.25" fill="#dadada" fill-opacity="0.85"/>
<circle cx="271.6" cy="306.0" r="1.25" fill="#dadada" fill-opacity="0.85"/>
<circle cx="267.4" cy="302.8" r="1.25" fill="#dadada" fill-opacity="0.85"/>
<circle cx="264.4" cy="304.1" r="1.25" fill="#dadada" fill-opacity="0.85"/>
<circle cx="275.2" cy="302.6" r="1.25" fill="#dadada" fill-opacity="0.85"/>
<circle cx="278.3" cy="305.2" r="1.25" fill="#dadada" fill-opacity="0.85"/>
<circle cx="262.9" cy="290.2" r="1.25" fill="#dadada" fill-opacity="0.85"/>
<circle cx="272.9" cy="302.4" r="1.25" fill="#dadada" fill-opacity="0.85"/>
<circle cx="271.9" cy="306.0" r="1.25" fill="#dadada" fill-opacity="0.85"/>
<circle cx="280.0" cy="300.5" r="1.25" fill="#dadada" fill-opacity="0.85"/>
<circle cx="278.7" cy="305.3" r="1.25" fill="#dadada" fill-opacity="0.85"/>
<circle cx="266.5" cy="301.9" r="1.25" fill="#dadada" fill-opacity="0.85"/>
<circle cx="265.9" cy="297.1" r="1.25" fill="#dadada" fill-opacity="0.85"/>
<circle cx="266.2" cy="306.0" r="1.25" fill="#dadada" fill-opacity="0.85"/>
<circle cx="264.3" cy="303.5" r="1.25" fill="#dadada" fill-opacity="0.85"/>
<circle cx="279.4" cy="294.3" r="1.25" fill="#dadada" fill-opacity="0.85"/>
<circle cx="274.1" cy="303.8" r="1.25" fill="#dadada" fill-opacity="0.85"/>
<circle cx="261.9" cy="291.8" r="1.25" fill="#dadada" fill-opacity="0.85"/>
<circle cx="263.6" cy="304.3" r="1.25" fill="#dadada" fill-opacity="0.85"/>
<circle cx="269.5" cy="302.6" r="1.25" fill="#dadada" fill-opacity="0.85"/>
<circle cx="264.7" cy="306.0" r="1.25" fill="#dadada" fill-opacity="0.85"/>
<circle cx="278.7" cy="306.4" r="1.25" fill="#dadada" fill-opacity="0.85"/>
<circle cx="275.3" cy="305.6" r="1.25" fill="#dadada" fill-opacity="0.85"/>
<circle cx="266.9" cy="305.3" r="1.25" fill="#dadada" fill-opacity="0.85"/>
<circle cx="269.6" cy="302.3" r="1.25" fill="#dadada" fill-opacity="0.85"/>
<circle cx="277.4" cy="300.6" r="1.25" fill="#dadada" fill-opacity="0.85"/>
<circle cx="262.8" cy="304.6" r="1.25" fill="#dadada" fill-opacity="0.85"/>
<circle cx="266.9" cy="299.9" r="1.25" fill="#dadada" fill-opacity="0.85"/>
<circle cx="278.8" cy="306.3" r="1.25" fill="#dadada" fill-opacity="0.85"/>
<circle cx="267.6" cy="300.0" r="1.25" fill="#dadada" fill-opacity="0.85"/>
<circle cx="264.1" cy="305.8" r="1.25" fill="#dadada" fill-opacity="0.85"/>
<circle cx="266.3" cy="297.5" r="1.25" fill="#dadada" fill-opacity="0.85"/>
<circle cx="266.2" cy="299.6" r="1.25" fill="#dadada" fill-opacity="0.85"/>
<circle cx="263.4" cy="296.6" r="1.25" fill="#dadada" fill-opacity="0.85"/>
<circle cx="264.4" cy="298.6" r="1.25" fill="#dadada" fill-opacity="0.85"/>
<circle cx="275.5" cy="297.8" r="1.25" fill="#dadada" fill-opacity="0.85"/>
<circle cx="269.6" cy="301.8" r="1.25" fill="#dadada" fill-opacity="0.85"/>
<circle cx="269.0" cy="301.6" r="1.25" fill="#dadada" fill-opacity="0.85"/>
<circle cx="278.8" cy="292.4" r="1.25" fill="#dadada" fill-opacity="0.85"/>
<circle cx="263.2" cy="303.2" r="1.25" fill="#dadada" fill-opacity="0.85"/>
<circle cx="274.6" cy="298.9" r="1.25" fill="#dadada" fill-opacity="0.85"/>
<circle cx="266.1" cy="298.7" r="1.25" fill="#dadada" fill-opacity="0.85"/>
<circle cx="251.1" cy="305.8" r="1.25" fill="#3575c0" fill-opacity="0.85"/>
<circle cx="243.5" cy="305.8" r="1.25" fill="#3575c0" fill-opacity="0.85"/>
<circle cx="246.3" cy="301.5" r="1.25" fill="#3575c0" fill-opacity="0.85"/>
<circle cx="255.0" cy="297.0" r="1.25" fill="#3575c0" fill-opacity="0.85"/>
<circle cx="259.5" cy="303.9" r="1.25" fill="#3575c0" fill-opacity="0.85"/>
<circle cx="255.3" cy="300.7" r="1.25" fill="#3575c0" fill-opacity="0.85"/>
<circle cx="255.2" cy="305.7" r="1.25" fill="#3575c0" fill-opacity="0.85"/>
<circle cx="259.0" cy="305.5" r="1.25" fill="#3575c0" fill-opacity="0.85"/>
<circle cx="250.4" cy="301.7" r="1.25" fill="#3575c0" fill-opacity="0.85"/>
<circle cx="256.2" cy="297.2" r="1.25" fill="#3575c0" fill-opacity="0.85"/>
<circle cx="247.9" cy="305.3" r="1.25" fill="#3575c0" fill-opacity="0.85"/>
<circle cx="255.9" cy="305.8" r="1.25" fill="#3575c0" fill-opacity="0.85"/>
<circle cx="258.7" cy="304.6" r="1.25" fill="#3575c0" fill-opacity="0.85"/>
<circle cx="249.4" cy="305.1" r="1.25" fill="#3575c0" fill-opacity="0.85"/>
<circle cx="255.6" cy="305.5" r="1.25" fill="#3575c0" fill-opacity="0.85"/>
<circle cx="244.5" cy="305.8" r="1.25" fill="#3575c0" fill-opacity="0.85"/>
<circle cx="244.4" cy="304.4" r="1.25" fill="#3575c0" fill-opacity="0.85"/>
<circle cx="260.9" cy="305.8" r="1.25" fill="#3575c0" fill-opacity="0.85"/>
<circle cx="250.8" cy="304.7" r="1.25" fill="#3575c0" fill-opacity="0.85"/>
<circle cx="247.8" cy="305.1" r="1.25" fill="#3575c0" fill-opacity="0.85"/>
<circle cx="243.9" cy="305.2" r="1.25" fill="#3575c0" fill-opacity="0.85"/>
<circle cx="247.0" cy="305.8" r="1.25" fill="#3575c0" fill-opacity="0.85"/>
<circle cx="244.5" cy="302.5" r="1.25" fill="#3575c0" fill-opacity="0.85"/>
<circle cx="255.7" cy="294.0" r="1.25" fill="#3575c0" fill-opacity="0.85"/>
<circle cx="257.6" cy="298.9" r="1.25" fill="#3575c0" fill-opacity="0.85"/>
<circle cx="246.2" cy="305.8" r="1.25" fill="#3575c0" fill-opacity="0.85"/>
<circle cx="260.8" cy="299.9" r="1.25" fill="#3575c0" fill-opacity="0.85"/>
<circle cx="255.8" cy="305.6" r="1.25" fill="#3575c0" fill-opacity="0.85"/>
<circle cx="257.1" cy="302.2" r="1.25" fill="#3575c0" fill-opacity="0.85"/>
<circle cx="243.5" cy="305.7" r="1.25" fill="#3575c0" fill-opacity="0.85"/>
<circle cx="260.5" cy="300.9" r="1.25" fill="#3575c0" fill-opacity="0.85"/>
<circle cx="243.6" cy="305.8" r="1.25" fill="#3575c0" fill-opacity="0.85"/>
<circle cx="256.3" cy="304.3" r="1.25" fill="#3575c0" fill-opacity="0.85"/>
<circle cx="251.1" cy="305.7" r="1.25" fill="#3575c0" fill-opacity="0.85"/>
<circle cx="245.3" cy="304.8" r="1.25" fill="#3575c0" fill-opacity="0.85"/>
<circle cx="250.1" cy="305.5" r="1.25" fill="#3575c0" fill-opacity="0.85"/>
<circle cx="244.8" cy="305.0" r="1.25" fill="#3575c0" fill-opacity="0.85"/>
<circle cx="244.0" cy="305.8" r="1.25" fill="#3575c0" fill-opacity="0.85"/>
<circle cx="251.0" cy="305.8" r="1.25" fill="#3575c0" fill-opacity="0.85"/>
<circle cx="256.0" cy="298.5" r="1.25" fill="#3575c0" fill-opacity="0.85"/>
<circle cx="255.5" cy="294.8" r="1.25" fill="#3575c0" fill-opacity="0.85"/>
<circle cx="245.0" cy="305.1" r="1.25" fill="#3575c0" fill-opacity="0.85"/>
<circle cx="249.9" cy="305.8" r="1.25" fill="#3575c0" fill-opacity="0.85"/>
<circle cx="258.4" cy="305.8" r="1.25" fill="#3575c0" fill-opacity="0.85"/>
<circle cx="260.8" cy="300.0" r="1.25" fill="#3575c0" fill-opacity="0.85"/>
<circle cx="260.9" cy="305.8" r="1.25" fill="#3575c0" fill-opacity="0.85"/>
<circle cx="259.1" cy="294.1" r="1.25" fill="#3575c0" fill-opacity="0.85"/>
<circle cx="256.9" cy="301.6" r="1.25" fill="#3575c0" fill-opacity="0.85"/>
<circle cx="254.4" cy="303.2" r="1.25" fill="#3575c0" fill-opacity="0.85"/>
<circle cx="258.3" cy="301.6" r="1.25" fill="#3575c0" fill-opacity="0.85"/>
<circle cx="252.4" cy="304.1" r="1.25" fill="#3575c0" fill-opacity="0.85"/>
<circle cx="254.0" cy="302.0" r="1.25" fill="#3575c0" fill-opacity="0.85"/>
<circle cx="260.0" cy="298.3" r="1.25" fill="#3575c0" fill-opacity="0.85"/>
<circle cx="248.2" cy="302.4" r="1.25" fill="#3575c0" fill-opacity="0.85"/>
<circle cx="246.4" cy="304.7" r="1.25" fill="#3575c0" fill-opacity="0.85"/>
<circle cx="252.0" cy="300.5" r="1.25" fill="#3575c0" fill-opacity="0.85"/>
<circle cx="243.2" cy="305.8" r="1.25" fill="#3575c0" fill-opacity="0.85"/>
<circle cx="245.4" cy="304.1" r="1.25" fill="#3575c0" fill-opacity="0.85"/>
<circle cx="245.1" cy="304.5" r="1.25" fill="#3575c0" fill-opacity="0.85"/>
<circle cx="258.9" cy="303.5" r="1.25" fill="#3575c0" fill-opacity="0.85"/>
<circle cx="246.2" cy="304.1" r="1.25" fill="#3575c0" fill-opacity="0.85"/>
<circle cx="249.8" cy="304.3" r="1.25" fill="#3575c0" fill-opacity="0.85"/>
<circle cx="245.3" cy="303.8" r="1.25" fill="#3575c0" fill-opacity="0.85"/>
<circle cx="248.5" cy="299.1" r="1.25" fill="#3575c0" fill-opacity="0.85"/>
<circle cx="251.4" cy="301.4" r="1.25" fill="#3575c0" fill-opacity="0.85"/>
<circle cx="259.7" cy="293.6" r="1.25" fill="#3575c0" fill-opacity="0.85"/>
<circle cx="242.3" cy="303.7" r="1.25" fill="#3575c0" fill-opacity="0.85"/>
<circle cx="243.8" cy="302.7" r="1.25" fill="#3575c0" fill-opacity="0.85"/>
<circle cx="257.1" cy="305.0" r="1.25" fill="#3575c0" fill-opacity="0.85"/>
<circle cx="255.7" cy="301.9" r="1.25" fill="#3575c0" fill-opacity="0.85"/>
<circle cx="250.6" cy="302.4" r="1.25" fill="#3575c0" fill-opacity="0.85"/>
<circle cx="250.7" cy="302.0" r="1.25" fill="#3575c0" fill-opacity="0.85"/>
<circle cx="255.3" cy="305.8" r="1.25" fill="#3575c0" fill-opacity="0.85"/>
<circle cx="254.2" cy="300.2" r="1.25" fill="#3575c0" fill-opacity="0.85"/>
<circle cx="258.6" cy="302.2" r="1.25" fill="#3575c0" fill-opacity="0.85"/>
<circle cx="252.3" cy="305.6" r="1.25" fill="#3575c0" fill-opacity="0.85"/>
<circle cx="245.6" cy="302.2" r="1.25" fill="#3575c0" fill-opacity="0.85"/>
<circle cx="243.1" cy="303.4" r="1.25" fill="#3575c0" fill-opacity="0.85"/>
<circle cx="244.2" cy="305.3" r="1.25" fill="#3575c0" fill-opacity="0.85"/>
<circle cx="253.9" cy="305.8" r="1.25" fill="#3575c0" fill-opacity="0.85"/>
<circle cx="250.5" cy="300.3" r="1.25" fill="#3575c0" fill-opacity="0.85"/>
<circle cx="249.3" cy="305.6" r="1.25" fill="#3575c0" fill-opacity="0.85"/>
<circle cx="243.0" cy="303.2" r="1.25" fill="#3575c0" fill-opacity="0.85"/>
<circle cx="243.9" cy="304.3" r="1.25" fill="#3575c0" fill-opacity="0.85"/>
<circle cx="254.2" cy="304.9" r="1.25" fill="#3575c0" fill-opacity="0.85"/>
<circle cx="252.6" cy="300.9" r="1.25" fill="#3575c0" fill-opacity="0.85"/>
<circle cx="245.9" cy="305.5" r="1.25" fill="#3575c0" fill-opacity="0.85"/>
<circle cx="259.7" cy="305.3" r="1.25" fill="#3575c0" fill-opacity="0.85"/>
<circle cx="251.3" cy="303.9" r="1.25" fill="#3575c0" fill-opacity="0.85"/>
<circle cx="256.9" cy="296.5" r="1.25" fill="#3575c0" fill-opacity="0.85"/>
<circle cx="256.6" cy="300.9" r="1.25" fill="#3575c0" fill-opacity="0.85"/>
<circle cx="252.3" cy="305.7" r="1.25" fill="#3575c0" fill-opacity="0.85"/>
<circle cx="252.9" cy="303.8" r="1.25" fill="#3575c0" fill-opacity="0.85"/>
<circle cx="256.4" cy="304.0" r="1.25" fill="#3575c0" fill-opacity="0.85"/>
<circle cx="244.2" cy="305.3" r="1.25" fill="#3575c0" fill-opacity="0.85"/>
<circle cx="257.9" cy="302.7" r="1.25" fill="#3575c0" fill-opacity="0.85"/>
<circle cx="254.8" cy="305.8" r="1.25" fill="#3575c0" fill-opacity="0.85"/>
<circle cx="246.1" cy="305.5" r="1.25" fill="#3575c0" fill-opacity="0.85"/>
<circle cx="251.2" cy="305.7" r="1.25" fill="#3575c0" fill-opacity="0.85"/>
<circle cx="260.1" cy="304.4" r="1.25" fill="#3575c0" fill-opacity="0.85"/>
<circle cx="241.9" cy="305.7" r="1.25" fill="#3575c0" fill-opacity="0.85"/>
<circle cx="251.5" cy="302.2" r="1.25" fill="#3575c0" fill-opacity="0.85"/>
<circle cx="257.6" cy="305.7" r="1.25" fill="#3575c0" fill-opacity="0.85"/>
<circle cx="260.6" cy="296.6" r="1.25" fill="#3575c0" fill-opacity="0.85"/>
<circle cx="251.8" cy="301.7" r="1.25" fill="#3575c0" fill-opacity="0.85"/>
<circle cx="247.8" cy="305.7" r="1.25" fill="#3575c0" fill-opacity="0.85"/>
<circle cx="242.0" cy="303.7" r="1.25" fill="#3575c0" fill-opacity="0.85"/>
<circle cx="259.0" cy="303.3" r="1.25" fill="#3575c0" fill-opacity="0.85"/>
<circle cx="253.5" cy="303.4" r="1.25" fill="#3575c0" fill-opacity="0.85"/>
<circle cx="255.1" cy="305.7" r="1.25" fill="#3575c0" fill-opacity="0.85"/>
<circle cx="289.2" cy="305.7" r="1.25" fill="#a31a1e" fill-opacity="0.85"/>
<circle cx="287.3" cy="303.7" r="1.25" fill="#a31a1e" fill-opacity="0.85"/>
<circle cx="290.3" cy="304.8" r="1.25" fill="#a31a1e" fill-opacity="0.85"/>
<circle cx="282.5" cy="300.3" r="1.25" fill="#a31a1e" fill-opacity="0.85"/>
<circle cx="284.8" cy="303.4" r="1.25" fill="#a31a1e" fill-opacity="0.85"/>
<circle cx="289.7" cy="302.6" r="1.25" fill="#a31a1e" fill-opacity="0.85"/>
<circle cx="281.7" cy="304.1" r="1.25" fill="#a31a1e" fill-opacity="0.85"/>
<circle cx="284.1" cy="300.2" r="1.25" fill="#a31a1e" fill-opacity="0.85"/>
<circle cx="285.1" cy="299.6" r="1.25" fill="#a31a1e" fill-opacity="0.85"/>
<circle cx="289.6" cy="305.2" r="1.25" fill="#a31a1e" fill-opacity="0.85"/>
<circle cx="289.3" cy="304.1" r="1.25" fill="#a31a1e" fill-opacity="0.85"/>
<circle cx="281.8" cy="305.1" r="1.25" fill="#a31a1e" fill-opacity="0.85"/>
<circle cx="282.0" cy="300.0" r="1.25" fill="#a31a1e" fill-opacity="0.85"/>
<circle cx="285.0" cy="305.2" r="1.25" fill="#a31a1e" fill-opacity="0.85"/>
<circle cx="288.8" cy="301.7" r="1.25" fill="#a31a1e" fill-opacity="0.85"/>
<circle cx="282.1" cy="301.8" r="1.25" fill="#a31a1e" fill-opacity="0.85"/>
<circle cx="283.1" cy="300.7" r="1.25" fill="#a31a1e" fill-opacity="0.85"/>
<circle cx="289.1" cy="303.5" r="1.25" fill="#a31a1e" fill-opacity="0.85"/>
<circle cx="287.2" cy="305.7" r="1.25" fill="#a31a1e" fill-opacity="0.85"/>
<circle cx="290.3" cy="305.8" r="1.25" fill="#a31a1e" fill-opacity="0.85"/>
<circle cx="287.2" cy="300.6" r="1.25" fill="#a31a1e" fill-opacity="0.85"/>
<circle cx="283.6" cy="304.0" r="1.25" fill="#a31a1e" fill-opacity="0.85"/>
<circle cx="288.3" cy="303.9" r="1.25" fill="#a31a1e" fill-opacity="0.85"/>
<circle cx="284.2" cy="304.5" r="1.25" fill="#a31a1e" fill-opacity="0.85"/>
<circle cx="290.8" cy="304.7" r="1.25" fill="#a31a1e" fill-opacity="0.85"/>
<circle cx="282.5" cy="302.0" r="1.25" fill="#a31a1e" fill-opacity="0.85"/>
<circle cx="290.3" cy="304.8" r="1.25" fill="#a31a1e" fill-opacity="0.85"/>
<circle cx="290.8" cy="305.7" r="1.25" fill="#a31a1e" fill-opacity="0.85"/>
<circle cx="283.8" cy="299.9" r="1.25" fill="#a31a1e" fill-opacity="0.85"/>
<circle cx="283.4" cy="305.7" r="1.25" fill="#a31a1e" fill-opacity="0.85"/>
<circle cx="282.2" cy="299.3" r="1.25" fill="#a31a1e" fill-opacity="0.85"/>
<circle cx="290.0" cy="305.7" r="1.25" fill="#a31a1e" fill-opacity="0.85"/>
<circle cx="289.0" cy="305.7" r="1.25" fill="#a31a1e" fill-opacity="0.85"/>
<circle cx="287.6" cy="305.8" r="1.25" fill="#a31a1e" fill-opacity="0.85"/>
<circle cx="287.1" cy="302.6" r="1.25" fill="#a31a1e" fill-opacity="0.85"/>
<circle cx="286.3" cy="303.3" r="1.25" fill="#a31a1e" fill-opacity="0.85"/>
<circle cx="281.8" cy="304.0" r="1.25" fill="#a31a1e" fill-opacity="0.85"/>
<circle cx="289.5" cy="305.3" r="1.25" fill="#a31a1e" fill-opacity="0.85"/>
<circle cx="289.1" cy="304.4" r="1.25" fill="#a31a1e" fill-opacity="0.85"/>
<circle cx="289.8" cy="304.1" r="1.25" fill="#a31a1e" fill-opacity="0.85"/>
<circle cx="284.0" cy="300.6" r="1.25" fill="#a31a1e" fill-opacity="0.85"/>
<circle cx="289.9" cy="305.3" r="1.25" fill="#a31a1e" fill-opacity="0.85"/>
<circle cx="288.8" cy="305.1" r="1.25" fill="#a31a1e" fill-opacity="0.85"/>
<circle cx="287.1" cy="305.2" r="1.25" fill="#a31a1e" fill-opacity="0.85"/>
<circle cx="285.8" cy="305.2" r="1.25" fill="#a31a1e" fill-opacity="0.85"/>
<circle cx="290.8" cy="305.0" r="1.25" fill="#a31a1e" fill-opacity="0.85"/>
<circle cx="287.6" cy="304.4" r="1.25" fill="#a31a1e" fill-opacity="0.85"/>
<circle cx="285.8" cy="305.6" r="1.25" fill="#a31a1e" fill-opacity="0.85"/>
<circle cx="287.9" cy="304.8" r="1.25" fill="#a31a1e" fill-opacity="0.85"/>
<circle cx="284.4" cy="303.8" r="1.25" fill="#a31a1e" fill-opacity="0.85"/>
<circle cx="242.8" cy="291.9" r="1.25" fill="#3575c0" fill-opacity="0.85"/>
<circle cx="248.6" cy="292.6" r="1.25" fill="#3575c0" fill-opacity="0.85"/>
<circle cx="253.4" cy="289.7" r="1.25" fill="#3575c0" fill-opacity="0.85"/>
<circle cx="251.5" cy="294.1" r="1.25" fill="#3575c0" fill-opacity="0.85"/>
<circle cx="245.7" cy="297.9" r="1.25" fill="#3575c0" fill-opacity="0.85"/>
<circle cx="240.9" cy="300.8" r="1.25" fill="#3575c0" fill-opacity="0.85"/>
<circle cx="283.3" cy="294.1" r="1.25" fill="#a31a1e" fill-opacity="0.85"/>
<circle cx="285.3" cy="297.1" r="1.25" fill="#a31a1e" fill-opacity="0.85"/>
<circle cx="289.1" cy="300.8" r="1.25" fill="#a31a1e" fill-opacity="0.85"/>
<circle cx="224.5" cy="303.8" r="1.25" fill="#9a9a9a" fill-opacity="0.85"/>
<line x1="261.15" y1="244.00" x2="261.15" y2="307.50" stroke="#acacac" stroke-width="1.1" stroke-dasharray="5,2.8"/>
<line x1="280.45" y1="244.00" x2="280.45" y2="307.50" stroke="#acacac" stroke-width="1.1" stroke-dasharray="5,2.8"/>
<line x1="213.90" y1="305.83" x2="331.60" y2="305.83" stroke="#acacac" stroke-width="1.1" stroke-dasharray="5,2.8"/>
<line x1="212.90" y1="244.80" x2="212.90" y2="310.50" stroke="#333333" stroke-width="1.1"/>
<line x1="212.40" y1="310.00" x2="330.63" y2="310.00" stroke="#333333" stroke-width="1.1"/>
<line x1="210.30" y1="306.80" x2="212.90" y2="306.80" stroke="#333333" stroke-width="1.0"/>
<text x="206.30" y="309.72" font-size="8.5" text-anchor="end" fill="#2b2b2b">0</text>
<line x1="210.30" y1="291.90" x2="212.90" y2="291.90" stroke="#333333" stroke-width="1.0"/>
<text x="206.30" y="294.82" font-size="8.5" text-anchor="end" fill="#2b2b2b">20</text>
<line x1="210.30" y1="277.00" x2="212.90" y2="277.00" stroke="#333333" stroke-width="1.0"/>
<text x="206.30" y="279.92" font-size="8.5" text-anchor="end" fill="#2b2b2b">40</text>
<line x1="210.30" y1="262.10" x2="212.90" y2="262.10" stroke="#333333" stroke-width="1.0"/>
<text x="206.30" y="265.02" font-size="8.5" text-anchor="end" fill="#2b2b2b">60</text>
<line x1="210.30" y1="247.20" x2="212.90" y2="247.20" stroke="#333333" stroke-width="1.0"/>
<text x="206.30" y="250.12" font-size="8.5" text-anchor="end" fill="#2b2b2b">80</text>
<line x1="212.90" y1="310.00" x2="212.90" y2="312.70" stroke="#333333" stroke-width="1.0"/>
<text x="212.90" y="322.92" font-size="8.5" text-anchor="middle" fill="#2b2b2b">&#8211;6</text>
<line x1="241.85" y1="310.00" x2="241.85" y2="312.70" stroke="#333333" stroke-width="1.0"/>
<text x="241.85" y="322.92" font-size="8.5" text-anchor="middle" fill="#2b2b2b">&#8211;3</text>
<line x1="270.80" y1="310.00" x2="270.80" y2="312.70" stroke="#333333" stroke-width="1.0"/>
<text x="270.80" y="322.92" font-size="8.5" text-anchor="middle" fill="#2b2b2b">0</text>
<line x1="299.75" y1="310.00" x2="299.75" y2="312.70" stroke="#333333" stroke-width="1.0"/>
<text x="299.75" y="322.92" font-size="8.5" text-anchor="middle" fill="#2b2b2b">3</text>
<line x1="328.70" y1="310.00" x2="328.70" y2="312.70" stroke="#333333" stroke-width="1.0"/>
<text x="328.70" y="322.92" font-size="8.5" text-anchor="middle" fill="#2b2b2b">6</text>
<text x="272.10" y="336.7" font-size="9.8" text-anchor="middle" fill="#2b2b2b" style="stroke-width:0.22px" textLength="56.3" lengthAdjust="spacingAndGlyphs">log<tspan font-size="6.2" dy="2.2">2</tspan><tspan dy="-2.2">FoldChange</tspan></text>
<g transform="translate(188.60,277.0) rotate(-90)"><text x="0" y="3.3" font-size="9.6" text-anchor="middle" fill="#2b2b2b" style="stroke-width:0.22px" textLength="52" lengthAdjust="spacingAndGlyphs">-log<tspan font-size="6.2" dy="2.2">10</tspan><tspan dy="-2.2"> (</tspan><tspan font-style="italic">P</tspan>value)</text></g>
<text x="436.70" y="218.09" font-size="8.4" text-anchor="middle" fill="#2b2b2b" textLength="74.5" lengthAdjust="spacingAndGlyphs">NOTCH2 (Q2140*)</text>
<text x="437.00" y="227.89" font-size="8.4" text-anchor="middle" fill="#2b2b2b">vs.</text>
<text x="436.90" y="238.59" font-size="8.4" text-anchor="middle" fill="#2b2b2b" textLength="57" lengthAdjust="spacingAndGlyphs">NOTCH2 (WT)</text>
<circle cx="409.2" cy="306.1" r="1.25" fill="#dadada" fill-opacity="0.85"/>
<circle cx="455.1" cy="306.0" r="1.25" fill="#dadada" fill-opacity="0.85"/>
<circle cx="401.2" cy="306.6" r="1.25" fill="#dadada" fill-opacity="0.85"/>
<circle cx="397.1" cy="306.6" r="1.25" fill="#dadada" fill-opacity="0.85"/>
<circle cx="460.5" cy="306.7" r="1.25" fill="#dadada" fill-opacity="0.85"/>
<circle cx="413.0" cy="306.4" r="1.25" fill="#dadada" fill-opacity="0.85"/>
<circle cx="471.7" cy="306.2" r="1.25" fill="#dadada" fill-opacity="0.85"/>
<circle cx="382.7" cy="306.5" r="1.25" fill="#dadada" fill-opacity="0.85"/>
<circle cx="397.0" cy="306.0" r="1.25" fill="#dadada" fill-opacity="0.85"/>
<circle cx="468.7" cy="306.0" r="1.25" fill="#dadada" fill-opacity="0.85"/>
<circle cx="470.5" cy="306.1" r="1.25" fill="#dadada" fill-opacity="0.85"/>
<circle cx="483.8" cy="306.0" r="1.25" fill="#dadada" fill-opacity="0.85"/>
<circle cx="408.9" cy="306.0" r="1.25" fill="#dadada" fill-opacity="0.85"/>
<circle cx="420.5" cy="306.4" r="1.25" fill="#dadada" fill-opacity="0.85"/>
<circle cx="415.1" cy="306.7" r="1.25" fill="#dadada" fill-opacity="0.85"/>
<circle cx="469.7" cy="306.0" r="1.25" fill="#dadada" fill-opacity="0.85"/>
<circle cx="487.7" cy="306.1" r="1.25" fill="#dadada" fill-opacity="0.85"/>
<circle cx="395.7" cy="306.1" r="1.25" fill="#dadada" fill-opacity="0.85"/>
<circle cx="403.1" cy="306.3" r="1.25" fill="#dadada" fill-opacity="0.85"/>
<circle cx="408.5" cy="306.4" r="1.25" fill="#dadada" fill-opacity="0.85"/>
<circle cx="446.6" cy="306.4" r="1.25" fill="#dadada" fill-opacity="0.85"/>
<circle cx="395.3" cy="306.3" r="1.25" fill="#dadada" fill-opacity="0.85"/>
<circle cx="406.6" cy="306.6" r="1.25" fill="#dadada" fill-opacity="0.85"/>
<circle cx="402.2" cy="306.4" r="1.25" fill="#dadada" fill-opacity="0.85"/>
<circle cx="389.1" cy="306.2" r="1.25" fill="#dadada" fill-opacity="0.85"/>
<circle cx="484.2" cy="306.4" r="1.25" fill="#dadada" fill-opacity="0.85"/>
<circle cx="458.9" cy="305.9" r="1.25" fill="#dadada" fill-opacity="0.85"/>
<circle cx="385.8" cy="306.7" r="1.25" fill="#dadada" fill-opacity="0.85"/>
<circle cx="468.3" cy="306.0" r="1.25" fill="#dadada" fill-opacity="0.85"/>
<circle cx="450.2" cy="306.6" r="1.25" fill="#dadada" fill-opacity="0.85"/>
<circle cx="476.9" cy="306.0" r="1.25" fill="#dadada" fill-opacity="0.85"/>
<circle cx="403.1" cy="306.0" r="1.25" fill="#dadada" fill-opacity="0.85"/>
<circle cx="421.7" cy="306.1" r="1.25" fill="#dadada" fill-opacity="0.85"/>
<circle cx="396.0" cy="305.9" r="1.25" fill="#dadada" fill-opacity="0.85"/>
<circle cx="446.4" cy="306.1" r="1.25" fill="#dadada" fill-opacity="0.85"/>
<circle cx="404.0" cy="306.2" r="1.25" fill="#dadada" fill-opacity="0.85"/>
<circle cx="420.0" cy="306.1" r="1.25" fill="#dadada" fill-opacity="0.85"/>
<circle cx="418.1" cy="306.5" r="1.25" fill="#dadada" fill-opacity="0.85"/>
<circle cx="398.9" cy="306.1" r="1.25" fill="#dadada" fill-opacity="0.85"/>
<circle cx="393.3" cy="306.6" r="1.25" fill="#dadada" fill-opacity="0.85"/>
<circle cx="388.6" cy="306.2" r="1.25" fill="#dadada" fill-opacity="0.85"/>
<circle cx="385.4" cy="306.4" r="1.25" fill="#dadada" fill-opacity="0.85"/>
<circle cx="418.2" cy="306.7" r="1.25" fill="#dadada" fill-opacity="0.85"/>
<circle cx="381.5" cy="305.8" r="1.25" fill="#dadada" fill-opacity="0.85"/>
<circle cx="394.3" cy="306.5" r="1.25" fill="#dadada" fill-opacity="0.85"/>
<circle cx="410.2" cy="306.2" r="1.25" fill="#dadada" fill-opacity="0.85"/>
<circle cx="389.5" cy="306.3" r="1.25" fill="#dadada" fill-opacity="0.85"/>
<circle cx="420.8" cy="306.0" r="1.25" fill="#dadada" fill-opacity="0.85"/>
<circle cx="381.8" cy="306.5" r="1.25" fill="#dadada" fill-opacity="0.85"/>
<circle cx="453.5" cy="306.5" r="1.25" fill="#dadada" fill-opacity="0.85"/>
<circle cx="384.6" cy="306.3" r="1.25" fill="#dadada" fill-opacity="0.85"/>
<circle cx="479.6" cy="306.1" r="1.25" fill="#dadada" fill-opacity="0.85"/>
<circle cx="409.1" cy="306.1" r="1.25" fill="#dadada" fill-opacity="0.85"/>
<circle cx="472.9" cy="306.5" r="1.25" fill="#dadada" fill-opacity="0.85"/>
<circle cx="407.6" cy="306.5" r="1.25" fill="#dadada" fill-opacity="0.85"/>
<circle cx="403.2" cy="306.5" r="1.25" fill="#dadada" fill-opacity="0.85"/>
<circle cx="385.3" cy="306.4" r="1.25" fill="#dadada" fill-opacity="0.85"/>
<circle cx="390.5" cy="306.1" r="1.25" fill="#dadada" fill-opacity="0.85"/>
<circle cx="446.0" cy="306.8" r="1.25" fill="#dadada" fill-opacity="0.85"/>
<circle cx="464.8" cy="306.6" r="1.25" fill="#dadada" fill-opacity="0.85"/>
<circle cx="417.1" cy="306.5" r="1.25" fill="#dadada" fill-opacity="0.85"/>
<circle cx="474.5" cy="306.7" r="1.25" fill="#dadada" fill-opacity="0.85"/>
<circle cx="470.2" cy="306.6" r="1.25" fill="#dadada" fill-opacity="0.85"/>
<circle cx="413.9" cy="306.4" r="1.25" fill="#dadada" fill-opacity="0.85"/>
<circle cx="384.8" cy="306.7" r="1.25" fill="#dadada" fill-opacity="0.85"/>
<circle cx="420.2" cy="306.4" r="1.25" fill="#dadada" fill-opacity="0.85"/>
<circle cx="475.9" cy="305.8" r="1.25" fill="#dadada" fill-opacity="0.85"/>
<circle cx="385.9" cy="306.3" r="1.25" fill="#dadada" fill-opacity="0.85"/>
<circle cx="395.1" cy="306.0" r="1.25" fill="#dadada" fill-opacity="0.85"/>
<circle cx="416.0" cy="305.9" r="1.25" fill="#dadada" fill-opacity="0.85"/>
<circle cx="381.7" cy="306.6" r="1.25" fill="#dadada" fill-opacity="0.85"/>
<circle cx="475.0" cy="306.7" r="1.25" fill="#dadada" fill-opacity="0.85"/>
<circle cx="418.4" cy="306.0" r="1.25" fill="#dadada" fill-opacity="0.85"/>
<circle cx="404.3" cy="306.1" r="1.25" fill="#dadada" fill-opacity="0.85"/>
<circle cx="453.2" cy="305.9" r="1.25" fill="#dadada" fill-opacity="0.85"/>
<circle cx="448.2" cy="306.0" r="1.25" fill="#dadada" fill-opacity="0.85"/>
<circle cx="478.2" cy="306.7" r="1.25" fill="#dadada" fill-opacity="0.85"/>
<circle cx="396.0" cy="306.3" r="1.25" fill="#dadada" fill-opacity="0.85"/>
<circle cx="469.0" cy="306.3" r="1.25" fill="#dadada" fill-opacity="0.85"/>
<circle cx="413.5" cy="305.9" r="1.25" fill="#dadada" fill-opacity="0.85"/>
<circle cx="413.4" cy="306.7" r="1.25" fill="#dadada" fill-opacity="0.85"/>
<circle cx="386.8" cy="306.8" r="1.25" fill="#dadada" fill-opacity="0.85"/>
<circle cx="459.7" cy="306.7" r="1.25" fill="#dadada" fill-opacity="0.85"/>
<circle cx="458.6" cy="306.0" r="1.25" fill="#dadada" fill-opacity="0.85"/>
<circle cx="489.2" cy="306.0" r="1.25" fill="#dadada" fill-opacity="0.85"/>
<circle cx="471.2" cy="306.1" r="1.25" fill="#dadada" fill-opacity="0.85"/>
<circle cx="412.5" cy="306.1" r="1.25" fill="#dadada" fill-opacity="0.85"/>
<circle cx="393.0" cy="306.5" r="1.25" fill="#dadada" fill-opacity="0.85"/>
<circle cx="488.8" cy="306.3" r="1.25" fill="#dadada" fill-opacity="0.85"/>
<circle cx="410.1" cy="306.0" r="1.25" fill="#dadada" fill-opacity="0.85"/>
<circle cx="384.3" cy="306.5" r="1.25" fill="#dadada" fill-opacity="0.85"/>
<circle cx="417.0" cy="305.9" r="1.25" fill="#dadada" fill-opacity="0.85"/>
<circle cx="407.9" cy="306.0" r="1.25" fill="#dadada" fill-opacity="0.85"/>
<circle cx="473.4" cy="306.4" r="1.25" fill="#dadada" fill-opacity="0.85"/>
<circle cx="488.5" cy="306.1" r="1.25" fill="#dadada" fill-opacity="0.85"/>
<circle cx="421.8" cy="306.3" r="1.25" fill="#dadada" fill-opacity="0.85"/>
<circle cx="401.8" cy="306.2" r="1.25" fill="#dadada" fill-opacity="0.85"/>
<circle cx="384.9" cy="306.0" r="1.25" fill="#dadada" fill-opacity="0.85"/>
<circle cx="429.0" cy="305.6" r="1.25" fill="#dadada" fill-opacity="0.85"/>
<circle cx="436.9" cy="304.8" r="1.25" fill="#dadada" fill-opacity="0.85"/>
<circle cx="442.6" cy="295.6" r="1.25" fill="#dadada" fill-opacity="0.85"/>
<circle cx="435.6" cy="302.7" r="1.25" fill="#dadada" fill-opacity="0.85"/>
<circle cx="429.7" cy="296.8" r="1.25" fill="#dadada" fill-opacity="0.85"/>
<circle cx="438.1" cy="303.0" r="1.25" fill="#dadada" fill-opacity="0.85"/>
<circle cx="444.1" cy="306.2" r="1.25" fill="#dadada" fill-opacity="0.85"/>
<circle cx="442.2" cy="304.3" r="1.25" fill="#dadada" fill-opacity="0.85"/>
<circle cx="441.8" cy="304.2" r="1.25" fill="#dadada" fill-opacity="0.85"/>
<circle cx="426.6" cy="298.8" r="1.25" fill="#dadada" fill-opacity="0.85"/>
<circle cx="443.4" cy="301.6" r="1.25" fill="#dadada" fill-opacity="0.85"/>
<circle cx="434.9" cy="304.4" r="1.25" fill="#dadada" fill-opacity="0.85"/>
<circle cx="430.3" cy="300.9" r="1.25" fill="#dadada" fill-opacity="0.85"/>
<circle cx="425.7" cy="299.4" r="1.25" fill="#dadada" fill-opacity="0.85"/>
<circle cx="440.2" cy="301.8" r="1.25" fill="#dadada" fill-opacity="0.85"/>
<circle cx="429.8" cy="306.1" r="1.25" fill="#dadada" fill-opacity="0.85"/>
<circle cx="439.1" cy="301.7" r="1.25" fill="#dadada" fill-opacity="0.85"/>
<circle cx="443.2" cy="287.7" r="1.25" fill="#dadada" fill-opacity="0.85"/>
<circle cx="427.5" cy="290.9" r="1.25" fill="#dadada" fill-opacity="0.85"/>
<circle cx="443.5" cy="284.8" r="1.25" fill="#dadada" fill-opacity="0.85"/>
<circle cx="441.6" cy="291.5" r="1.25" fill="#dadada" fill-opacity="0.85"/>
<circle cx="439.5" cy="297.0" r="1.25" fill="#dadada" fill-opacity="0.85"/>
<circle cx="437.0" cy="305.1" r="1.25" fill="#dadada" fill-opacity="0.85"/>
<circle cx="428.1" cy="295.5" r="1.25" fill="#dadada" fill-opacity="0.85"/>
<circle cx="437.1" cy="306.2" r="1.25" fill="#dadada" fill-opacity="0.85"/>
<circle cx="437.9" cy="301.1" r="1.25" fill="#dadada" fill-opacity="0.85"/>
<circle cx="435.4" cy="303.4" r="1.25" fill="#dadada" fill-opacity="0.85"/>
<circle cx="442.5" cy="298.8" r="1.25" fill="#dadada" fill-opacity="0.85"/>
<circle cx="441.3" cy="297.0" r="1.25" fill="#dadada" fill-opacity="0.85"/>
<circle cx="436.6" cy="304.2" r="1.25" fill="#dadada" fill-opacity="0.85"/>
<circle cx="443.6" cy="296.6" r="1.25" fill="#dadada" fill-opacity="0.85"/>
<circle cx="443.9" cy="299.4" r="1.25" fill="#dadada" fill-opacity="0.85"/>
<circle cx="438.5" cy="295.6" r="1.25" fill="#dadada" fill-opacity="0.85"/>
<circle cx="438.7" cy="302.8" r="1.25" fill="#dadada" fill-opacity="0.85"/>
<circle cx="427.1" cy="299.5" r="1.25" fill="#dadada" fill-opacity="0.85"/>
<circle cx="433.5" cy="303.1" r="1.25" fill="#dadada" fill-opacity="0.85"/>
<circle cx="440.7" cy="285.9" r="1.25" fill="#dadada" fill-opacity="0.85"/>
<circle cx="434.2" cy="305.1" r="1.25" fill="#dadada" fill-opacity="0.85"/>
<circle cx="436.4" cy="301.9" r="1.25" fill="#dadada" fill-opacity="0.85"/>
<circle cx="427.1" cy="304.0" r="1.25" fill="#dadada" fill-opacity="0.85"/>
<circle cx="428.4" cy="302.6" r="1.25" fill="#dadada" fill-opacity="0.85"/>
<circle cx="431.3" cy="297.1" r="1.25" fill="#dadada" fill-opacity="0.85"/>
<circle cx="429.6" cy="293.2" r="1.25" fill="#dadada" fill-opacity="0.85"/>
<circle cx="431.2" cy="305.2" r="1.25" fill="#dadada" fill-opacity="0.85"/>
<circle cx="444.4" cy="305.2" r="1.25" fill="#dadada" fill-opacity="0.85"/>
<circle cx="427.7" cy="305.2" r="1.25" fill="#dadada" fill-opacity="0.85"/>
<circle cx="426.8" cy="301.1" r="1.25" fill="#dadada" fill-opacity="0.85"/>
<circle cx="429.6" cy="305.1" r="1.25" fill="#dadada" fill-opacity="0.85"/>
<circle cx="425.9" cy="294.1" r="1.25" fill="#dadada" fill-opacity="0.85"/>
<circle cx="426.5" cy="303.6" r="1.25" fill="#dadada" fill-opacity="0.85"/>
<circle cx="436.5" cy="300.8" r="1.25" fill="#dadada" fill-opacity="0.85"/>
<circle cx="438.3" cy="299.3" r="1.25" fill="#dadada" fill-opacity="0.85"/>
<circle cx="439.1" cy="295.7" r="1.25" fill="#dadada" fill-opacity="0.85"/>
<circle cx="442.0" cy="304.1" r="1.25" fill="#dadada" fill-opacity="0.85"/>
<circle cx="426.6" cy="296.4" r="1.25" fill="#dadada" fill-opacity="0.85"/>
<circle cx="435.6" cy="304.5" r="1.25" fill="#dadada" fill-opacity="0.85"/>
<circle cx="440.6" cy="304.3" r="1.25" fill="#dadada" fill-opacity="0.85"/>
<circle cx="439.2" cy="301.5" r="1.25" fill="#dadada" fill-opacity="0.85"/>
<circle cx="433.7" cy="305.7" r="1.25" fill="#dadada" fill-opacity="0.85"/>
<circle cx="431.0" cy="301.2" r="1.25" fill="#dadada" fill-opacity="0.85"/>
<circle cx="436.2" cy="301.0" r="1.25" fill="#dadada" fill-opacity="0.85"/>
<circle cx="431.0" cy="299.5" r="1.25" fill="#dadada" fill-opacity="0.85"/>
<circle cx="427.4" cy="296.3" r="1.25" fill="#dadada" fill-opacity="0.85"/>
<circle cx="428.7" cy="293.4" r="1.25" fill="#dadada" fill-opacity="0.85"/>
<circle cx="444.2" cy="301.5" r="1.25" fill="#dadada" fill-opacity="0.85"/>
<circle cx="441.1" cy="303.2" r="1.25" fill="#dadada" fill-opacity="0.85"/>
<circle cx="431.4" cy="305.9" r="1.25" fill="#dadada" fill-opacity="0.85"/>
<circle cx="434.1" cy="306.2" r="1.25" fill="#dadada" fill-opacity="0.85"/>
<circle cx="439.1" cy="299.3" r="1.25" fill="#dadada" fill-opacity="0.85"/>
<circle cx="433.7" cy="303.7" r="1.25" fill="#dadada" fill-opacity="0.85"/>
<circle cx="430.1" cy="303.3" r="1.25" fill="#dadada" fill-opacity="0.85"/>
<circle cx="432.6" cy="306.4" r="1.25" fill="#dadada" fill-opacity="0.85"/>
<circle cx="442.7" cy="305.3" r="1.25" fill="#dadada" fill-opacity="0.85"/>
<circle cx="427.5" cy="293.4" r="1.25" fill="#dadada" fill-opacity="0.85"/>
<circle cx="441.3" cy="298.1" r="1.25" fill="#dadada" fill-opacity="0.85"/>
<circle cx="433.7" cy="306.1" r="1.25" fill="#dadada" fill-opacity="0.85"/>
<circle cx="425.6" cy="297.8" r="1.25" fill="#dadada" fill-opacity="0.85"/>
<circle cx="430.3" cy="305.3" r="1.25" fill="#dadada" fill-opacity="0.85"/>
<circle cx="443.0" cy="306.3" r="1.25" fill="#dadada" fill-opacity="0.85"/>
<circle cx="432.5" cy="302.0" r="1.25" fill="#dadada" fill-opacity="0.85"/>
<circle cx="440.0" cy="305.4" r="1.25" fill="#dadada" fill-opacity="0.85"/>
<circle cx="439.9" cy="298.1" r="1.25" fill="#dadada" fill-opacity="0.85"/>
<circle cx="437.7" cy="297.6" r="1.25" fill="#dadada" fill-opacity="0.85"/>
<circle cx="441.0" cy="295.1" r="1.25" fill="#dadada" fill-opacity="0.85"/>
<circle cx="440.4" cy="298.6" r="1.25" fill="#dadada" fill-opacity="0.85"/>
<circle cx="436.2" cy="301.8" r="1.25" fill="#dadada" fill-opacity="0.85"/>
<circle cx="437.5" cy="303.9" r="1.25" fill="#dadada" fill-opacity="0.85"/>
<circle cx="425.9" cy="292.0" r="1.25" fill="#dadada" fill-opacity="0.85"/>
<circle cx="432.1" cy="303.9" r="1.25" fill="#dadada" fill-opacity="0.85"/>
<circle cx="431.1" cy="301.6" r="1.25" fill="#dadada" fill-opacity="0.85"/>
<circle cx="433.3" cy="302.9" r="1.25" fill="#dadada" fill-opacity="0.85"/>
<circle cx="437.0" cy="302.7" r="1.25" fill="#dadada" fill-opacity="0.85"/>
<circle cx="440.7" cy="299.3" r="1.25" fill="#dadada" fill-opacity="0.85"/>
<circle cx="435.9" cy="302.7" r="1.25" fill="#dadada" fill-opacity="0.85"/>
<circle cx="439.5" cy="295.5" r="1.25" fill="#dadada" fill-opacity="0.85"/>
<circle cx="442.7" cy="293.7" r="1.25" fill="#dadada" fill-opacity="0.85"/>
<circle cx="436.3" cy="305.7" r="1.25" fill="#dadada" fill-opacity="0.85"/>
<circle cx="430.2" cy="302.1" r="1.25" fill="#dadada" fill-opacity="0.85"/>
<circle cx="435.2" cy="303.2" r="1.25" fill="#dadada" fill-opacity="0.85"/>
<circle cx="426.4" cy="301.6" r="1.25" fill="#dadada" fill-opacity="0.85"/>
<circle cx="439.8" cy="300.1" r="1.25" fill="#dadada" fill-opacity="0.85"/>
<circle cx="441.9" cy="304.0" r="1.25" fill="#dadada" fill-opacity="0.85"/>
<circle cx="440.4" cy="299.8" r="1.25" fill="#dadada" fill-opacity="0.85"/>
<circle cx="436.5" cy="306.3" r="1.25" fill="#dadada" fill-opacity="0.85"/>
<circle cx="433.3" cy="303.1" r="1.25" fill="#dadada" fill-opacity="0.85"/>
<circle cx="439.7" cy="298.3" r="1.25" fill="#dadada" fill-opacity="0.85"/>
<circle cx="433.7" cy="306.4" r="1.25" fill="#dadada" fill-opacity="0.85"/>
<circle cx="439.0" cy="301.4" r="1.25" fill="#dadada" fill-opacity="0.85"/>
<circle cx="439.5" cy="297.9" r="1.25" fill="#dadada" fill-opacity="0.85"/>
<circle cx="433.3" cy="302.7" r="1.25" fill="#dadada" fill-opacity="0.85"/>
<circle cx="428.1" cy="290.6" r="1.25" fill="#dadada" fill-opacity="0.85"/>
<circle cx="427.2" cy="289.3" r="1.25" fill="#dadada" fill-opacity="0.85"/>
<circle cx="436.9" cy="303.8" r="1.25" fill="#dadada" fill-opacity="0.85"/>
<circle cx="443.6" cy="294.6" r="1.25" fill="#dadada" fill-opacity="0.85"/>
<circle cx="435.4" cy="306.3" r="1.25" fill="#dadada" fill-opacity="0.85"/>
<circle cx="440.9" cy="294.1" r="1.25" fill="#dadada" fill-opacity="0.85"/>
<circle cx="430.2" cy="305.7" r="1.25" fill="#dadada" fill-opacity="0.85"/>
<circle cx="433.7" cy="302.5" r="1.25" fill="#dadada" fill-opacity="0.85"/>
<circle cx="442.4" cy="296.6" r="1.25" fill="#dadada" fill-opacity="0.85"/>
<circle cx="426.2" cy="291.4" r="1.25" fill="#dadada" fill-opacity="0.85"/>
<circle cx="429.5" cy="296.6" r="1.25" fill="#dadada" fill-opacity="0.85"/>
<circle cx="435.2" cy="302.9" r="1.25" fill="#dadada" fill-opacity="0.85"/>
<circle cx="428.4" cy="294.4" r="1.25" fill="#dadada" fill-opacity="0.85"/>
<circle cx="439.5" cy="306.3" r="1.25" fill="#dadada" fill-opacity="0.85"/>
<circle cx="436.5" cy="305.1" r="1.25" fill="#dadada" fill-opacity="0.85"/>
<circle cx="439.0" cy="293.1" r="1.25" fill="#dadada" fill-opacity="0.85"/>
<circle cx="438.4" cy="301.8" r="1.25" fill="#dadada" fill-opacity="0.85"/>
<circle cx="437.2" cy="305.1" r="1.25" fill="#dadada" fill-opacity="0.85"/>
<circle cx="434.6" cy="306.2" r="1.25" fill="#dadada" fill-opacity="0.85"/>
<circle cx="439.5" cy="306.0" r="1.25" fill="#dadada" fill-opacity="0.85"/>
<circle cx="435.7" cy="305.9" r="1.25" fill="#dadada" fill-opacity="0.85"/>
<circle cx="436.4" cy="306.3" r="1.25" fill="#dadada" fill-opacity="0.85"/>
<circle cx="426.1" cy="295.9" r="1.25" fill="#dadada" fill-opacity="0.85"/>
<circle cx="439.4" cy="292.8" r="1.25" fill="#dadada" fill-opacity="0.85"/>
<circle cx="438.6" cy="293.9" r="1.25" fill="#dadada" fill-opacity="0.85"/>
<circle cx="428.3" cy="297.5" r="1.25" fill="#dadada" fill-opacity="0.85"/>
<circle cx="437.8" cy="305.4" r="1.25" fill="#dadada" fill-opacity="0.85"/>
<circle cx="428.2" cy="303.8" r="1.25" fill="#dadada" fill-opacity="0.85"/>
<circle cx="435.7" cy="302.9" r="1.25" fill="#dadada" fill-opacity="0.85"/>
<circle cx="439.3" cy="299.1" r="1.25" fill="#dadada" fill-opacity="0.85"/>
<circle cx="427.0" cy="294.6" r="1.25" fill="#dadada" fill-opacity="0.85"/>
<circle cx="435.4" cy="306.0" r="1.25" fill="#dadada" fill-opacity="0.85"/>
<circle cx="437.5" cy="305.0" r="1.25" fill="#dadada" fill-opacity="0.85"/>
<circle cx="431.5" cy="303.1" r="1.25" fill="#dadada" fill-opacity="0.85"/>
<circle cx="440.0" cy="305.4" r="1.25" fill="#dadada" fill-opacity="0.85"/>
<circle cx="434.1" cy="305.8" r="1.25" fill="#dadada" fill-opacity="0.85"/>
<circle cx="438.5" cy="297.2" r="1.25" fill="#dadada" fill-opacity="0.85"/>
<circle cx="430.6" cy="298.9" r="1.25" fill="#dadada" fill-opacity="0.85"/>
<circle cx="434.5" cy="305.9" r="1.25" fill="#dadada" fill-opacity="0.85"/>
<circle cx="430.9" cy="301.5" r="1.25" fill="#dadada" fill-opacity="0.85"/>
<circle cx="441.1" cy="294.7" r="1.25" fill="#dadada" fill-opacity="0.85"/>
<circle cx="425.6" cy="291.8" r="1.25" fill="#dadada" fill-opacity="0.85"/>
<circle cx="436.7" cy="304.0" r="1.25" fill="#dadada" fill-opacity="0.85"/>
<circle cx="430.2" cy="302.0" r="1.25" fill="#dadada" fill-opacity="0.85"/>
<circle cx="438.9" cy="303.9" r="1.25" fill="#dadada" fill-opacity="0.85"/>
<circle cx="428.2" cy="292.5" r="1.25" fill="#dadada" fill-opacity="0.85"/>
<circle cx="434.1" cy="306.3" r="1.25" fill="#dadada" fill-opacity="0.85"/>
<circle cx="442.7" cy="304.9" r="1.25" fill="#dadada" fill-opacity="0.85"/>
<circle cx="432.6" cy="303.0" r="1.25" fill="#dadada" fill-opacity="0.85"/>
<circle cx="438.4" cy="296.4" r="1.25" fill="#dadada" fill-opacity="0.85"/>
<circle cx="428.9" cy="299.0" r="1.25" fill="#dadada" fill-opacity="0.85"/>
<circle cx="442.5" cy="296.5" r="1.25" fill="#dadada" fill-opacity="0.85"/>
<circle cx="439.3" cy="300.7" r="1.25" fill="#dadada" fill-opacity="0.85"/>
<circle cx="439.4" cy="291.6" r="1.25" fill="#dadada" fill-opacity="0.85"/>
<circle cx="432.1" cy="301.3" r="1.25" fill="#dadada" fill-opacity="0.85"/>
<circle cx="432.2" cy="300.1" r="1.25" fill="#dadada" fill-opacity="0.85"/>
<circle cx="440.3" cy="290.6" r="1.25" fill="#dadada" fill-opacity="0.85"/>
<circle cx="442.4" cy="292.8" r="1.25" fill="#dadada" fill-opacity="0.85"/>
<circle cx="443.9" cy="303.9" r="1.25" fill="#dadada" fill-opacity="0.85"/>
<circle cx="436.6" cy="306.2" r="1.25" fill="#dadada" fill-opacity="0.85"/>
<circle cx="436.8" cy="301.9" r="1.25" fill="#dadada" fill-opacity="0.85"/>
<circle cx="431.1" cy="298.4" r="1.25" fill="#dadada" fill-opacity="0.85"/>
<circle cx="433.6" cy="305.9" r="1.25" fill="#dadada" fill-opacity="0.85"/>
<circle cx="429.3" cy="299.0" r="1.25" fill="#dadada" fill-opacity="0.85"/>
<circle cx="433.0" cy="306.3" r="1.25" fill="#dadada" fill-opacity="0.85"/>
<circle cx="431.5" cy="297.4" r="1.25" fill="#dadada" fill-opacity="0.85"/>
<circle cx="434.7" cy="304.0" r="1.25" fill="#dadada" fill-opacity="0.85"/>
<circle cx="433.8" cy="306.3" r="1.25" fill="#dadada" fill-opacity="0.85"/>
<circle cx="437.4" cy="305.3" r="1.25" fill="#dadada" fill-opacity="0.85"/>
<circle cx="427.9" cy="297.4" r="1.25" fill="#dadada" fill-opacity="0.85"/>
<circle cx="438.6" cy="306.4" r="1.25" fill="#dadada" fill-opacity="0.85"/>
<circle cx="443.8" cy="306.2" r="1.25" fill="#dadada" fill-opacity="0.85"/>
<circle cx="428.8" cy="302.7" r="1.25" fill="#dadada" fill-opacity="0.85"/>
<circle cx="440.9" cy="291.5" r="1.25" fill="#dadada" fill-opacity="0.85"/>
<circle cx="439.9" cy="300.5" r="1.25" fill="#dadada" fill-opacity="0.85"/>
<circle cx="443.2" cy="304.4" r="1.25" fill="#dadada" fill-opacity="0.85"/>
<circle cx="444.1" cy="305.8" r="1.25" fill="#dadada" fill-opacity="0.85"/>
<circle cx="428.5" cy="295.3" r="1.25" fill="#dadada" fill-opacity="0.85"/>
<circle cx="440.4" cy="294.6" r="1.25" fill="#dadada" fill-opacity="0.85"/>
<circle cx="430.3" cy="296.2" r="1.25" fill="#dadada" fill-opacity="0.85"/>
<circle cx="435.5" cy="305.9" r="1.25" fill="#dadada" fill-opacity="0.85"/>
<circle cx="427.4" cy="289.1" r="1.25" fill="#dadada" fill-opacity="0.85"/>
<circle cx="426.6" cy="303.8" r="1.25" fill="#dadada" fill-opacity="0.85"/>
<circle cx="432.4" cy="300.6" r="1.25" fill="#dadada" fill-opacity="0.85"/>
<circle cx="441.6" cy="286.8" r="1.25" fill="#dadada" fill-opacity="0.85"/>
<circle cx="437.7" cy="306.4" r="1.25" fill="#dadada" fill-opacity="0.85"/>
<circle cx="439.8" cy="304.4" r="1.25" fill="#dadada" fill-opacity="0.85"/>
<circle cx="443.8" cy="279.0" r="1.25" fill="#dadada" fill-opacity="0.85"/>
<circle cx="426.8" cy="294.2" r="1.25" fill="#dadada" fill-opacity="0.85"/>
<circle cx="430.2" cy="305.8" r="1.25" fill="#dadada" fill-opacity="0.85"/>
<circle cx="442.4" cy="297.2" r="1.25" fill="#dadada" fill-opacity="0.85"/>
<circle cx="431.2" cy="301.7" r="1.25" fill="#dadada" fill-opacity="0.85"/>
<circle cx="426.8" cy="300.4" r="1.25" fill="#dadada" fill-opacity="0.85"/>
<circle cx="438.1" cy="297.8" r="1.25" fill="#dadada" fill-opacity="0.85"/>
<circle cx="427.9" cy="291.8" r="1.25" fill="#dadada" fill-opacity="0.85"/>
<circle cx="427.6" cy="304.2" r="1.25" fill="#dadada" fill-opacity="0.85"/>
<circle cx="432.0" cy="305.6" r="1.25" fill="#dadada" fill-opacity="0.85"/>
<circle cx="427.3" cy="296.2" r="1.25" fill="#dadada" fill-opacity="0.85"/>
<circle cx="433.2" cy="305.9" r="1.25" fill="#dadada" fill-opacity="0.85"/>
<circle cx="435.5" cy="306.1" r="1.25" fill="#dadada" fill-opacity="0.85"/>
<circle cx="438.7" cy="294.1" r="1.25" fill="#dadada" fill-opacity="0.85"/>
<circle cx="434.6" cy="305.1" r="1.25" fill="#dadada" fill-opacity="0.85"/>
<circle cx="433.2" cy="305.2" r="1.25" fill="#dadada" fill-opacity="0.85"/>
<circle cx="433.5" cy="306.0" r="1.25" fill="#dadada" fill-opacity="0.85"/>
<circle cx="431.3" cy="300.3" r="1.25" fill="#dadada" fill-opacity="0.85"/>
<circle cx="434.8" cy="306.3" r="1.25" fill="#dadada" fill-opacity="0.85"/>
<circle cx="428.4" cy="293.4" r="1.25" fill="#dadada" fill-opacity="0.85"/>
<circle cx="432.4" cy="301.0" r="1.25" fill="#dadada" fill-opacity="0.85"/>
<circle cx="437.5" cy="301.6" r="1.25" fill="#dadada" fill-opacity="0.85"/>
<circle cx="432.4" cy="303.1" r="1.25" fill="#dadada" fill-opacity="0.85"/>
<circle cx="433.6" cy="304.6" r="1.25" fill="#dadada" fill-opacity="0.85"/>
<circle cx="443.8" cy="304.9" r="1.25" fill="#dadada" fill-opacity="0.85"/>
<circle cx="429.7" cy="294.0" r="1.25" fill="#dadada" fill-opacity="0.85"/>
<circle cx="443.4" cy="285.0" r="1.25" fill="#dadada" fill-opacity="0.85"/>
<circle cx="442.2" cy="305.0" r="1.25" fill="#dadada" fill-opacity="0.85"/>
<circle cx="439.4" cy="305.4" r="1.25" fill="#dadada" fill-opacity="0.85"/>
<circle cx="441.9" cy="298.7" r="1.25" fill="#dadada" fill-opacity="0.85"/>
<circle cx="435.0" cy="304.8" r="1.25" fill="#dadada" fill-opacity="0.85"/>
<circle cx="429.5" cy="299.5" r="1.25" fill="#dadada" fill-opacity="0.85"/>
<circle cx="442.2" cy="297.1" r="1.25" fill="#dadada" fill-opacity="0.85"/>
<circle cx="434.0" cy="305.3" r="1.25" fill="#dadada" fill-opacity="0.85"/>
<circle cx="429.2" cy="303.5" r="1.25" fill="#dadada" fill-opacity="0.85"/>
<circle cx="441.7" cy="282.4" r="1.25" fill="#dadada" fill-opacity="0.85"/>
<circle cx="432.8" cy="305.3" r="1.25" fill="#dadada" fill-opacity="0.85"/>
<circle cx="432.1" cy="300.0" r="1.25" fill="#dadada" fill-opacity="0.85"/>
<circle cx="430.6" cy="305.2" r="1.25" fill="#dadada" fill-opacity="0.85"/>
<circle cx="431.6" cy="306.1" r="1.25" fill="#dadada" fill-opacity="0.85"/>
<circle cx="428.4" cy="304.0" r="1.25" fill="#dadada" fill-opacity="0.85"/>
<circle cx="438.1" cy="296.9" r="1.25" fill="#dadada" fill-opacity="0.85"/>
<circle cx="430.5" cy="304.0" r="1.25" fill="#dadada" fill-opacity="0.85"/>
<circle cx="436.9" cy="306.3" r="1.25" fill="#dadada" fill-opacity="0.85"/>
<circle cx="427.3" cy="297.8" r="1.25" fill="#dadada" fill-opacity="0.85"/>
<circle cx="434.5" cy="305.4" r="1.25" fill="#dadada" fill-opacity="0.85"/>
<circle cx="433.6" cy="306.4" r="1.25" fill="#dadada" fill-opacity="0.85"/>
<circle cx="430.6" cy="305.2" r="1.25" fill="#dadada" fill-opacity="0.85"/>
<circle cx="430.2" cy="306.0" r="1.25" fill="#dadada" fill-opacity="0.85"/>
<circle cx="441.3" cy="306.3" r="1.25" fill="#dadada" fill-opacity="0.85"/>
<circle cx="433.5" cy="306.0" r="1.25" fill="#dadada" fill-opacity="0.85"/>
<circle cx="429.5" cy="296.1" r="1.25" fill="#dadada" fill-opacity="0.85"/>
<circle cx="444.1" cy="278.9" r="1.25" fill="#dadada" fill-opacity="0.85"/>
<circle cx="431.9" cy="302.8" r="1.25" fill="#dadada" fill-opacity="0.85"/>
<circle cx="433.9" cy="306.3" r="1.25" fill="#dadada" fill-opacity="0.85"/>
<circle cx="433.7" cy="304.2" r="1.25" fill="#dadada" fill-opacity="0.85"/>
<circle cx="433.2" cy="303.1" r="1.25" fill="#dadada" fill-opacity="0.85"/>
<circle cx="434.2" cy="305.6" r="1.25" fill="#dadada" fill-opacity="0.85"/>
<circle cx="442.8" cy="293.3" r="1.25" fill="#dadada" fill-opacity="0.85"/>
<circle cx="430.5" cy="295.9" r="1.25" fill="#dadada" fill-opacity="0.85"/>
<circle cx="434.8" cy="304.4" r="1.25" fill="#dadada" fill-opacity="0.85"/>
<circle cx="434.6" cy="303.2" r="1.25" fill="#dadada" fill-opacity="0.85"/>
<circle cx="439.7" cy="300.6" r="1.25" fill="#dadada" fill-opacity="0.85"/>
<circle cx="432.6" cy="301.9" r="1.25" fill="#dadada" fill-opacity="0.85"/>
<circle cx="441.7" cy="293.4" r="1.25" fill="#dadada" fill-opacity="0.85"/>
<circle cx="442.4" cy="294.8" r="1.25" fill="#dadada" fill-opacity="0.85"/>
<circle cx="433.6" cy="305.4" r="1.25" fill="#dadada" fill-opacity="0.85"/>
<circle cx="430.7" cy="305.4" r="1.25" fill="#dadada" fill-opacity="0.85"/>
<circle cx="443.4" cy="293.5" r="1.25" fill="#dadada" fill-opacity="0.85"/>
<circle cx="427.2" cy="304.1" r="1.25" fill="#dadada" fill-opacity="0.85"/>
<circle cx="433.7" cy="303.2" r="1.25" fill="#dadada" fill-opacity="0.85"/>
<circle cx="442.1" cy="288.1" r="1.25" fill="#dadada" fill-opacity="0.85"/>
<circle cx="431.2" cy="303.1" r="1.25" fill="#dadada" fill-opacity="0.85"/>
<circle cx="443.8" cy="298.1" r="1.25" fill="#dadada" fill-opacity="0.85"/>
<circle cx="438.1" cy="306.2" r="1.25" fill="#dadada" fill-opacity="0.85"/>
<circle cx="434.8" cy="304.8" r="1.25" fill="#dadada" fill-opacity="0.85"/>
<circle cx="443.1" cy="280.3" r="1.25" fill="#dadada" fill-opacity="0.85"/>
<circle cx="440.1" cy="302.0" r="1.25" fill="#dadada" fill-opacity="0.85"/>
<circle cx="442.4" cy="282.7" r="1.25" fill="#dadada" fill-opacity="0.85"/>
<circle cx="427.0" cy="300.5" r="1.25" fill="#dadada" fill-opacity="0.85"/>
<circle cx="436.2" cy="305.1" r="1.25" fill="#dadada" fill-opacity="0.85"/>
<circle cx="430.2" cy="297.1" r="1.25" fill="#dadada" fill-opacity="0.85"/>
<circle cx="429.6" cy="299.8" r="1.25" fill="#dadada" fill-opacity="0.85"/>
<circle cx="389.6" cy="305.5" r="1.25" fill="#3575c0" fill-opacity="0.85"/>
<circle cx="424.2" cy="305.8" r="1.25" fill="#3575c0" fill-opacity="0.85"/>
<circle cx="392.8" cy="303.7" r="1.25" fill="#3575c0" fill-opacity="0.85"/>
<circle cx="422.4" cy="299.5" r="1.25" fill="#3575c0" fill-opacity="0.85"/>
<circle cx="399.7" cy="305.3" r="1.25" fill="#3575c0" fill-opacity="0.85"/>
<circle cx="415.8" cy="298.9" r="1.25" fill="#3575c0" fill-opacity="0.85"/>
<circle cx="405.3" cy="301.5" r="1.25" fill="#3575c0" fill-opacity="0.85"/>
<circle cx="392.5" cy="305.4" r="1.25" fill="#3575c0" fill-opacity="0.85"/>
<circle cx="421.1" cy="285.8" r="1.25" fill="#3575c0" fill-opacity="0.85"/>
<circle cx="406.7" cy="299.6" r="1.25" fill="#3575c0" fill-opacity="0.85"/>
<circle cx="421.3" cy="299.2" r="1.25" fill="#3575c0" fill-opacity="0.85"/>
<circle cx="394.1" cy="305.8" r="1.25" fill="#3575c0" fill-opacity="0.85"/>
<circle cx="413.5" cy="303.7" r="1.25" fill="#3575c0" fill-opacity="0.85"/>
<circle cx="408.2" cy="305.8" r="1.25" fill="#3575c0" fill-opacity="0.85"/>
<circle cx="423.6" cy="303.9" r="1.25" fill="#3575c0" fill-opacity="0.85"/>
<circle cx="412.1" cy="299.4" r="1.25" fill="#3575c0" fill-opacity="0.85"/>
<circle cx="401.9" cy="305.5" r="1.25" fill="#3575c0" fill-opacity="0.85"/>
<circle cx="409.5" cy="304.4" r="1.25" fill="#3575c0" fill-opacity="0.85"/>
<circle cx="391.7" cy="305.8" r="1.25" fill="#3575c0" fill-opacity="0.85"/>
<circle cx="390.3" cy="304.3" r="1.25" fill="#3575c0" fill-opacity="0.85"/>
<circle cx="396.3" cy="302.8" r="1.25" fill="#3575c0" fill-opacity="0.85"/>
<circle cx="411.6" cy="291.3" r="1.25" fill="#3575c0" fill-opacity="0.85"/>
<circle cx="406.1" cy="305.2" r="1.25" fill="#3575c0" fill-opacity="0.85"/>
<circle cx="392.0" cy="304.9" r="1.25" fill="#3575c0" fill-opacity="0.85"/>
<circle cx="414.4" cy="297.0" r="1.25" fill="#3575c0" fill-opacity="0.85"/>
<circle cx="422.2" cy="305.6" r="1.25" fill="#3575c0" fill-opacity="0.85"/>
<circle cx="412.5" cy="297.4" r="1.25" fill="#3575c0" fill-opacity="0.85"/>
<circle cx="423.4" cy="304.2" r="1.25" fill="#3575c0" fill-opacity="0.85"/>
<circle cx="423.0" cy="305.8" r="1.25" fill="#3575c0" fill-opacity="0.85"/>
<circle cx="410.5" cy="304.3" r="1.25" fill="#3575c0" fill-opacity="0.85"/>
<circle cx="407.9" cy="305.5" r="1.25" fill="#3575c0" fill-opacity="0.85"/>
<circle cx="403.0" cy="304.9" r="1.25" fill="#3575c0" fill-opacity="0.85"/>
<circle cx="405.9" cy="304.3" r="1.25" fill="#3575c0" fill-opacity="0.85"/>
<circle cx="396.9" cy="305.7" r="1.25" fill="#3575c0" fill-opacity="0.85"/>
<circle cx="406.0" cy="296.4" r="1.25" fill="#3575c0" fill-opacity="0.85"/>
<circle cx="420.0" cy="305.3" r="1.25" fill="#3575c0" fill-opacity="0.85"/>
<circle cx="412.1" cy="305.5" r="1.25" fill="#3575c0" fill-opacity="0.85"/>
<circle cx="400.8" cy="299.6" r="1.25" fill="#3575c0" fill-opacity="0.85"/>
<circle cx="401.3" cy="305.8" r="1.25" fill="#3575c0" fill-opacity="0.85"/>
<circle cx="409.5" cy="301.2" r="1.25" fill="#3575c0" fill-opacity="0.85"/>
<circle cx="407.6" cy="295.7" r="1.25" fill="#3575c0" fill-opacity="0.85"/>
<circle cx="407.7" cy="304.3" r="1.25" fill="#3575c0" fill-opacity="0.85"/>
<circle cx="396.5" cy="304.6" r="1.25" fill="#3575c0" fill-opacity="0.85"/>
<circle cx="416.2" cy="300.5" r="1.25" fill="#3575c0" fill-opacity="0.85"/>
<circle cx="403.2" cy="305.3" r="1.25" fill="#3575c0" fill-opacity="0.85"/>
<circle cx="419.9" cy="282.9" r="1.25" fill="#3575c0" fill-opacity="0.85"/>
<circle cx="410.3" cy="298.5" r="1.25" fill="#3575c0" fill-opacity="0.85"/>
<circle cx="400.8" cy="305.7" r="1.25" fill="#3575c0" fill-opacity="0.85"/>
<circle cx="391.0" cy="305.0" r="1.25" fill="#3575c0" fill-opacity="0.85"/>
<circle cx="422.5" cy="293.9" r="1.25" fill="#3575c0" fill-opacity="0.85"/>
<circle cx="413.6" cy="292.4" r="1.25" fill="#3575c0" fill-opacity="0.85"/>
<circle cx="404.0" cy="304.3" r="1.25" fill="#3575c0" fill-opacity="0.85"/>
<circle cx="398.4" cy="302.5" r="1.25" fill="#3575c0" fill-opacity="0.85"/>
<circle cx="414.2" cy="300.6" r="1.25" fill="#3575c0" fill-opacity="0.85"/>
<circle cx="417.4" cy="287.7" r="1.25" fill="#3575c0" fill-opacity="0.85"/>
<circle cx="390.6" cy="305.7" r="1.25" fill="#3575c0" fill-opacity="0.85"/>
<circle cx="406.0" cy="301.0" r="1.25" fill="#3575c0" fill-opacity="0.85"/>
<circle cx="397.7" cy="305.0" r="1.25" fill="#3575c0" fill-opacity="0.85"/>
<circle cx="413.2" cy="304.3" r="1.25" fill="#3575c0" fill-opacity="0.85"/>
<circle cx="413.4" cy="305.8" r="1.25" fill="#3575c0" fill-opacity="0.85"/>
<circle cx="404.0" cy="302.4" r="1.25" fill="#3575c0" fill-opacity="0.85"/>
<circle cx="420.5" cy="299.6" r="1.25" fill="#3575c0" fill-opacity="0.85"/>
<circle cx="413.3" cy="298.0" r="1.25" fill="#3575c0" fill-opacity="0.85"/>
<circle cx="412.6" cy="302.4" r="1.25" fill="#3575c0" fill-opacity="0.85"/>
<circle cx="400.5" cy="305.7" r="1.25" fill="#3575c0" fill-opacity="0.85"/>
<circle cx="421.4" cy="291.2" r="1.25" fill="#3575c0" fill-opacity="0.85"/>
<circle cx="412.8" cy="296.1" r="1.25" fill="#3575c0" fill-opacity="0.85"/>
<circle cx="400.4" cy="305.6" r="1.25" fill="#3575c0" fill-opacity="0.85"/>
<circle cx="408.4" cy="303.2" r="1.25" fill="#3575c0" fill-opacity="0.85"/>
<circle cx="412.7" cy="292.8" r="1.25" fill="#3575c0" fill-opacity="0.85"/>
<circle cx="403.3" cy="304.7" r="1.25" fill="#3575c0" fill-opacity="0.85"/>
<circle cx="414.7" cy="290.6" r="1.25" fill="#3575c0" fill-opacity="0.85"/>
<circle cx="409.6" cy="301.0" r="1.25" fill="#3575c0" fill-opacity="0.85"/>
<circle cx="421.6" cy="285.2" r="1.25" fill="#3575c0" fill-opacity="0.85"/>
<circle cx="390.5" cy="304.0" r="1.25" fill="#3575c0" fill-opacity="0.85"/>
<circle cx="392.4" cy="305.1" r="1.25" fill="#3575c0" fill-opacity="0.85"/>
<circle cx="407.2" cy="295.5" r="1.25" fill="#3575c0" fill-opacity="0.85"/>
<circle cx="397.4" cy="305.8" r="1.25" fill="#3575c0" fill-opacity="0.85"/>
<circle cx="424.0" cy="300.4" r="1.25" fill="#3575c0" fill-opacity="0.85"/>
<circle cx="405.7" cy="304.1" r="1.25" fill="#3575c0" fill-opacity="0.85"/>
<circle cx="399.0" cy="305.8" r="1.25" fill="#3575c0" fill-opacity="0.85"/>
<circle cx="409.3" cy="305.2" r="1.25" fill="#3575c0" fill-opacity="0.85"/>
<circle cx="407.2" cy="295.1" r="1.25" fill="#3575c0" fill-opacity="0.85"/>
<circle cx="424.9" cy="303.3" r="1.25" fill="#3575c0" fill-opacity="0.85"/>
<circle cx="401.1" cy="305.7" r="1.25" fill="#3575c0" fill-opacity="0.85"/>
<circle cx="411.2" cy="305.3" r="1.25" fill="#3575c0" fill-opacity="0.85"/>
<circle cx="393.5" cy="303.5" r="1.25" fill="#3575c0" fill-opacity="0.85"/>
<circle cx="409.4" cy="295.3" r="1.25" fill="#3575c0" fill-opacity="0.85"/>
<circle cx="396.8" cy="305.7" r="1.25" fill="#3575c0" fill-opacity="0.85"/>
<circle cx="410.1" cy="299.1" r="1.25" fill="#3575c0" fill-opacity="0.85"/>
<circle cx="395.4" cy="305.0" r="1.25" fill="#3575c0" fill-opacity="0.85"/>
<circle cx="409.5" cy="302.5" r="1.25" fill="#3575c0" fill-opacity="0.85"/>
<circle cx="400.4" cy="304.6" r="1.25" fill="#3575c0" fill-opacity="0.85"/>
<circle cx="392.9" cy="305.8" r="1.25" fill="#3575c0" fill-opacity="0.85"/>
<circle cx="391.0" cy="304.4" r="1.25" fill="#3575c0" fill-opacity="0.85"/>
<circle cx="398.0" cy="303.7" r="1.25" fill="#3575c0" fill-opacity="0.85"/>
<circle cx="393.1" cy="303.7" r="1.25" fill="#3575c0" fill-opacity="0.85"/>
<circle cx="389.9" cy="304.7" r="1.25" fill="#3575c0" fill-opacity="0.85"/>
<circle cx="408.4" cy="295.8" r="1.25" fill="#3575c0" fill-opacity="0.85"/>
<circle cx="421.5" cy="305.8" r="1.25" fill="#3575c0" fill-opacity="0.85"/>
<circle cx="390.7" cy="305.7" r="1.25" fill="#3575c0" fill-opacity="0.85"/>
<circle cx="390.5" cy="304.4" r="1.25" fill="#3575c0" fill-opacity="0.85"/>
<circle cx="394.2" cy="304.5" r="1.25" fill="#3575c0" fill-opacity="0.85"/>
<circle cx="423.5" cy="293.2" r="1.25" fill="#3575c0" fill-opacity="0.85"/>
<circle cx="425.4" cy="294.6" r="1.25" fill="#3575c0" fill-opacity="0.85"/>
<circle cx="403.1" cy="298.5" r="1.25" fill="#3575c0" fill-opacity="0.85"/>
<circle cx="396.8" cy="304.6" r="1.25" fill="#3575c0" fill-opacity="0.85"/>
<circle cx="404.1" cy="303.3" r="1.25" fill="#3575c0" fill-opacity="0.85"/>
<circle cx="399.8" cy="300.6" r="1.25" fill="#3575c0" fill-opacity="0.85"/>
<circle cx="425.2" cy="292.8" r="1.25" fill="#3575c0" fill-opacity="0.85"/>
<circle cx="407.1" cy="296.2" r="1.25" fill="#3575c0" fill-opacity="0.85"/>
<circle cx="423.6" cy="305.8" r="1.25" fill="#3575c0" fill-opacity="0.85"/>
<circle cx="421.3" cy="305.5" r="1.25" fill="#3575c0" fill-opacity="0.85"/>
<circle cx="392.3" cy="305.7" r="1.25" fill="#3575c0" fill-opacity="0.85"/>
<circle cx="402.5" cy="304.1" r="1.25" fill="#3575c0" fill-opacity="0.85"/>
<circle cx="423.9" cy="305.3" r="1.25" fill="#3575c0" fill-opacity="0.85"/>
<circle cx="412.6" cy="301.5" r="1.25" fill="#3575c0" fill-opacity="0.85"/>
<circle cx="393.5" cy="303.0" r="1.25" fill="#3575c0" fill-opacity="0.85"/>
<circle cx="422.5" cy="302.9" r="1.25" fill="#3575c0" fill-opacity="0.85"/>
<circle cx="420.8" cy="301.0" r="1.25" fill="#3575c0" fill-opacity="0.85"/>
<circle cx="413.6" cy="290.2" r="1.25" fill="#3575c0" fill-opacity="0.85"/>
<circle cx="412.3" cy="303.7" r="1.25" fill="#3575c0" fill-opacity="0.85"/>
<circle cx="390.8" cy="305.4" r="1.25" fill="#3575c0" fill-opacity="0.85"/>
<circle cx="410.1" cy="304.8" r="1.25" fill="#3575c0" fill-opacity="0.85"/>
<circle cx="410.0" cy="305.8" r="1.25" fill="#3575c0" fill-opacity="0.85"/>
<circle cx="398.2" cy="304.7" r="1.25" fill="#3575c0" fill-opacity="0.85"/>
<circle cx="406.6" cy="300.8" r="1.25" fill="#3575c0" fill-opacity="0.85"/>
<circle cx="397.4" cy="305.5" r="1.25" fill="#3575c0" fill-opacity="0.85"/>
<circle cx="415.7" cy="304.2" r="1.25" fill="#3575c0" fill-opacity="0.85"/>
<circle cx="394.4" cy="304.6" r="1.25" fill="#3575c0" fill-opacity="0.85"/>
<circle cx="401.7" cy="303.4" r="1.25" fill="#3575c0" fill-opacity="0.85"/>
<circle cx="424.4" cy="281.2" r="1.25" fill="#3575c0" fill-opacity="0.85"/>
<circle cx="417.9" cy="284.9" r="1.25" fill="#3575c0" fill-opacity="0.85"/>
<circle cx="418.0" cy="303.0" r="1.25" fill="#3575c0" fill-opacity="0.85"/>
<circle cx="423.1" cy="305.4" r="1.25" fill="#3575c0" fill-opacity="0.85"/>
<circle cx="396.5" cy="304.9" r="1.25" fill="#3575c0" fill-opacity="0.85"/>
<circle cx="393.4" cy="304.8" r="1.25" fill="#3575c0" fill-opacity="0.85"/>
<circle cx="408.9" cy="305.3" r="1.25" fill="#3575c0" fill-opacity="0.85"/>
<circle cx="416.1" cy="305.7" r="1.25" fill="#3575c0" fill-opacity="0.85"/>
<circle cx="406.8" cy="305.1" r="1.25" fill="#3575c0" fill-opacity="0.85"/>
<circle cx="466.6" cy="305.8" r="1.25" fill="#a31a1e" fill-opacity="0.85"/>
<circle cx="453.7" cy="301.1" r="1.25" fill="#a31a1e" fill-opacity="0.85"/>
<circle cx="451.9" cy="297.5" r="1.25" fill="#a31a1e" fill-opacity="0.85"/>
<circle cx="447.5" cy="305.8" r="1.25" fill="#a31a1e" fill-opacity="0.85"/>
<circle cx="445.1" cy="301.4" r="1.25" fill="#a31a1e" fill-opacity="0.85"/>
<circle cx="456.0" cy="304.0" r="1.25" fill="#a31a1e" fill-opacity="0.85"/>
<circle cx="455.8" cy="299.1" r="1.25" fill="#a31a1e" fill-opacity="0.85"/>
<circle cx="449.9" cy="305.7" r="1.25" fill="#a31a1e" fill-opacity="0.85"/>
<circle cx="450.6" cy="296.3" r="1.25" fill="#a31a1e" fill-opacity="0.85"/>
<circle cx="463.6" cy="305.8" r="1.25" fill="#a31a1e" fill-opacity="0.85"/>
<circle cx="444.9" cy="285.6" r="1.25" fill="#a31a1e" fill-opacity="0.85"/>
<circle cx="467.3" cy="305.8" r="1.25" fill="#a31a1e" fill-opacity="0.85"/>
<circle cx="457.2" cy="305.8" r="1.25" fill="#a31a1e" fill-opacity="0.85"/>
<circle cx="456.6" cy="305.7" r="1.25" fill="#a31a1e" fill-opacity="0.85"/>
<circle cx="460.7" cy="305.8" r="1.25" fill="#a31a1e" fill-opacity="0.85"/>
<circle cx="457.9" cy="305.4" r="1.25" fill="#a31a1e" fill-opacity="0.85"/>
<circle cx="456.0" cy="297.7" r="1.25" fill="#a31a1e" fill-opacity="0.85"/>
<circle cx="457.0" cy="297.9" r="1.25" fill="#a31a1e" fill-opacity="0.85"/>
<circle cx="461.5" cy="305.7" r="1.25" fill="#a31a1e" fill-opacity="0.85"/>
<circle cx="450.7" cy="296.9" r="1.25" fill="#a31a1e" fill-opacity="0.85"/>
<circle cx="462.8" cy="305.8" r="1.25" fill="#a31a1e" fill-opacity="0.85"/>
<circle cx="463.6" cy="305.7" r="1.25" fill="#a31a1e" fill-opacity="0.85"/>
<circle cx="458.0" cy="300.1" r="1.25" fill="#a31a1e" fill-opacity="0.85"/>
<circle cx="466.1" cy="305.8" r="1.25" fill="#a31a1e" fill-opacity="0.85"/>
<circle cx="448.2" cy="305.3" r="1.25" fill="#a31a1e" fill-opacity="0.85"/>
<circle cx="458.9" cy="299.4" r="1.25" fill="#a31a1e" fill-opacity="0.85"/>
<circle cx="460.0" cy="302.7" r="1.25" fill="#a31a1e" fill-opacity="0.85"/>
<circle cx="463.9" cy="305.3" r="1.25" fill="#a31a1e" fill-opacity="0.85"/>
<circle cx="453.6" cy="299.4" r="1.25" fill="#a31a1e" fill-opacity="0.85"/>
<circle cx="459.2" cy="300.9" r="1.25" fill="#a31a1e" fill-opacity="0.85"/>
<circle cx="467.9" cy="305.6" r="1.25" fill="#a31a1e" fill-opacity="0.85"/>
<circle cx="452.8" cy="305.8" r="1.25" fill="#a31a1e" fill-opacity="0.85"/>
<circle cx="458.4" cy="305.5" r="1.25" fill="#a31a1e" fill-opacity="0.85"/>
<circle cx="452.2" cy="303.6" r="1.25" fill="#a31a1e" fill-opacity="0.85"/>
<circle cx="461.7" cy="303.9" r="1.25" fill="#a31a1e" fill-opacity="0.85"/>
<circle cx="455.5" cy="302.7" r="1.25" fill="#a31a1e" fill-opacity="0.85"/>
<circle cx="459.4" cy="300.6" r="1.25" fill="#a31a1e" fill-opacity="0.85"/>
<circle cx="460.7" cy="302.0" r="1.25" fill="#a31a1e" fill-opacity="0.85"/>
<circle cx="450.4" cy="295.7" r="1.25" fill="#a31a1e" fill-opacity="0.85"/>
<circle cx="445.0" cy="293.7" r="1.25" fill="#a31a1e" fill-opacity="0.85"/>
<circle cx="445.2" cy="300.2" r="1.25" fill="#a31a1e" fill-opacity="0.85"/>
<circle cx="451.2" cy="305.7" r="1.25" fill="#a31a1e" fill-opacity="0.85"/>
<circle cx="462.1" cy="305.8" r="1.25" fill="#a31a1e" fill-opacity="0.85"/>
<circle cx="460.6" cy="305.8" r="1.25" fill="#a31a1e" fill-opacity="0.85"/>
<circle cx="449.7" cy="304.4" r="1.25" fill="#a31a1e" fill-opacity="0.85"/>
<circle cx="458.1" cy="303.2" r="1.25" fill="#a31a1e" fill-opacity="0.85"/>
<circle cx="453.2" cy="297.5" r="1.25" fill="#a31a1e" fill-opacity="0.85"/>
<circle cx="445.5" cy="305.6" r="1.25" fill="#a31a1e" fill-opacity="0.85"/>
<circle cx="454.0" cy="302.7" r="1.25" fill="#a31a1e" fill-opacity="0.85"/>
<circle cx="460.0" cy="301.2" r="1.25" fill="#a31a1e" fill-opacity="0.85"/>
<circle cx="453.0" cy="301.9" r="1.25" fill="#a31a1e" fill-opacity="0.85"/>
<circle cx="460.8" cy="305.8" r="1.25" fill="#a31a1e" fill-opacity="0.85"/>
<circle cx="453.4" cy="304.4" r="1.25" fill="#a31a1e" fill-opacity="0.85"/>
<circle cx="458.7" cy="304.5" r="1.25" fill="#a31a1e" fill-opacity="0.85"/>
<circle cx="448.1" cy="305.5" r="1.25" fill="#a31a1e" fill-opacity="0.85"/>
<circle cx="452.5" cy="305.8" r="1.25" fill="#a31a1e" fill-opacity="0.85"/>
<circle cx="462.7" cy="302.4" r="1.25" fill="#a31a1e" fill-opacity="0.85"/>
<circle cx="461.8" cy="305.7" r="1.25" fill="#a31a1e" fill-opacity="0.85"/>
<circle cx="458.5" cy="305.8" r="1.25" fill="#a31a1e" fill-opacity="0.85"/>
<circle cx="449.7" cy="305.4" r="1.25" fill="#a31a1e" fill-opacity="0.85"/>
<circle cx="458.7" cy="304.1" r="1.25" fill="#a31a1e" fill-opacity="0.85"/>
<circle cx="457.4" cy="305.8" r="1.25" fill="#a31a1e" fill-opacity="0.85"/>
<circle cx="456.5" cy="301.7" r="1.25" fill="#a31a1e" fill-opacity="0.85"/>
<circle cx="465.1" cy="305.6" r="1.25" fill="#a31a1e" fill-opacity="0.85"/>
<circle cx="455.2" cy="299.0" r="1.25" fill="#a31a1e" fill-opacity="0.85"/>
<circle cx="445.9" cy="300.5" r="1.25" fill="#a31a1e" fill-opacity="0.85"/>
<circle cx="447.2" cy="295.2" r="1.25" fill="#a31a1e" fill-opacity="0.85"/>
<circle cx="460.5" cy="305.8" r="1.25" fill="#a31a1e" fill-opacity="0.85"/>
<circle cx="445.9" cy="288.8" r="1.25" fill="#a31a1e" fill-opacity="0.85"/>
<circle cx="452.0" cy="302.5" r="1.25" fill="#a31a1e" fill-opacity="0.85"/>
<circle cx="458.3" cy="305.2" r="1.25" fill="#a31a1e" fill-opacity="0.85"/>
<circle cx="447.2" cy="297.7" r="1.25" fill="#a31a1e" fill-opacity="0.85"/>
<circle cx="452.6" cy="304.4" r="1.25" fill="#a31a1e" fill-opacity="0.85"/>
<circle cx="463.4" cy="302.3" r="1.25" fill="#a31a1e" fill-opacity="0.85"/>
<circle cx="451.5" cy="305.0" r="1.25" fill="#a31a1e" fill-opacity="0.85"/>
<circle cx="462.8" cy="305.3" r="1.25" fill="#a31a1e" fill-opacity="0.85"/>
<circle cx="465.5" cy="305.6" r="1.25" fill="#a31a1e" fill-opacity="0.85"/>
<circle cx="446.1" cy="305.1" r="1.25" fill="#a31a1e" fill-opacity="0.85"/>
<circle cx="465.7" cy="305.1" r="1.25" fill="#a31a1e" fill-opacity="0.85"/>
<circle cx="467.4" cy="304.7" r="1.25" fill="#a31a1e" fill-opacity="0.85"/>
<circle cx="460.6" cy="305.8" r="1.25" fill="#a31a1e" fill-opacity="0.85"/>
<circle cx="454.5" cy="305.8" r="1.25" fill="#a31a1e" fill-opacity="0.85"/>
<circle cx="452.6" cy="305.6" r="1.25" fill="#a31a1e" fill-opacity="0.85"/>
<circle cx="466.6" cy="305.8" r="1.25" fill="#a31a1e" fill-opacity="0.85"/>
<circle cx="452.8" cy="305.8" r="1.25" fill="#a31a1e" fill-opacity="0.85"/>
<circle cx="448.4" cy="299.0" r="1.25" fill="#a31a1e" fill-opacity="0.85"/>
<circle cx="454.2" cy="304.0" r="1.25" fill="#a31a1e" fill-opacity="0.85"/>
<circle cx="463.9" cy="304.3" r="1.25" fill="#a31a1e" fill-opacity="0.85"/>
<circle cx="449.8" cy="298.2" r="1.25" fill="#a31a1e" fill-opacity="0.85"/>
<circle cx="460.7" cy="304.4" r="1.25" fill="#a31a1e" fill-opacity="0.85"/>
<circle cx="456.5" cy="298.7" r="1.25" fill="#a31a1e" fill-opacity="0.85"/>
<circle cx="458.7" cy="305.8" r="1.25" fill="#a31a1e" fill-opacity="0.85"/>
<circle cx="464.3" cy="304.6" r="1.25" fill="#a31a1e" fill-opacity="0.85"/>
<circle cx="451.0" cy="298.3" r="1.25" fill="#a31a1e" fill-opacity="0.85"/>
<circle cx="466.4" cy="304.8" r="1.25" fill="#a31a1e" fill-opacity="0.85"/>
<circle cx="455.9" cy="300.1" r="1.25" fill="#a31a1e" fill-opacity="0.85"/>
<circle cx="446.7" cy="305.8" r="1.25" fill="#a31a1e" fill-opacity="0.85"/>
<circle cx="454.2" cy="303.9" r="1.25" fill="#a31a1e" fill-opacity="0.85"/>
<circle cx="459.7" cy="303.7" r="1.25" fill="#a31a1e" fill-opacity="0.85"/>
<circle cx="456.8" cy="305.2" r="1.25" fill="#a31a1e" fill-opacity="0.85"/>
<circle cx="461.8" cy="304.7" r="1.25" fill="#a31a1e" fill-opacity="0.85"/>
<circle cx="449.7" cy="301.9" r="1.25" fill="#a31a1e" fill-opacity="0.85"/>
<circle cx="455.5" cy="300.5" r="1.25" fill="#a31a1e" fill-opacity="0.85"/>
<circle cx="461.1" cy="300.4" r="1.25" fill="#a31a1e" fill-opacity="0.85"/>
<circle cx="462.5" cy="305.0" r="1.25" fill="#a31a1e" fill-opacity="0.85"/>
<circle cx="460.4" cy="305.6" r="1.25" fill="#a31a1e" fill-opacity="0.85"/>
<circle cx="457.7" cy="298.0" r="1.25" fill="#a31a1e" fill-opacity="0.85"/>
<circle cx="447.6" cy="303.9" r="1.25" fill="#a31a1e" fill-opacity="0.85"/>
<circle cx="454.8" cy="301.6" r="1.25" fill="#a31a1e" fill-opacity="0.85"/>
<circle cx="449.2" cy="299.6" r="1.25" fill="#a31a1e" fill-opacity="0.85"/>
<circle cx="447.5" cy="289.1" r="1.25" fill="#a31a1e" fill-opacity="0.85"/>
<circle cx="446.7" cy="299.7" r="1.25" fill="#a31a1e" fill-opacity="0.85"/>
<circle cx="462.2" cy="304.8" r="1.25" fill="#a31a1e" fill-opacity="0.85"/>
<circle cx="451.1" cy="304.8" r="1.25" fill="#a31a1e" fill-opacity="0.85"/>
<circle cx="465.5" cy="305.4" r="1.25" fill="#a31a1e" fill-opacity="0.85"/>
<circle cx="457.9" cy="298.9" r="1.25" fill="#a31a1e" fill-opacity="0.85"/>
<circle cx="456.1" cy="300.4" r="1.25" fill="#a31a1e" fill-opacity="0.85"/>
<circle cx="458.7" cy="301.4" r="1.25" fill="#a31a1e" fill-opacity="0.85"/>
<circle cx="459.3" cy="305.8" r="1.25" fill="#a31a1e" fill-opacity="0.85"/>
<circle cx="450.1" cy="305.3" r="1.25" fill="#a31a1e" fill-opacity="0.85"/>
<circle cx="421.7" cy="275.5" r="1.25" fill="#3575c0" fill-opacity="0.85"/>
<circle cx="416.9" cy="278.5" r="1.25" fill="#3575c0" fill-opacity="0.85"/>
<circle cx="420.7" cy="280.0" r="1.25" fill="#3575c0" fill-opacity="0.85"/>
<circle cx="406.2" cy="285.9" r="1.25" fill="#3575c0" fill-opacity="0.85"/>
<circle cx="412.0" cy="284.4" r="1.25" fill="#3575c0" fill-opacity="0.85"/>
<circle cx="401.4" cy="293.4" r="1.25" fill="#3575c0" fill-opacity="0.85"/>
<circle cx="393.7" cy="300.8" r="1.25" fill="#3575c0" fill-opacity="0.85"/>
<circle cx="390.8" cy="303.8" r="1.25" fill="#3575c0" fill-opacity="0.85"/>
<circle cx="415.9" cy="286.7" r="1.25" fill="#3575c0" fill-opacity="0.85"/>
<circle cx="409.1" cy="290.4" r="1.25" fill="#3575c0" fill-opacity="0.85"/>
<circle cx="414.0" cy="282.2" r="1.25" fill="#3575c0" fill-opacity="0.85"/>
<circle cx="463.2" cy="262.8" r="1.25" fill="#a31a1e" fill-opacity="0.85"/>
<circle cx="453.5" cy="272.5" r="1.25" fill="#a31a1e" fill-opacity="0.85"/>
<circle cx="459.3" cy="274.8" r="1.25" fill="#a31a1e" fill-opacity="0.85"/>
<circle cx="449.7" cy="277.0" r="1.25" fill="#a31a1e" fill-opacity="0.85"/>
<circle cx="462.2" cy="285.9" r="1.25" fill="#a31a1e" fill-opacity="0.85"/>
<circle cx="467.0" cy="299.4" r="1.25" fill="#a31a1e" fill-opacity="0.85"/>
<circle cx="455.5" cy="284.4" r="1.25" fill="#a31a1e" fill-opacity="0.85"/>
<circle cx="451.6" cy="282.2" r="1.25" fill="#a31a1e" fill-opacity="0.85"/>
<circle cx="446.8" cy="278.5" r="1.25" fill="#a31a1e" fill-opacity="0.85"/>
<circle cx="464.1" cy="291.9" r="1.25" fill="#a31a1e" fill-opacity="0.85"/>
<line x1="425.55" y1="244.00" x2="425.55" y2="307.50" stroke="#acacac" stroke-width="1.1" stroke-dasharray="5,2.8"/>
<line x1="444.85" y1="244.00" x2="444.85" y2="307.50" stroke="#acacac" stroke-width="1.1" stroke-dasharray="5,2.8"/>
<line x1="378.30" y1="305.83" x2="496.00" y2="305.83" stroke="#acacac" stroke-width="1.1" stroke-dasharray="5,2.8"/>
<line x1="377.30" y1="244.80" x2="377.30" y2="310.50" stroke="#333333" stroke-width="1.1"/>
<line x1="376.80" y1="310.00" x2="495.03" y2="310.00" stroke="#333333" stroke-width="1.1"/>
<line x1="374.70" y1="306.80" x2="377.30" y2="306.80" stroke="#333333" stroke-width="1.0"/>
<text x="370.70" y="309.72" font-size="8.5" text-anchor="end" fill="#2b2b2b">0</text>
<line x1="374.70" y1="291.90" x2="377.30" y2="291.90" stroke="#333333" stroke-width="1.0"/>
<text x="370.70" y="294.82" font-size="8.5" text-anchor="end" fill="#2b2b2b">20</text>
<line x1="374.70" y1="277.00" x2="377.30" y2="277.00" stroke="#333333" stroke-width="1.0"/>
<text x="370.70" y="279.92" font-size="8.5" text-anchor="end" fill="#2b2b2b">40</text>
<line x1="374.70" y1="262.10" x2="377.30" y2="262.10" stroke="#333333" stroke-width="1.0"/>
<text x="370.70" y="265.02" font-size="8.5" text-anchor="end" fill="#2b2b2b">60</text>
<line x1="374.70" y1="247.20" x2="377.30" y2="247.20" stroke="#333333" stroke-width="1.0"/>
<text x="370.70" y="250.12" font-size="8.5" text-anchor="end" fill="#2b2b2b">80</text>
<line x1="377.30" y1="310.00" x2="377.30" y2="312.70" stroke="#333333" stroke-width="1.0"/>
<text x="377.30" y="322.92" font-size="8.5" text-anchor="middle" fill="#2b2b2b">&#8211;6</text>
<line x1="406.25" y1="310.00" x2="406.25" y2="312.70" stroke="#333333" stroke-width="1.0"/>
<text x="406.25" y="322.92" font-size="8.5" text-anchor="middle" fill="#2b2b2b">&#8211;3</text>
<line x1="435.20" y1="310.00" x2="435.20" y2="312.70" stroke="#333333" stroke-width="1.0"/>
<text x="435.20" y="322.92" font-size="8.5" text-anchor="middle" fill="#2b2b2b">0</text>
<line x1="464.15" y1="310.00" x2="464.15" y2="312.70" stroke="#333333" stroke-width="1.0"/>
<text x="464.15" y="322.92" font-size="8.5" text-anchor="middle" fill="#2b2b2b">3</text>
<line x1="493.10" y1="310.00" x2="493.10" y2="312.70" stroke="#333333" stroke-width="1.0"/>
<text x="493.10" y="322.92" font-size="8.5" text-anchor="middle" fill="#2b2b2b">6</text>
<text x="436.50" y="336.7" font-size="9.8" text-anchor="middle" fill="#2b2b2b" style="stroke-width:0.22px" textLength="56.3" lengthAdjust="spacingAndGlyphs">log<tspan font-size="6.2" dy="2.2">2</tspan><tspan dy="-2.2">FoldChange</tspan></text>
<g transform="translate(353.00,277.0) rotate(-90)"><text x="0" y="3.3" font-size="9.6" text-anchor="middle" fill="#2b2b2b" style="stroke-width:0.22px" textLength="52" lengthAdjust="spacingAndGlyphs">-log<tspan font-size="6.2" dy="2.2">10</tspan><tspan dy="-2.2"> (</tspan><tspan font-style="italic">P</tspan>value)</text></g>
<rect x="119.5" y="392.5" width="108.5" height="143.3" fill="none" stroke="#222" stroke-width="1.1"/>
<line x1="116.80" y1="406.30" x2="119.50" y2="406.30" stroke="#333333" stroke-width="1.0"/>
<text x="113.10" y="409.09" font-size="8.1" text-anchor="end" fill="#2b2b2b" textLength="57.6" lengthAdjust="spacingAndGlyphs">P53_DN.V2_UP</text>
<circle cx="139.30" cy="406.30" r="3.50" fill="#f0718c" stroke="#000" stroke-opacity="0.12" stroke-width="0.5"/>
<circle cx="173.80" cy="406.30" r="9.50" fill="#f0718c" stroke="#000" stroke-opacity="0.12" stroke-width="0.5"/>
<circle cx="208.00" cy="406.30" r="2.50" fill="#f0718c" stroke="#000" stroke-opacity="0.12" stroke-width="0.5"/>
<line x1="116.80" y1="429.50" x2="119.50" y2="429.50" stroke="#333333" stroke-width="1.0"/>
<text x="113.10" y="432.29" font-size="8.1" text-anchor="end" fill="#2b2b2b" textLength="95.9" lengthAdjust="spacingAndGlyphs">KRAS.BREAST_UP.V1_DN</text>
<circle cx="139.30" cy="429.50" r="4.00" fill="#f0718c" stroke="#000" stroke-opacity="0.12" stroke-width="0.5"/>
<circle cx="173.80" cy="429.50" r="8.00" fill="#f0718c" stroke="#000" stroke-opacity="0.12" stroke-width="0.5"/>
<circle cx="208.00" cy="429.50" r="3.20" fill="#f0718c" stroke="#000" stroke-opacity="0.12" stroke-width="0.5"/>
<line x1="116.80" y1="452.50" x2="119.50" y2="452.50" stroke="#333333" stroke-width="1.0"/>
<text x="113.10" y="455.29" font-size="8.1" text-anchor="end" fill="#2b2b2b" textLength="71.1" lengthAdjust="spacingAndGlyphs">MEL18_DN.V1_DN</text>
<circle cx="139.30" cy="452.50" r="2.70" fill="#9562aa" stroke="#000" stroke-opacity="0.12" stroke-width="0.5"/>
<circle cx="173.80" cy="452.50" r="8.20" fill="#f0718c" stroke="#000" stroke-opacity="0.12" stroke-width="0.5"/>
<circle cx="208.00" cy="452.50" r="4.00" fill="#f0718c" stroke="#000" stroke-opacity="0.12" stroke-width="0.5"/>
<line x1="116.80" y1="475.70" x2="119.50" y2="475.70" stroke="#333333" stroke-width="1.0"/>
<text x="113.10" y="478.49" font-size="8.1" text-anchor="end" fill="#2b2b2b" textLength="60.3" lengthAdjust="spacingAndGlyphs">KRAS.DF.V1_UP</text>
<circle cx="139.30" cy="475.70" r="2.00" fill="#9562aa" stroke="#000" stroke-opacity="0.12" stroke-width="0.5"/>
<circle cx="173.80" cy="475.70" r="8.20" fill="#f0718c" stroke="#000" stroke-opacity="0.12" stroke-width="0.5"/>
<circle cx="208.00" cy="475.70" r="1.70" fill="#c06a9c" stroke="#000" stroke-opacity="0.12" stroke-width="0.5"/>
<line x1="116.80" y1="499.00" x2="119.50" y2="499.00" stroke="#333333" stroke-width="1.0"/>
<text x="113.10" y="501.79" font-size="8.1" text-anchor="end" fill="#2b2b2b" textLength="79.2" lengthAdjust="spacingAndGlyphs">KRAS.600_UP.V1_DN</text>
<circle cx="139.30" cy="499.00" r="3.50" fill="#9562aa" stroke="#000" stroke-opacity="0.12" stroke-width="0.5"/>
<circle cx="173.80" cy="499.00" r="7.50" fill="#f0718c" stroke="#000" stroke-opacity="0.12" stroke-width="0.5"/>
<circle cx="208.00" cy="499.00" r="3.70" fill="#f0718c" stroke="#000" stroke-opacity="0.12" stroke-width="0.5"/>
<line x1="116.80" y1="522.50" x2="119.50" y2="522.50" stroke="#333333" stroke-width="1.0"/>
<text x="113.10" y="525.29" font-size="8.1" text-anchor="end" fill="#2b2b2b" textLength="35.0" lengthAdjust="spacingAndGlyphs">YAP1_UP</text>
<circle cx="139.30" cy="522.50" r="6.50" fill="#f0718c" stroke="#000" stroke-opacity="0.12" stroke-width="0.5"/>
<circle cx="173.80" cy="522.50" r="8.00" fill="#9466bd" stroke="#000" stroke-opacity="0.12" stroke-width="0.5"/>
<circle cx="208.00" cy="522.50" r="0.90" fill="#dddddd"/>
<line x1="139.30" y1="535.80" x2="139.30" y2="538.60" stroke="#333333" stroke-width="1.0"/>
<g transform="translate(139.60,578.80) rotate(-90)"><text x="0" y="2.9" font-size="8.4" text-anchor="middle" fill="#2b2b2b" textLength="67.6" lengthAdjust="spacingAndGlyphs">NOTCH2 (S2156A)</text></g>
<line x1="173.80" y1="535.80" x2="173.80" y2="538.60" stroke="#333333" stroke-width="1.0"/>
<g transform="translate(174.10,578.80) rotate(-90)"><text x="0" y="2.9" font-size="8.4" text-anchor="middle" fill="#2b2b2b" textLength="67.6" lengthAdjust="spacingAndGlyphs">NOTCH2 (Q2140*)</text></g>
<line x1="208.00" y1="535.80" x2="208.00" y2="538.60" stroke="#333333" stroke-width="1.0"/>
<g transform="translate(208.30,578.80) rotate(-90)"><text x="0" y="2.9" font-size="8.4" text-anchor="middle" fill="#2b2b2b" textLength="67.6" lengthAdjust="spacingAndGlyphs">NOTCH2 (R2400*)</text></g>
<text x="247.60" y="398.75" font-size="8.0" text-anchor="middle" fill="#2b2b2b">NES</text>
<defs><linearGradient id="nes" x1="0" y1="0" x2="0" y2="1"><stop offset="0" stop-color="#f0102e"/><stop offset="0.25" stop-color="#dc106a"/><stop offset="0.5" stop-color="#c0118c"/><stop offset="0.72" stop-color="#a01092"/><stop offset="0.8" stop-color="#6a2aa0"/><stop offset="1" stop-color="#4a2a9c"/></linearGradient><linearGradient id="zs" x1="0" y1="0" x2="0" y2="1"><stop offset="0" stop-color="#c41a30"/><stop offset="0.1667" stop-color="#dc5a4e"/><stop offset="0.3333" stop-color="#f4a582"/><stop offset="0.5" stop-color="#f7f7f7"/><stop offset="0.6667" stop-color="#92c5de"/><stop offset="0.8333" stop-color="#4393c3"/><stop offset="1" stop-color="#2166ac"/></linearGradient></defs>
<rect x="244.0" y="402.9" width="7.9" height="37.7" fill="url(#nes)"/>
<text x="253.30" y="404.82" font-size="8.2" text-anchor="start" fill="#2b2b2b">2</text>
<text x="253.30" y="414.32" font-size="8.2" text-anchor="start" fill="#2b2b2b">1</text>
<text x="253.30" y="424.22" font-size="8.2" text-anchor="start" fill="#2b2b2b">0</text>
<text x="253.30" y="433.72" font-size="8.2" text-anchor="start" fill="#2b2b2b">&#8211;1</text>
<text x="253.30" y="443.42" font-size="8.2" text-anchor="start" fill="#2b2b2b">&#8211;2</text>
<text x="247.6" y="454.10" font-size="7.6" text-anchor="middle" fill="#2b2b2b">&#8211;log<tspan font-size="5.3" dy="2">10</tspan></text>
<text x="247.6" y="462.90" font-size="7.6" text-anchor="middle" fill="#2b2b2b">(<tspan font-style="italic">P</tspan>value)</text>
<circle cx="248.90" cy="469.50" r="4.60" fill="#6e6e6e"/>
<text x="262.30" y="472.11" font-size="7.6" text-anchor="start" fill="#2b2b2b">0.5</text>
<circle cx="248.90" cy="483.40" r="6.50" fill="#6e6e6e"/>
<text x="262.30" y="486.01" font-size="7.6" text-anchor="start" fill="#2b2b2b">1.0</text>
<circle cx="248.90" cy="500.80" r="7.70" fill="#6e6e6e"/>
<text x="262.30" y="503.41" font-size="7.6" text-anchor="start" fill="#2b2b2b">1.5</text>
<circle cx="248.90" cy="521.50" r="8.90" fill="#6e6e6e"/>
<text x="262.30" y="524.11" font-size="7.6" text-anchor="start" fill="#2b2b2b">2.0</text>
<circle cx="248.90" cy="545.00" r="9.90" fill="#6e6e6e"/>
<text x="262.30" y="547.61" font-size="7.6" text-anchor="start" fill="#2b2b2b">2.5</text>
<text x="374.70" y="367.25" font-size="8" text-anchor="middle" fill="#2b2b2b" textLength="33.5" lengthAdjust="spacingAndGlyphs">NOTCH2</text>
<line x1="316.20" y1="370.50" x2="433.00" y2="370.50" stroke="#222" stroke-width="1.0"/>
<text x="330.60" y="380.55" font-size="8" text-anchor="middle" fill="#2b2b2b" textLength="12.8" lengthAdjust="spacingAndGlyphs">WT</text>
<line x1="317.70" y1="383.50" x2="343.10" y2="383.50" stroke="#222" stroke-width="1.0"/>
<text x="359.80" y="380.55" font-size="8" text-anchor="middle" fill="#2b2b2b" textLength="26.5" lengthAdjust="spacingAndGlyphs">S2156A</text>
<line x1="347.40" y1="383.50" x2="372.30" y2="383.50" stroke="#222" stroke-width="1.0"/>
<text x="388.80" y="380.55" font-size="8" text-anchor="middle" fill="#2b2b2b" textLength="26.5" lengthAdjust="spacingAndGlyphs">R2400*</text>
<line x1="376.00" y1="383.50" x2="401.50" y2="383.50" stroke="#222" stroke-width="1.0"/>
<text x="418.30" y="380.55" font-size="8" text-anchor="middle" fill="#2b2b2b" textLength="26.5" lengthAdjust="spacingAndGlyphs">Q2140*</text>
<line x1="405.80" y1="383.50" x2="430.80" y2="383.50" stroke="#222" stroke-width="1.0"/>
<text x="320.50" y="392.21" font-size="7.6" text-anchor="middle" fill="#2b2b2b">1</text>
<text x="330.30" y="392.21" font-size="7.6" text-anchor="middle" fill="#2b2b2b">2</text>
<text x="340.10" y="392.21" font-size="7.6" text-anchor="middle" fill="#2b2b2b">3</text>
<text x="349.90" y="392.21" font-size="7.6" text-anchor="middle" fill="#2b2b2b">1</text>
<text x="359.70" y="392.21" font-size="7.6" text-anchor="middle" fill="#2b2b2b">2</text>
<text x="369.50" y="392.21" font-size="7.6" text-anchor="middle" fill="#2b2b2b">3</text>
<text x="379.30" y="392.21" font-size="7.6" text-anchor="middle" fill="#2b2b2b">1</text>
<text x="389.10" y="392.21" font-size="7.6" text-anchor="middle" fill="#2b2b2b">2</text>
<text x="398.90" y="392.21" font-size="7.6" text-anchor="middle" fill="#2b2b2b">3</text>
<text x="408.70" y="392.21" font-size="7.6" text-anchor="middle" fill="#2b2b2b">1</text>
<text x="418.50" y="392.21" font-size="7.6" text-anchor="middle" fill="#2b2b2b">2</text>
<text x="428.30" y="392.21" font-size="7.6" text-anchor="middle" fill="#2b2b2b">3</text>
<rect x="315.40" y="395.10" width="9.85" height="4.12" fill="#ddebf3"/>
<rect x="325.20" y="395.10" width="9.85" height="4.12" fill="#ddebf3"/>
<rect x="335.00" y="395.10" width="9.85" height="4.12" fill="#a7cfe6"/>
<rect x="344.80" y="395.10" width="9.85" height="4.12" fill="#eef3f6"/>
<rect x="354.60" y="395.10" width="9.85" height="4.12" fill="#eef3f6"/>
<rect x="364.40" y="395.10" width="9.85" height="4.12" fill="#b0d4e8"/>
<rect x="374.20" y="395.10" width="9.85" height="4.12" fill="#d74c42"/>
<rect x="384.00" y="395.10" width="9.85" height="4.12" fill="#fac9b0"/>
<rect x="393.80" y="395.10" width="9.85" height="4.12" fill="#f7f7f7"/>
<rect x="403.60" y="395.10" width="9.85" height="4.12" fill="#9ecae3"/>
<rect x="413.40" y="395.10" width="9.85" height="4.12" fill="#f7f7f7"/>
<rect x="423.20" y="395.10" width="9.85" height="4.12" fill="#fac9b0"/>
<rect x="315.40" y="399.17" width="9.85" height="4.12" fill="#9ecae3"/>
<rect x="325.20" y="399.17" width="9.85" height="4.12" fill="#9ecae3"/>
<rect x="335.00" y="399.17" width="9.85" height="4.12" fill="#9ecae3"/>
<rect x="344.80" y="399.17" width="9.85" height="4.12" fill="#ddebf3"/>
<rect x="354.60" y="399.17" width="9.85" height="4.12" fill="#ddebf3"/>
<rect x="364.40" y="399.17" width="9.85" height="4.12" fill="#cbe2f0"/>
<rect x="374.20" y="399.17" width="9.85" height="4.12" fill="#fddbc7"/>
<rect x="384.00" y="399.17" width="9.85" height="4.12" fill="#fae9df"/>
<rect x="393.80" y="399.17" width="9.85" height="4.12" fill="#f8f0eb"/>
<rect x="403.60" y="399.17" width="9.85" height="4.12" fill="#e6eff4"/>
<rect x="413.40" y="399.17" width="9.85" height="4.12" fill="#e6eff4"/>
<rect x="423.20" y="399.17" width="9.85" height="4.12" fill="#e88065"/>
<rect x="315.40" y="403.23" width="9.85" height="4.12" fill="#e6eff4"/>
<rect x="325.20" y="403.23" width="9.85" height="4.12" fill="#ddebf3"/>
<rect x="335.00" y="403.23" width="9.85" height="4.12" fill="#e6eff4"/>
<rect x="344.80" y="403.23" width="9.85" height="4.12" fill="#d4e7f2"/>
<rect x="354.60" y="403.23" width="9.85" height="4.12" fill="#fce2d3"/>
<rect x="364.40" y="403.23" width="9.85" height="4.12" fill="#d4e7f2"/>
<rect x="374.20" y="403.23" width="9.85" height="4.12" fill="#fce2d3"/>
<rect x="384.00" y="403.23" width="9.85" height="4.12" fill="#c2dded"/>
<rect x="393.80" y="403.23" width="9.85" height="4.12" fill="#dc5a48"/>
<rect x="403.60" y="403.23" width="9.85" height="4.12" fill="#ddebf3"/>
<rect x="413.40" y="403.23" width="9.85" height="4.12" fill="#d4e7f2"/>
<rect x="423.20" y="403.23" width="9.85" height="4.12" fill="#e6785f"/>
<rect x="315.40" y="407.30" width="9.85" height="4.12" fill="#fddbc7"/>
<rect x="325.20" y="407.30" width="9.85" height="4.12" fill="#a7cfe6"/>
<rect x="335.00" y="407.30" width="9.85" height="4.12" fill="#fce2d3"/>
<rect x="344.80" y="407.30" width="9.85" height="4.12" fill="#d4e7f2"/>
<rect x="354.60" y="407.30" width="9.85" height="4.12" fill="#ddebf3"/>
<rect x="364.40" y="407.30" width="9.85" height="4.12" fill="#ddebf3"/>
<rect x="374.20" y="407.30" width="9.85" height="4.12" fill="#cbe2f0"/>
<rect x="384.00" y="407.30" width="9.85" height="4.12" fill="#9ecae3"/>
<rect x="393.80" y="407.30" width="9.85" height="4.12" fill="#f7f7f7"/>
<rect x="403.60" y="407.30" width="9.85" height="4.12" fill="#fce2d3"/>
<rect x="413.40" y="407.30" width="9.85" height="4.12" fill="#e16954"/>
<rect x="423.20" y="407.30" width="9.85" height="4.12" fill="#e6785f"/>
<rect x="315.40" y="411.37" width="9.85" height="4.12" fill="#f4a582"/>
<rect x="325.20" y="411.37" width="9.85" height="4.12" fill="#d4e7f2"/>
<rect x="335.00" y="411.37" width="9.85" height="4.12" fill="#fac9b0"/>
<rect x="344.80" y="411.37" width="9.85" height="4.12" fill="#d4e7f2"/>
<rect x="354.60" y="411.37" width="9.85" height="4.12" fill="#cbe2f0"/>
<rect x="364.40" y="411.37" width="9.85" height="4.12" fill="#cbe2f0"/>
<rect x="374.20" y="411.37" width="9.85" height="4.12" fill="#cbe2f0"/>
<rect x="384.00" y="411.37" width="9.85" height="4.12" fill="#a7cfe6"/>
<rect x="393.80" y="411.37" width="9.85" height="4.12" fill="#ddebf3"/>
<rect x="403.60" y="411.37" width="9.85" height="4.12" fill="#f4a582"/>
<rect x="413.40" y="411.37" width="9.85" height="4.12" fill="#fce2d3"/>
<rect x="423.20" y="411.37" width="9.85" height="4.12" fill="#dc5a48"/>
<rect x="315.40" y="415.43" width="9.85" height="4.12" fill="#fae9df"/>
<rect x="325.20" y="415.43" width="9.85" height="4.12" fill="#ddebf3"/>
<rect x="335.00" y="415.43" width="9.85" height="4.12" fill="#fce2d3"/>
<rect x="344.80" y="415.43" width="9.85" height="4.12" fill="#b0d4e8"/>
<rect x="354.60" y="415.43" width="9.85" height="4.12" fill="#b0d4e8"/>
<rect x="364.40" y="415.43" width="9.85" height="4.12" fill="#c2dded"/>
<rect x="374.20" y="415.43" width="9.85" height="4.12" fill="#e6eff4"/>
<rect x="384.00" y="415.43" width="9.85" height="4.12" fill="#a7cfe6"/>
<rect x="393.80" y="415.43" width="9.85" height="4.12" fill="#d4e7f2"/>
<rect x="403.60" y="415.43" width="9.85" height="4.12" fill="#ef9676"/>
<rect x="413.40" y="415.43" width="9.85" height="4.12" fill="#f7b799"/>
<rect x="423.20" y="415.43" width="9.85" height="4.12" fill="#e88065"/>
<rect x="315.40" y="419.50" width="9.85" height="4.12" fill="#f8f0eb"/>
<rect x="325.20" y="419.50" width="9.85" height="4.12" fill="#e6eff4"/>
<rect x="335.00" y="419.50" width="9.85" height="4.12" fill="#c2dded"/>
<rect x="344.80" y="419.50" width="9.85" height="4.12" fill="#a7cfe6"/>
<rect x="354.60" y="419.50" width="9.85" height="4.12" fill="#cbe2f0"/>
<rect x="364.40" y="419.50" width="9.85" height="4.12" fill="#b0d4e8"/>
<rect x="374.20" y="419.50" width="9.85" height="4.12" fill="#f8f0eb"/>
<rect x="384.00" y="419.50" width="9.85" height="4.12" fill="#b9d8ea"/>
<rect x="393.80" y="419.50" width="9.85" height="4.12" fill="#ddebf3"/>
<rect x="403.60" y="419.50" width="9.85" height="4.12" fill="#ed8e71"/>
<rect x="413.40" y="419.50" width="9.85" height="4.12" fill="#f7b799"/>
<rect x="423.20" y="419.50" width="9.85" height="4.12" fill="#e16954"/>
<rect x="315.40" y="423.57" width="9.85" height="4.12" fill="#eef3f6"/>
<rect x="325.20" y="423.57" width="9.85" height="4.12" fill="#a7cfe6"/>
<rect x="335.00" y="423.57" width="9.85" height="4.12" fill="#b0d4e8"/>
<rect x="344.80" y="423.57" width="9.85" height="4.12" fill="#e6eff4"/>
<rect x="354.60" y="423.57" width="9.85" height="4.12" fill="#fce2d3"/>
<rect x="364.40" y="423.57" width="9.85" height="4.12" fill="#b9d8ea"/>
<rect x="374.20" y="423.57" width="9.85" height="4.12" fill="#fce2d3"/>
<rect x="384.00" y="423.57" width="9.85" height="4.12" fill="#9ecae3"/>
<rect x="393.80" y="423.57" width="9.85" height="4.12" fill="#f7f7f7"/>
<rect x="403.60" y="423.57" width="9.85" height="4.12" fill="#e6785f"/>
<rect x="413.40" y="423.57" width="9.85" height="4.12" fill="#fce2d3"/>
<rect x="423.20" y="423.57" width="9.85" height="4.12" fill="#de624e"/>
<rect x="315.40" y="427.63" width="9.85" height="4.12" fill="#d4e7f2"/>
<rect x="325.20" y="427.63" width="9.85" height="4.12" fill="#ddebf3"/>
<rect x="335.00" y="427.63" width="9.85" height="4.12" fill="#b0d4e8"/>
<rect x="344.80" y="427.63" width="9.85" height="4.12" fill="#ddebf3"/>
<rect x="354.60" y="427.63" width="9.85" height="4.12" fill="#ddebf3"/>
<rect x="364.40" y="427.63" width="9.85" height="4.12" fill="#cbe2f0"/>
<rect x="374.20" y="427.63" width="9.85" height="4.12" fill="#f4a582"/>
<rect x="384.00" y="427.63" width="9.85" height="4.12" fill="#ddebf3"/>
<rect x="393.80" y="427.63" width="9.85" height="4.12" fill="#f7f7f7"/>
<rect x="403.60" y="427.63" width="9.85" height="4.12" fill="#ed8e71"/>
<rect x="413.40" y="427.63" width="9.85" height="4.12" fill="#f8c0a4"/>
<rect x="423.20" y="427.63" width="9.85" height="4.12" fill="#e37059"/>
<rect x="315.40" y="431.70" width="9.85" height="4.12" fill="#c2dded"/>
<rect x="325.20" y="431.70" width="9.85" height="4.12" fill="#c2dded"/>
<rect x="335.00" y="431.70" width="9.85" height="4.12" fill="#c2dded"/>
<rect x="344.80" y="431.70" width="9.85" height="4.12" fill="#d4e7f2"/>
<rect x="354.60" y="431.70" width="9.85" height="4.12" fill="#c2dded"/>
<rect x="364.40" y="431.70" width="9.85" height="4.12" fill="#cbe2f0"/>
<rect x="374.20" y="431.70" width="9.85" height="4.12" fill="#fae9df"/>
<rect x="384.00" y="431.70" width="9.85" height="4.12" fill="#cbe2f0"/>
<rect x="393.80" y="431.70" width="9.85" height="4.12" fill="#eef3f6"/>
<rect x="403.60" y="431.70" width="9.85" height="4.12" fill="#ea876b"/>
<rect x="413.40" y="431.70" width="9.85" height="4.12" fill="#ef9676"/>
<rect x="423.20" y="431.70" width="9.85" height="4.12" fill="#e16954"/>
<rect x="315.40" y="435.77" width="9.85" height="4.12" fill="#cbe2f0"/>
<rect x="325.20" y="435.77" width="9.85" height="4.12" fill="#cbe2f0"/>
<rect x="335.00" y="435.77" width="9.85" height="4.12" fill="#b0d4e8"/>
<rect x="344.80" y="435.77" width="9.85" height="4.12" fill="#cbe2f0"/>
<rect x="354.60" y="435.77" width="9.85" height="4.12" fill="#e6eff4"/>
<rect x="364.40" y="435.77" width="9.85" height="4.12" fill="#c2dded"/>
<rect x="374.20" y="435.77" width="9.85" height="4.12" fill="#fac9b0"/>
<rect x="384.00" y="435.77" width="9.85" height="4.12" fill="#e6eff4"/>
<rect x="393.80" y="435.77" width="9.85" height="4.12" fill="#cbe2f0"/>
<rect x="403.60" y="435.77" width="9.85" height="4.12" fill="#f7b799"/>
<rect x="413.40" y="435.77" width="9.85" height="4.12" fill="#f6ae8e"/>
<rect x="423.20" y="435.77" width="9.85" height="4.12" fill="#ed8e71"/>
<rect x="315.40" y="439.83" width="9.85" height="4.12" fill="#fddbc7"/>
<rect x="325.20" y="439.83" width="9.85" height="4.12" fill="#d4e7f2"/>
<rect x="335.00" y="439.83" width="9.85" height="4.12" fill="#d4e7f2"/>
<rect x="344.80" y="439.83" width="9.85" height="4.12" fill="#d4e7f2"/>
<rect x="354.60" y="439.83" width="9.85" height="4.12" fill="#d4e7f2"/>
<rect x="364.40" y="439.83" width="9.85" height="4.12" fill="#ddebf3"/>
<rect x="374.20" y="439.83" width="9.85" height="4.12" fill="#ed8e71"/>
<rect x="384.00" y="439.83" width="9.85" height="4.12" fill="#e6eff4"/>
<rect x="393.80" y="439.83" width="9.85" height="4.12" fill="#ddebf3"/>
<rect x="403.60" y="439.83" width="9.85" height="4.12" fill="#e16954"/>
<rect x="413.40" y="439.83" width="9.85" height="4.12" fill="#e6eff4"/>
<rect x="423.20" y="439.83" width="9.85" height="4.12" fill="#ddebf3"/>
<rect x="315.40" y="443.90" width="9.85" height="4.12" fill="#d4e7f2"/>
<rect x="325.20" y="443.90" width="9.85" height="4.12" fill="#d4e7f2"/>
<rect x="335.00" y="443.90" width="9.85" height="4.12" fill="#cbe2f0"/>
<rect x="344.80" y="443.90" width="9.85" height="4.12" fill="#d4e7f2"/>
<rect x="354.60" y="443.90" width="9.85" height="4.12" fill="#d4e7f2"/>
<rect x="364.40" y="443.90" width="9.85" height="4.12" fill="#e6eff4"/>
<rect x="374.20" y="443.90" width="9.85" height="4.12" fill="#ddebf3"/>
<rect x="384.00" y="443.90" width="9.85" height="4.12" fill="#ddebf3"/>
<rect x="393.80" y="443.90" width="9.85" height="4.12" fill="#ddebf3"/>
<rect x="403.60" y="443.90" width="9.85" height="4.12" fill="#c41228"/>
<rect x="413.40" y="443.90" width="9.85" height="4.12" fill="#e6eff4"/>
<rect x="423.20" y="443.90" width="9.85" height="4.12" fill="#d4e7f2"/>
<rect x="315.40" y="447.97" width="9.85" height="4.12" fill="#d4e7f2"/>
<rect x="325.20" y="447.97" width="9.85" height="4.12" fill="#d4e7f2"/>
<rect x="335.00" y="447.97" width="9.85" height="4.12" fill="#d4e7f2"/>
<rect x="344.80" y="447.97" width="9.85" height="4.12" fill="#d4e7f2"/>
<rect x="354.60" y="447.97" width="9.85" height="4.12" fill="#d4e7f2"/>
<rect x="364.40" y="447.97" width="9.85" height="4.12" fill="#e6eff4"/>
<rect x="374.20" y="447.97" width="9.85" height="4.12" fill="#ddebf3"/>
<rect x="384.00" y="447.97" width="9.85" height="4.12" fill="#ddebf3"/>
<rect x="393.80" y="447.97" width="9.85" height="4.12" fill="#ddebf3"/>
<rect x="403.60" y="447.97" width="9.85" height="4.12" fill="#c41228"/>
<rect x="413.40" y="447.97" width="9.85" height="4.12" fill="#ddebf3"/>
<rect x="423.20" y="447.97" width="9.85" height="4.12" fill="#d4e7f2"/>
<rect x="315.40" y="452.03" width="9.85" height="4.12" fill="#d4e7f2"/>
<rect x="325.20" y="452.03" width="9.85" height="4.12" fill="#d4e7f2"/>
<rect x="335.00" y="452.03" width="9.85" height="4.12" fill="#9ecae3"/>
<rect x="344.80" y="452.03" width="9.85" height="4.12" fill="#9ecae3"/>
<rect x="354.60" y="452.03" width="9.85" height="4.12" fill="#f4a582"/>
<rect x="364.40" y="452.03" width="9.85" height="4.12" fill="#9ecae3"/>
<rect x="374.20" y="452.03" width="9.85" height="4.12" fill="#ddebf3"/>
<rect x="384.00" y="452.03" width="9.85" height="4.12" fill="#fddbc7"/>
<rect x="393.80" y="452.03" width="9.85" height="4.12" fill="#fddbc7"/>
<rect x="403.60" y="452.03" width="9.85" height="4.12" fill="#f4a582"/>
<rect x="413.40" y="452.03" width="9.85" height="4.12" fill="#ef9676"/>
<rect x="423.20" y="452.03" width="9.85" height="4.12" fill="#ddebf3"/>
<rect x="315.40" y="456.10" width="9.85" height="4.12" fill="#9ecae3"/>
<rect x="325.20" y="456.10" width="9.85" height="4.12" fill="#f7f7f7"/>
<rect x="335.00" y="456.10" width="9.85" height="4.12" fill="#fce2d3"/>
<rect x="344.80" y="456.10" width="9.85" height="4.12" fill="#fae9df"/>
<rect x="354.60" y="456.10" width="9.85" height="4.12" fill="#b0d4e8"/>
<rect x="364.40" y="456.10" width="9.85" height="4.12" fill="#a7cfe6"/>
<rect x="374.20" y="456.10" width="9.85" height="4.12" fill="#fac9b0"/>
<rect x="384.00" y="456.10" width="9.85" height="4.12" fill="#ddebf3"/>
<rect x="393.80" y="456.10" width="9.85" height="4.12" fill="#f7f7f7"/>
<rect x="403.60" y="456.10" width="9.85" height="4.12" fill="#ef9676"/>
<rect x="413.40" y="456.10" width="9.85" height="4.12" fill="#dc5a48"/>
<rect x="423.20" y="456.10" width="9.85" height="4.12" fill="#fddbc7"/>
<rect x="315.40" y="460.17" width="9.85" height="4.12" fill="#a7cfe6"/>
<rect x="325.20" y="460.17" width="9.85" height="4.12" fill="#eef3f6"/>
<rect x="335.00" y="460.17" width="9.85" height="4.12" fill="#9ecae3"/>
<rect x="344.80" y="460.17" width="9.85" height="4.12" fill="#9ecae3"/>
<rect x="354.60" y="460.17" width="9.85" height="4.12" fill="#f7f7f7"/>
<rect x="364.40" y="460.17" width="9.85" height="4.12" fill="#a7cfe6"/>
<rect x="374.20" y="460.17" width="9.85" height="4.12" fill="#fcd2bc"/>
<rect x="384.00" y="460.17" width="9.85" height="4.12" fill="#9ecae3"/>
<rect x="393.80" y="460.17" width="9.85" height="4.12" fill="#f7f7f7"/>
<rect x="403.60" y="460.17" width="9.85" height="4.12" fill="#ed8e71"/>
<rect x="413.40" y="460.17" width="9.85" height="4.12" fill="#e16954"/>
<rect x="423.20" y="460.17" width="9.85" height="4.12" fill="#fddbc7"/>
<rect x="315.40" y="464.23" width="9.85" height="4.12" fill="#f7f7f7"/>
<rect x="325.20" y="464.23" width="9.85" height="4.12" fill="#eef3f6"/>
<rect x="335.00" y="464.23" width="9.85" height="4.12" fill="#eef3f6"/>
<rect x="344.80" y="464.23" width="9.85" height="4.12" fill="#b0d4e8"/>
<rect x="354.60" y="464.23" width="9.85" height="4.12" fill="#b0d4e8"/>
<rect x="364.40" y="464.23" width="9.85" height="4.12" fill="#b9d8ea"/>
<rect x="374.20" y="464.23" width="9.85" height="4.12" fill="#d4e7f2"/>
<rect x="384.00" y="464.23" width="9.85" height="4.12" fill="#c2dded"/>
<rect x="393.80" y="464.23" width="9.85" height="4.12" fill="#f7f7f7"/>
<rect x="403.60" y="464.23" width="9.85" height="4.12" fill="#ed8e71"/>
<rect x="413.40" y="464.23" width="9.85" height="4.12" fill="#d74c42"/>
<rect x="423.20" y="464.23" width="9.85" height="4.12" fill="#fcd2bc"/>
<rect x="315.40" y="468.30" width="9.85" height="4.12" fill="#e6eff4"/>
<rect x="325.20" y="468.30" width="9.85" height="4.12" fill="#e6eff4"/>
<rect x="335.00" y="468.30" width="9.85" height="4.12" fill="#ddebf3"/>
<rect x="344.80" y="468.30" width="9.85" height="4.12" fill="#c2dded"/>
<rect x="354.60" y="468.30" width="9.85" height="4.12" fill="#c2dded"/>
<rect x="364.40" y="468.30" width="9.85" height="4.12" fill="#cbe2f0"/>
<rect x="374.20" y="468.30" width="9.85" height="4.12" fill="#d4e7f2"/>
<rect x="384.00" y="468.30" width="9.85" height="4.12" fill="#d4e7f2"/>
<rect x="393.80" y="468.30" width="9.85" height="4.12" fill="#fae9df"/>
<rect x="403.60" y="468.30" width="9.85" height="4.12" fill="#e16954"/>
<rect x="413.40" y="468.30" width="9.85" height="4.12" fill="#dc5a48"/>
<rect x="423.20" y="468.30" width="9.85" height="4.12" fill="#fce2d3"/>
<rect x="315.40" y="472.37" width="9.85" height="4.12" fill="#b9d8ea"/>
<rect x="325.20" y="472.37" width="9.85" height="4.12" fill="#b9d8ea"/>
<rect x="335.00" y="472.37" width="9.85" height="4.12" fill="#cbe2f0"/>
<rect x="344.80" y="472.37" width="9.85" height="4.12" fill="#f7b799"/>
<rect x="354.60" y="472.37" width="9.85" height="4.12" fill="#c2dded"/>
<rect x="364.40" y="472.37" width="9.85" height="4.12" fill="#f4a582"/>
<rect x="374.20" y="472.37" width="9.85" height="4.12" fill="#fce2d3"/>
<rect x="384.00" y="472.37" width="9.85" height="4.12" fill="#fae9df"/>
<rect x="393.80" y="472.37" width="9.85" height="4.12" fill="#e88065"/>
<rect x="403.60" y="472.37" width="9.85" height="4.12" fill="#ddebf3"/>
<rect x="413.40" y="472.37" width="9.85" height="4.12" fill="#fce2d3"/>
<rect x="423.20" y="472.37" width="9.85" height="4.12" fill="#fae9df"/>
<rect x="315.40" y="476.43" width="9.85" height="4.12" fill="#cbe2f0"/>
<rect x="325.20" y="476.43" width="9.85" height="4.12" fill="#cbe2f0"/>
<rect x="335.00" y="476.43" width="9.85" height="4.12" fill="#cbe2f0"/>
<rect x="344.80" y="476.43" width="9.85" height="4.12" fill="#d4e7f2"/>
<rect x="354.60" y="476.43" width="9.85" height="4.12" fill="#cbe2f0"/>
<rect x="364.40" y="476.43" width="9.85" height="4.12" fill="#d4e7f2"/>
<rect x="374.20" y="476.43" width="9.85" height="4.12" fill="#ddebf3"/>
<rect x="384.00" y="476.43" width="9.85" height="4.12" fill="#e6eff4"/>
<rect x="393.80" y="476.43" width="9.85" height="4.12" fill="#dc5a48"/>
<rect x="403.60" y="476.43" width="9.85" height="4.12" fill="#eef3f6"/>
<rect x="413.40" y="476.43" width="9.85" height="4.12" fill="#e16954"/>
<rect x="423.20" y="476.43" width="9.85" height="4.12" fill="#e6eff4"/>
<rect x="315.40" y="480.50" width="9.85" height="4.12" fill="#ddebf3"/>
<rect x="325.20" y="480.50" width="9.85" height="4.12" fill="#ddebf3"/>
<rect x="335.00" y="480.50" width="9.85" height="4.12" fill="#fce2d3"/>
<rect x="344.80" y="480.50" width="9.85" height="4.12" fill="#e6eff4"/>
<rect x="354.60" y="480.50" width="9.85" height="4.12" fill="#ddebf3"/>
<rect x="364.40" y="480.50" width="9.85" height="4.12" fill="#ddebf3"/>
<rect x="374.20" y="480.50" width="9.85" height="4.12" fill="#fddbc7"/>
<rect x="384.00" y="480.50" width="9.85" height="4.12" fill="#ddebf3"/>
<rect x="393.80" y="480.50" width="9.85" height="4.12" fill="#d5443e"/>
<rect x="403.60" y="480.50" width="9.85" height="4.12" fill="#e6eff4"/>
<rect x="413.40" y="480.50" width="9.85" height="4.12" fill="#fddbc7"/>
<rect x="423.20" y="480.50" width="9.85" height="4.12" fill="#ddebf3"/>
<rect x="315.40" y="484.57" width="9.85" height="4.12" fill="#cbe2f0"/>
<rect x="325.20" y="484.57" width="9.85" height="4.12" fill="#cbe2f0"/>
<rect x="335.00" y="484.57" width="9.85" height="4.12" fill="#fcd2bc"/>
<rect x="344.80" y="484.57" width="9.85" height="4.12" fill="#d4e7f2"/>
<rect x="354.60" y="484.57" width="9.85" height="4.12" fill="#ddebf3"/>
<rect x="364.40" y="484.57" width="9.85" height="4.12" fill="#e6eff4"/>
<rect x="374.20" y="484.57" width="9.85" height="4.12" fill="#ddebf3"/>
<rect x="384.00" y="484.57" width="9.85" height="4.12" fill="#fce2d3"/>
<rect x="393.80" y="484.57" width="9.85" height="4.12" fill="#ddebf3"/>
<rect x="403.60" y="484.57" width="9.85" height="4.12" fill="#f8f0eb"/>
<rect x="413.40" y="484.57" width="9.85" height="4.12" fill="#dc5a48"/>
<rect x="423.20" y="484.57" width="9.85" height="4.12" fill="#ddebf3"/>
<rect x="315.40" y="488.63" width="9.85" height="4.12" fill="#eef3f6"/>
<rect x="325.20" y="488.63" width="9.85" height="4.12" fill="#fac9b0"/>
<rect x="335.00" y="488.63" width="9.85" height="4.12" fill="#b9d8ea"/>
<rect x="344.80" y="488.63" width="9.85" height="4.12" fill="#eef3f6"/>
<rect x="354.60" y="488.63" width="9.85" height="4.12" fill="#b0d4e8"/>
<rect x="364.40" y="488.63" width="9.85" height="4.12" fill="#f8f0eb"/>
<rect x="374.20" y="488.63" width="9.85" height="4.12" fill="#cbe2f0"/>
<rect x="384.00" y="488.63" width="9.85" height="4.12" fill="#cbe2f0"/>
<rect x="393.80" y="488.63" width="9.85" height="4.12" fill="#cbe2f0"/>
<rect x="403.60" y="488.63" width="9.85" height="4.12" fill="#fce2d3"/>
<rect x="413.40" y="488.63" width="9.85" height="4.12" fill="#dc5a48"/>
<rect x="423.20" y="488.63" width="9.85" height="4.12" fill="#fce2d3"/>
<rect x="315.40" y="492.70" width="9.85" height="4.12" fill="#e6eff4"/>
<rect x="325.20" y="492.70" width="9.85" height="4.12" fill="#ddebf3"/>
<rect x="335.00" y="492.70" width="9.85" height="4.12" fill="#ddebf3"/>
<rect x="344.80" y="492.70" width="9.85" height="4.12" fill="#e6eff4"/>
<rect x="354.60" y="492.70" width="9.85" height="4.12" fill="#dc5a48"/>
<rect x="364.40" y="492.70" width="9.85" height="4.12" fill="#eef3f6"/>
<rect x="374.20" y="492.70" width="9.85" height="4.12" fill="#ddebf3"/>
<rect x="384.00" y="492.70" width="9.85" height="4.12" fill="#ddebf3"/>
<rect x="393.80" y="492.70" width="9.85" height="4.12" fill="#ddebf3"/>
<rect x="403.60" y="492.70" width="9.85" height="4.12" fill="#ddebf3"/>
<rect x="413.40" y="492.70" width="9.85" height="4.12" fill="#e6eff4"/>
<rect x="423.20" y="492.70" width="9.85" height="4.12" fill="#dc5a48"/>
<rect x="315.40" y="496.77" width="9.85" height="4.12" fill="#d4e7f2"/>
<rect x="325.20" y="496.77" width="9.85" height="4.12" fill="#ddebf3"/>
<rect x="335.00" y="496.77" width="9.85" height="4.12" fill="#ddebf3"/>
<rect x="344.80" y="496.77" width="9.85" height="4.12" fill="#c2dded"/>
<rect x="354.60" y="496.77" width="9.85" height="4.12" fill="#fcd2bc"/>
<rect x="364.40" y="496.77" width="9.85" height="4.12" fill="#f4a582"/>
<rect x="374.20" y="496.77" width="9.85" height="4.12" fill="#b0d4e8"/>
<rect x="384.00" y="496.77" width="9.85" height="4.12" fill="#eef3f6"/>
<rect x="393.80" y="496.77" width="9.85" height="4.12" fill="#f7f7f7"/>
<rect x="403.60" y="496.77" width="9.85" height="4.12" fill="#ddebf3"/>
<rect x="413.40" y="496.77" width="9.85" height="4.12" fill="#b9d8ea"/>
<rect x="423.20" y="496.77" width="9.85" height="4.12" fill="#d74c42"/>
<rect x="315.40" y="500.83" width="9.85" height="4.12" fill="#e6eff4"/>
<rect x="325.20" y="500.83" width="9.85" height="4.12" fill="#b0d4e8"/>
<rect x="335.00" y="500.83" width="9.85" height="4.12" fill="#b0d4e8"/>
<rect x="344.80" y="500.83" width="9.85" height="4.12" fill="#f8f0eb"/>
<rect x="354.60" y="500.83" width="9.85" height="4.12" fill="#fae9df"/>
<rect x="364.40" y="500.83" width="9.85" height="4.12" fill="#f7b799"/>
<rect x="374.20" y="500.83" width="9.85" height="4.12" fill="#b9d8ea"/>
<rect x="384.00" y="500.83" width="9.85" height="4.12" fill="#e6eff4"/>
<rect x="393.80" y="500.83" width="9.85" height="4.12" fill="#eef3f6"/>
<rect x="403.60" y="500.83" width="9.85" height="4.12" fill="#c2dded"/>
<rect x="413.40" y="500.83" width="9.85" height="4.12" fill="#eef3f6"/>
<rect x="423.20" y="500.83" width="9.85" height="4.12" fill="#d03638"/>
<rect x="315.40" y="504.90" width="9.85" height="4.12" fill="#e6eff4"/>
<rect x="325.20" y="504.90" width="9.85" height="4.12" fill="#ddebf3"/>
<rect x="335.00" y="504.90" width="9.85" height="4.12" fill="#ddebf3"/>
<rect x="344.80" y="504.90" width="9.85" height="4.12" fill="#e6eff4"/>
<rect x="354.60" y="504.90" width="9.85" height="4.12" fill="#e6eff4"/>
<rect x="364.40" y="504.90" width="9.85" height="4.12" fill="#eef3f6"/>
<rect x="374.20" y="504.90" width="9.85" height="4.12" fill="#ddebf3"/>
<rect x="384.00" y="504.90" width="9.85" height="4.12" fill="#e6eff4"/>
<rect x="393.80" y="504.90" width="9.85" height="4.12" fill="#e6eff4"/>
<rect x="403.60" y="504.90" width="9.85" height="4.12" fill="#e6eff4"/>
<rect x="413.40" y="504.90" width="9.85" height="4.12" fill="#eef3f6"/>
<rect x="423.20" y="504.90" width="9.85" height="4.12" fill="#c41228"/>
<rect x="315.40" y="508.97" width="9.85" height="4.12" fill="#ddebf3"/>
<rect x="325.20" y="508.97" width="9.85" height="4.12" fill="#ddebf3"/>
<rect x="335.00" y="508.97" width="9.85" height="4.12" fill="#ddebf3"/>
<rect x="344.80" y="508.97" width="9.85" height="4.12" fill="#ddebf3"/>
<rect x="354.60" y="508.97" width="9.85" height="4.12" fill="#ddebf3"/>
<rect x="364.40" y="508.97" width="9.85" height="4.12" fill="#e6eff4"/>
<rect x="374.20" y="508.97" width="9.85" height="4.12" fill="#e6eff4"/>
<rect x="384.00" y="508.97" width="9.85" height="4.12" fill="#e6eff4"/>
<rect x="393.80" y="508.97" width="9.85" height="4.12" fill="#e6eff4"/>
<rect x="403.60" y="508.97" width="9.85" height="4.12" fill="#e6eff4"/>
<rect x="413.40" y="508.97" width="9.85" height="4.12" fill="#eef3f6"/>
<rect x="423.20" y="508.97" width="9.85" height="4.12" fill="#c41228"/>
<rect x="315.40" y="513.03" width="9.85" height="4.12" fill="#d4e7f2"/>
<rect x="325.20" y="513.03" width="9.85" height="4.12" fill="#ddebf3"/>
<rect x="335.00" y="513.03" width="9.85" height="4.12" fill="#ddebf3"/>
<rect x="344.80" y="513.03" width="9.85" height="4.12" fill="#ddebf3"/>
<rect x="354.60" y="513.03" width="9.85" height="4.12" fill="#ddebf3"/>
<rect x="364.40" y="513.03" width="9.85" height="4.12" fill="#e6eff4"/>
<rect x="374.20" y="513.03" width="9.85" height="4.12" fill="#e6eff4"/>
<rect x="384.00" y="513.03" width="9.85" height="4.12" fill="#e6eff4"/>
<rect x="393.80" y="513.03" width="9.85" height="4.12" fill="#e6eff4"/>
<rect x="403.60" y="513.03" width="9.85" height="4.12" fill="#e6eff4"/>
<rect x="413.40" y="513.03" width="9.85" height="4.12" fill="#eef3f6"/>
<rect x="423.20" y="513.03" width="9.85" height="4.12" fill="#c41228"/>
<rect x="315.40" y="517.10" width="9.85" height="4.12" fill="#8cbfdd"/>
<rect x="325.20" y="517.10" width="9.85" height="4.12" fill="#fcd2bc"/>
<rect x="335.00" y="517.10" width="9.85" height="4.12" fill="#b0d4e8"/>
<rect x="344.80" y="517.10" width="9.85" height="4.12" fill="#fcd2bc"/>
<rect x="354.60" y="517.10" width="9.85" height="4.12" fill="#f8f0eb"/>
<rect x="364.40" y="517.10" width="9.85" height="4.12" fill="#fce2d3"/>
<rect x="374.20" y="517.10" width="9.85" height="4.12" fill="#a7cfe6"/>
<rect x="384.00" y="517.10" width="9.85" height="4.12" fill="#eef3f6"/>
<rect x="393.80" y="517.10" width="9.85" height="4.12" fill="#e6eff4"/>
<rect x="403.60" y="517.10" width="9.85" height="4.12" fill="#f4a582"/>
<rect x="413.40" y="517.10" width="9.85" height="4.12" fill="#e6eff4"/>
<rect x="423.20" y="517.10" width="9.85" height="4.12" fill="#fac9b0"/>
<rect x="315.40" y="521.17" width="9.85" height="4.12" fill="#f8f0eb"/>
<rect x="325.20" y="521.17" width="9.85" height="4.12" fill="#b0d4e8"/>
<rect x="335.00" y="521.17" width="9.85" height="4.12" fill="#ddebf3"/>
<rect x="344.80" y="521.17" width="9.85" height="4.12" fill="#cbe2f0"/>
<rect x="354.60" y="521.17" width="9.85" height="4.12" fill="#ddebf3"/>
<rect x="364.40" y="521.17" width="9.85" height="4.12" fill="#f7b799"/>
<rect x="374.20" y="521.17" width="9.85" height="4.12" fill="#fddbc7"/>
<rect x="384.00" y="521.17" width="9.85" height="4.12" fill="#c2dded"/>
<rect x="393.80" y="521.17" width="9.85" height="4.12" fill="#eef3f6"/>
<rect x="403.60" y="521.17" width="9.85" height="4.12" fill="#ed8e71"/>
<rect x="413.40" y="521.17" width="9.85" height="4.12" fill="#eef3f6"/>
<rect x="423.20" y="521.17" width="9.85" height="4.12" fill="#e88065"/>
<rect x="315.40" y="525.23" width="9.85" height="4.12" fill="#b9d8ea"/>
<rect x="325.20" y="525.23" width="9.85" height="4.12" fill="#b9d8ea"/>
<rect x="335.00" y="525.23" width="9.85" height="4.12" fill="#8cbfdd"/>
<rect x="344.80" y="525.23" width="9.85" height="4.12" fill="#e6eff4"/>
<rect x="354.60" y="525.23" width="9.85" height="4.12" fill="#ddebf3"/>
<rect x="364.40" y="525.23" width="9.85" height="4.12" fill="#fddbc7"/>
<rect x="374.20" y="525.23" width="9.85" height="4.12" fill="#f7b799"/>
<rect x="384.00" y="525.23" width="9.85" height="4.12" fill="#eef3f6"/>
<rect x="393.80" y="525.23" width="9.85" height="4.12" fill="#b9d8ea"/>
<rect x="403.60" y="525.23" width="9.85" height="4.12" fill="#ed8e71"/>
<rect x="413.40" y="525.23" width="9.85" height="4.12" fill="#ddebf3"/>
<rect x="423.20" y="525.23" width="9.85" height="4.12" fill="#f7b799"/>
<rect x="315.40" y="529.30" width="9.85" height="4.12" fill="#b9d8ea"/>
<rect x="325.20" y="529.30" width="9.85" height="4.12" fill="#cbe2f0"/>
<rect x="335.00" y="529.30" width="9.85" height="4.12" fill="#8cbfdd"/>
<rect x="344.80" y="529.30" width="9.85" height="4.12" fill="#e6eff4"/>
<rect x="354.60" y="529.30" width="9.85" height="4.12" fill="#fce2d3"/>
<rect x="364.40" y="529.30" width="9.85" height="4.12" fill="#fddbc7"/>
<rect x="374.20" y="529.30" width="9.85" height="4.12" fill="#fce2d3"/>
<rect x="384.00" y="529.30" width="9.85" height="4.12" fill="#cbe2f0"/>
<rect x="393.80" y="529.30" width="9.85" height="4.12" fill="#c2dded"/>
<rect x="403.60" y="529.30" width="9.85" height="4.12" fill="#fcd2bc"/>
<rect x="413.40" y="529.30" width="9.85" height="4.12" fill="#f7b799"/>
<rect x="423.20" y="529.30" width="9.85" height="4.12" fill="#e88065"/>
<rect x="315.40" y="533.37" width="9.85" height="4.12" fill="#d4e7f2"/>
<rect x="325.20" y="533.37" width="9.85" height="4.12" fill="#8cbfdd"/>
<rect x="335.00" y="533.37" width="9.85" height="4.12" fill="#eef3f6"/>
<rect x="344.80" y="533.37" width="9.85" height="4.12" fill="#ef9676"/>
<rect x="354.60" y="533.37" width="9.85" height="4.12" fill="#ddebf3"/>
<rect x="364.40" y="533.37" width="9.85" height="4.12" fill="#e6eff4"/>
<rect x="374.20" y="533.37" width="9.85" height="4.12" fill="#b0d4e8"/>
<rect x="384.00" y="533.37" width="9.85" height="4.12" fill="#f8c0a4"/>
<rect x="393.80" y="533.37" width="9.85" height="4.12" fill="#c2dded"/>
<rect x="403.60" y="533.37" width="9.85" height="4.12" fill="#dc5a48"/>
<rect x="413.40" y="533.37" width="9.85" height="4.12" fill="#eef3f6"/>
<rect x="423.20" y="533.37" width="9.85" height="4.12" fill="#fae9df"/>
<rect x="315.40" y="537.43" width="9.85" height="4.12" fill="#f7b799"/>
<rect x="325.20" y="537.43" width="9.85" height="4.12" fill="#ddebf3"/>
<rect x="335.00" y="537.43" width="9.85" height="4.12" fill="#b0d4e8"/>
<rect x="344.80" y="537.43" width="9.85" height="4.12" fill="#f8c0a4"/>
<rect x="354.60" y="537.43" width="9.85" height="4.12" fill="#fce2d3"/>
<rect x="364.40" y="537.43" width="9.85" height="4.12" fill="#ddebf3"/>
<rect x="374.20" y="537.43" width="9.85" height="4.12" fill="#e6eff4"/>
<rect x="384.00" y="537.43" width="9.85" height="4.12" fill="#e6eff4"/>
<rect x="393.80" y="537.43" width="9.85" height="4.12" fill="#b0d4e8"/>
<rect x="403.60" y="537.43" width="9.85" height="4.12" fill="#e16954"/>
<rect x="413.40" y="537.43" width="9.85" height="4.12" fill="#eef3f6"/>
<rect x="423.20" y="537.43" width="9.85" height="4.12" fill="#f7f7f7"/>
<rect x="315.40" y="541.50" width="9.85" height="4.12" fill="#b0d4e8"/>
<rect x="325.20" y="541.50" width="9.85" height="4.12" fill="#b9d8ea"/>
<rect x="335.00" y="541.50" width="9.85" height="4.12" fill="#9ecae3"/>
<rect x="344.80" y="541.50" width="9.85" height="4.12" fill="#e6eff4"/>
<rect x="354.60" y="541.50" width="9.85" height="4.12" fill="#fddbc7"/>
<rect x="364.40" y="541.50" width="9.85" height="4.12" fill="#fae9df"/>
<rect x="374.20" y="541.50" width="9.85" height="4.12" fill="#fce2d3"/>
<rect x="384.00" y="541.50" width="9.85" height="4.12" fill="#d74c42"/>
<rect x="393.80" y="541.50" width="9.85" height="4.12" fill="#ddebf3"/>
<rect x="403.60" y="541.50" width="9.85" height="4.12" fill="#fce2d3"/>
<rect x="413.40" y="541.50" width="9.85" height="4.12" fill="#d4e7f2"/>
<rect x="423.20" y="541.50" width="9.85" height="4.12" fill="#eef3f6"/>
<rect x="315.40" y="545.57" width="9.85" height="4.12" fill="#b0d4e8"/>
<rect x="325.20" y="545.57" width="9.85" height="4.12" fill="#b9d8ea"/>
<rect x="335.00" y="545.57" width="9.85" height="4.12" fill="#9ecae3"/>
<rect x="344.80" y="545.57" width="9.85" height="4.12" fill="#fce2d3"/>
<rect x="354.60" y="545.57" width="9.85" height="4.12" fill="#fddbc7"/>
<rect x="364.40" y="545.57" width="9.85" height="4.12" fill="#f6ae8e"/>
<rect x="374.20" y="545.57" width="9.85" height="4.12" fill="#f4a582"/>
<rect x="384.00" y="545.57" width="9.85" height="4.12" fill="#fddbc7"/>
<rect x="393.80" y="545.57" width="9.85" height="4.12" fill="#c2dded"/>
<rect x="403.60" y="545.57" width="9.85" height="4.12" fill="#f8f0eb"/>
<rect x="413.40" y="545.57" width="9.85" height="4.12" fill="#b0d4e8"/>
<rect x="423.20" y="545.57" width="9.85" height="4.12" fill="#eef3f6"/>
<rect x="315.40" y="549.63" width="9.85" height="4.12" fill="#b0d4e8"/>
<rect x="325.20" y="549.63" width="9.85" height="4.12" fill="#b9d8ea"/>
<rect x="335.00" y="549.63" width="9.85" height="4.12" fill="#b0d4e8"/>
<rect x="344.80" y="549.63" width="9.85" height="4.12" fill="#fcd2bc"/>
<rect x="354.60" y="549.63" width="9.85" height="4.12" fill="#f4a582"/>
<rect x="364.40" y="549.63" width="9.85" height="4.12" fill="#f7b799"/>
<rect x="374.20" y="549.63" width="9.85" height="4.12" fill="#f8f0eb"/>
<rect x="384.00" y="549.63" width="9.85" height="4.12" fill="#fac9b0"/>
<rect x="393.80" y="549.63" width="9.85" height="4.12" fill="#ddebf3"/>
<rect x="403.60" y="549.63" width="9.85" height="4.12" fill="#e6eff4"/>
<rect x="413.40" y="549.63" width="9.85" height="4.12" fill="#b0d4e8"/>
<rect x="423.20" y="549.63" width="9.85" height="4.12" fill="#fcd2bc"/>
<rect x="315.40" y="555.50" width="9.85" height="4.15" fill="#fddbc7"/>
<rect x="325.20" y="555.50" width="9.85" height="4.15" fill="#d4e7f2"/>
<rect x="335.00" y="555.50" width="9.85" height="4.15" fill="#d4e7f2"/>
<rect x="344.80" y="555.50" width="9.85" height="4.15" fill="#d4e7f2"/>
<rect x="354.60" y="555.50" width="9.85" height="4.15" fill="#dc5a48"/>
<rect x="364.40" y="555.50" width="9.85" height="4.15" fill="#d4e7f2"/>
<rect x="374.20" y="555.50" width="9.85" height="4.15" fill="#d4e7f2"/>
<rect x="384.00" y="555.50" width="9.85" height="4.15" fill="#d4e7f2"/>
<rect x="393.80" y="555.50" width="9.85" height="4.15" fill="#d4e7f2"/>
<rect x="403.60" y="555.50" width="9.85" height="4.15" fill="#d4e7f2"/>
<rect x="413.40" y="555.50" width="9.85" height="4.15" fill="#dc5a48"/>
<rect x="423.20" y="555.50" width="9.85" height="4.15" fill="#fddbc7"/>
<rect x="315.40" y="559.60" width="9.85" height="4.15" fill="#d4e7f2"/>
<rect x="325.20" y="559.60" width="9.85" height="4.15" fill="#d4e7f2"/>
<rect x="335.00" y="559.60" width="9.85" height="4.15" fill="#d4e7f2"/>
<rect x="344.80" y="559.60" width="9.85" height="4.15" fill="#d4e7f2"/>
<rect x="354.60" y="559.60" width="9.85" height="4.15" fill="#e6785f"/>
<rect x="364.40" y="559.60" width="9.85" height="4.15" fill="#e16954"/>
<rect x="374.20" y="559.60" width="9.85" height="4.15" fill="#d4e7f2"/>
<rect x="384.00" y="559.60" width="9.85" height="4.15" fill="#d4e7f2"/>
<rect x="393.80" y="559.60" width="9.85" height="4.15" fill="#d4e7f2"/>
<rect x="403.60" y="559.60" width="9.85" height="4.15" fill="#d4e7f2"/>
<rect x="413.40" y="559.60" width="9.85" height="4.15" fill="#ed8e71"/>
<rect x="423.20" y="559.60" width="9.85" height="4.15" fill="#d4e7f2"/>
<rect x="315.40" y="563.69" width="9.85" height="4.15" fill="#d4e7f2"/>
<rect x="325.20" y="563.69" width="9.85" height="4.15" fill="#d4e7f2"/>
<rect x="335.00" y="563.69" width="9.85" height="4.15" fill="#d4e7f2"/>
<rect x="344.80" y="563.69" width="9.85" height="4.15" fill="#d4e7f2"/>
<rect x="354.60" y="563.69" width="9.85" height="4.15" fill="#e6785f"/>
<rect x="364.40" y="563.69" width="9.85" height="4.15" fill="#e16954"/>
<rect x="374.20" y="563.69" width="9.85" height="4.15" fill="#d4e7f2"/>
<rect x="384.00" y="563.69" width="9.85" height="4.15" fill="#d4e7f2"/>
<rect x="393.80" y="563.69" width="9.85" height="4.15" fill="#d4e7f2"/>
<rect x="403.60" y="563.69" width="9.85" height="4.15" fill="#d4e7f2"/>
<rect x="413.40" y="563.69" width="9.85" height="4.15" fill="#ed8e71"/>
<rect x="423.20" y="563.69" width="9.85" height="4.15" fill="#d4e7f2"/>
<rect x="315.40" y="567.79" width="9.85" height="4.15" fill="#fac9b0"/>
<rect x="325.20" y="567.79" width="9.85" height="4.15" fill="#b0d4e8"/>
<rect x="335.00" y="567.79" width="9.85" height="4.15" fill="#b0d4e8"/>
<rect x="344.80" y="567.79" width="9.85" height="4.15" fill="#f7f7f7"/>
<rect x="354.60" y="567.79" width="9.85" height="4.15" fill="#b0d4e8"/>
<rect x="364.40" y="567.79" width="9.85" height="4.15" fill="#fae9df"/>
<rect x="374.20" y="567.79" width="9.85" height="4.15" fill="#f4a582"/>
<rect x="384.00" y="567.79" width="9.85" height="4.15" fill="#f7f7f7"/>
<rect x="393.80" y="567.79" width="9.85" height="4.15" fill="#b0d4e8"/>
<rect x="403.60" y="567.79" width="9.85" height="4.15" fill="#eef3f6"/>
<rect x="413.40" y="567.79" width="9.85" height="4.15" fill="#f4a582"/>
<rect x="423.20" y="567.79" width="9.85" height="4.15" fill="#f7f7f7"/>
<rect x="315.40" y="571.88" width="9.85" height="4.15" fill="#d4e7f2"/>
<rect x="325.20" y="571.88" width="9.85" height="4.15" fill="#d4e7f2"/>
<rect x="335.00" y="571.88" width="9.85" height="4.15" fill="#d4e7f2"/>
<rect x="344.80" y="571.88" width="9.85" height="4.15" fill="#ddebf3"/>
<rect x="354.60" y="571.88" width="9.85" height="4.15" fill="#ddebf3"/>
<rect x="364.40" y="571.88" width="9.85" height="4.15" fill="#ddebf3"/>
<rect x="374.20" y="571.88" width="9.85" height="4.15" fill="#d4e7f2"/>
<rect x="384.00" y="571.88" width="9.85" height="4.15" fill="#ddebf3"/>
<rect x="393.80" y="571.88" width="9.85" height="4.15" fill="#ddebf3"/>
<rect x="403.60" y="571.88" width="9.85" height="4.15" fill="#ddebf3"/>
<rect x="413.40" y="571.88" width="9.85" height="4.15" fill="#c41228"/>
<rect x="423.20" y="571.88" width="9.85" height="4.15" fill="#f4a582"/>
<rect x="315.40" y="575.98" width="9.85" height="4.15" fill="#d4e7f2"/>
<rect x="325.20" y="575.98" width="9.85" height="4.15" fill="#d4e7f2"/>
<rect x="335.00" y="575.98" width="9.85" height="4.15" fill="#d4e7f2"/>
<rect x="344.80" y="575.98" width="9.85" height="4.15" fill="#ddebf3"/>
<rect x="354.60" y="575.98" width="9.85" height="4.15" fill="#ddebf3"/>
<rect x="364.40" y="575.98" width="9.85" height="4.15" fill="#fae9df"/>
<rect x="374.20" y="575.98" width="9.85" height="4.15" fill="#f4a582"/>
<rect x="384.00" y="575.98" width="9.85" height="4.15" fill="#ddebf3"/>
<rect x="393.80" y="575.98" width="9.85" height="4.15" fill="#ddebf3"/>
<rect x="403.60" y="575.98" width="9.85" height="4.15" fill="#ddebf3"/>
<rect x="413.40" y="575.98" width="9.85" height="4.15" fill="#c41228"/>
<rect x="423.20" y="575.98" width="9.85" height="4.15" fill="#ddebf3"/>
<rect x="315.40" y="580.08" width="9.85" height="4.15" fill="#d4e7f2"/>
<rect x="325.20" y="580.08" width="9.85" height="4.15" fill="#d4e7f2"/>
<rect x="335.00" y="580.08" width="9.85" height="4.15" fill="#d4e7f2"/>
<rect x="344.80" y="580.08" width="9.85" height="4.15" fill="#d4e7f2"/>
<rect x="354.60" y="580.08" width="9.85" height="4.15" fill="#d4e7f2"/>
<rect x="364.40" y="580.08" width="9.85" height="4.15" fill="#ddebf3"/>
<rect x="374.20" y="580.08" width="9.85" height="4.15" fill="#d4e7f2"/>
<rect x="384.00" y="580.08" width="9.85" height="4.15" fill="#d4e7f2"/>
<rect x="393.80" y="580.08" width="9.85" height="4.15" fill="#d4e7f2"/>
<rect x="403.60" y="580.08" width="9.85" height="4.15" fill="#d4e7f2"/>
<rect x="413.40" y="580.08" width="9.85" height="4.15" fill="#c41228"/>
<rect x="423.20" y="580.08" width="9.85" height="4.15" fill="#d4e7f2"/>
<rect x="315.40" y="584.17" width="9.85" height="4.15" fill="#d4e7f2"/>
<rect x="325.20" y="584.17" width="9.85" height="4.15" fill="#d4e7f2"/>
<rect x="335.00" y="584.17" width="9.85" height="4.15" fill="#d4e7f2"/>
<rect x="344.80" y="584.17" width="9.85" height="4.15" fill="#d4e7f2"/>
<rect x="354.60" y="584.17" width="9.85" height="4.15" fill="#d4e7f2"/>
<rect x="364.40" y="584.17" width="9.85" height="4.15" fill="#e6eff4"/>
<rect x="374.20" y="584.17" width="9.85" height="4.15" fill="#d4e7f2"/>
<rect x="384.00" y="584.17" width="9.85" height="4.15" fill="#d4e7f2"/>
<rect x="393.80" y="584.17" width="9.85" height="4.15" fill="#d4e7f2"/>
<rect x="403.60" y="584.17" width="9.85" height="4.15" fill="#d4e7f2"/>
<rect x="413.40" y="584.17" width="9.85" height="4.15" fill="#c41228"/>
<rect x="423.20" y="584.17" width="9.85" height="4.15" fill="#d4e7f2"/>
<rect x="315.40" y="588.27" width="9.85" height="4.15" fill="#cbe2f0"/>
<rect x="325.20" y="588.27" width="9.85" height="4.15" fill="#d4e7f2"/>
<rect x="335.00" y="588.27" width="9.85" height="4.15" fill="#d4e7f2"/>
<rect x="344.80" y="588.27" width="9.85" height="4.15" fill="#fddbc7"/>
<rect x="354.60" y="588.27" width="9.85" height="4.15" fill="#d4e7f2"/>
<rect x="364.40" y="588.27" width="9.85" height="4.15" fill="#e16954"/>
<rect x="374.20" y="588.27" width="9.85" height="4.15" fill="#d4e7f2"/>
<rect x="384.00" y="588.27" width="9.85" height="4.15" fill="#ddebf3"/>
<rect x="393.80" y="588.27" width="9.85" height="4.15" fill="#fce2d3"/>
<rect x="403.60" y="588.27" width="9.85" height="4.15" fill="#fce2d3"/>
<rect x="413.40" y="588.27" width="9.85" height="4.15" fill="#ddebf3"/>
<rect x="423.20" y="588.27" width="9.85" height="4.15" fill="#fddbc7"/>
<rect x="315.40" y="592.36" width="9.85" height="4.15" fill="#9ecae3"/>
<rect x="325.20" y="592.36" width="9.85" height="4.15" fill="#d4e7f2"/>
<rect x="335.00" y="592.36" width="9.85" height="4.15" fill="#d4e7f2"/>
<rect x="344.80" y="592.36" width="9.85" height="4.15" fill="#d4e7f2"/>
<rect x="354.60" y="592.36" width="9.85" height="4.15" fill="#d4e7f2"/>
<rect x="364.40" y="592.36" width="9.85" height="4.15" fill="#e16954"/>
<rect x="374.20" y="592.36" width="9.85" height="4.15" fill="#f7b799"/>
<rect x="384.00" y="592.36" width="9.85" height="4.15" fill="#b0d4e8"/>
<rect x="393.80" y="592.36" width="9.85" height="4.15" fill="#eef3f6"/>
<rect x="403.60" y="592.36" width="9.85" height="4.15" fill="#fac9b0"/>
<rect x="413.40" y="592.36" width="9.85" height="4.15" fill="#eef3f6"/>
<rect x="423.20" y="592.36" width="9.85" height="4.15" fill="#ddebf3"/>
<rect x="315.40" y="596.46" width="9.85" height="4.15" fill="#c2dded"/>
<rect x="325.20" y="596.46" width="9.85" height="4.15" fill="#cbe2f0"/>
<rect x="335.00" y="596.46" width="9.85" height="4.15" fill="#d4e7f2"/>
<rect x="344.80" y="596.46" width="9.85" height="4.15" fill="#d4e7f2"/>
<rect x="354.60" y="596.46" width="9.85" height="4.15" fill="#d4e7f2"/>
<rect x="364.40" y="596.46" width="9.85" height="4.15" fill="#dc5a48"/>
<rect x="374.20" y="596.46" width="9.85" height="4.15" fill="#e6eff4"/>
<rect x="384.00" y="596.46" width="9.85" height="4.15" fill="#d4e7f2"/>
<rect x="393.80" y="596.46" width="9.85" height="4.15" fill="#ddebf3"/>
<rect x="403.60" y="596.46" width="9.85" height="4.15" fill="#dc5a48"/>
<rect x="413.40" y="596.46" width="9.85" height="4.15" fill="#ddebf3"/>
<rect x="423.20" y="596.46" width="9.85" height="4.15" fill="#ddebf3"/>
<rect x="315.40" y="600.56" width="9.85" height="4.15" fill="#a7cfe6"/>
<rect x="325.20" y="600.56" width="9.85" height="4.15" fill="#a7cfe6"/>
<rect x="335.00" y="600.56" width="9.85" height="4.15" fill="#d4e7f2"/>
<rect x="344.80" y="600.56" width="9.85" height="4.15" fill="#a7cfe6"/>
<rect x="354.60" y="600.56" width="9.85" height="4.15" fill="#fce2d3"/>
<rect x="364.40" y="600.56" width="9.85" height="4.15" fill="#e6785f"/>
<rect x="374.20" y="600.56" width="9.85" height="4.15" fill="#fce2d3"/>
<rect x="384.00" y="600.56" width="9.85" height="4.15" fill="#d4e7f2"/>
<rect x="393.80" y="600.56" width="9.85" height="4.15" fill="#ddebf3"/>
<rect x="403.60" y="600.56" width="9.85" height="4.15" fill="#dc5a48"/>
<rect x="413.40" y="600.56" width="9.85" height="4.15" fill="#ddebf3"/>
<rect x="423.20" y="600.56" width="9.85" height="4.15" fill="#d4e7f2"/>
<rect x="315.40" y="604.65" width="9.85" height="4.15" fill="#d4e7f2"/>
<rect x="325.20" y="604.65" width="9.85" height="4.15" fill="#d4e7f2"/>
<rect x="335.00" y="604.65" width="9.85" height="4.15" fill="#d4e7f2"/>
<rect x="344.80" y="604.65" width="9.85" height="4.15" fill="#d4e7f2"/>
<rect x="354.60" y="604.65" width="9.85" height="4.15" fill="#ddebf3"/>
<rect x="364.40" y="604.65" width="9.85" height="4.15" fill="#cbe2f0"/>
<rect x="374.20" y="604.65" width="9.85" height="4.15" fill="#e16954"/>
<rect x="384.00" y="604.65" width="9.85" height="4.15" fill="#ddebf3"/>
<rect x="393.80" y="604.65" width="9.85" height="4.15" fill="#ddebf3"/>
<rect x="403.60" y="604.65" width="9.85" height="4.15" fill="#dc5a48"/>
<rect x="413.40" y="604.65" width="9.85" height="4.15" fill="#ddebf3"/>
<rect x="423.20" y="604.65" width="9.85" height="4.15" fill="#d4e7f2"/>
<rect x="315.40" y="608.75" width="9.85" height="4.15" fill="#d4e7f2"/>
<rect x="325.20" y="608.75" width="9.85" height="4.15" fill="#d4e7f2"/>
<rect x="335.00" y="608.75" width="9.85" height="4.15" fill="#ddebf3"/>
<rect x="344.80" y="608.75" width="9.85" height="4.15" fill="#d4e7f2"/>
<rect x="354.60" y="608.75" width="9.85" height="4.15" fill="#ddebf3"/>
<rect x="364.40" y="608.75" width="9.85" height="4.15" fill="#d4e7f2"/>
<rect x="374.20" y="608.75" width="9.85" height="4.15" fill="#ddebf3"/>
<rect x="384.00" y="608.75" width="9.85" height="4.15" fill="#ddebf3"/>
<rect x="393.80" y="608.75" width="9.85" height="4.15" fill="#ddebf3"/>
<rect x="403.60" y="608.75" width="9.85" height="4.15" fill="#c41228"/>
<rect x="413.40" y="608.75" width="9.85" height="4.15" fill="#e6eff4"/>
<rect x="423.20" y="608.75" width="9.85" height="4.15" fill="#ddebf3"/>
<rect x="315.40" y="612.84" width="9.85" height="4.15" fill="#cbe2f0"/>
<rect x="325.20" y="612.84" width="9.85" height="4.15" fill="#b0d4e8"/>
<rect x="335.00" y="612.84" width="9.85" height="4.15" fill="#d4e7f2"/>
<rect x="344.80" y="612.84" width="9.85" height="4.15" fill="#b0d4e8"/>
<rect x="354.60" y="612.84" width="9.85" height="4.15" fill="#d4e7f2"/>
<rect x="364.40" y="612.84" width="9.85" height="4.15" fill="#b9d8ea"/>
<rect x="374.20" y="612.84" width="9.85" height="4.15" fill="#d4e7f2"/>
<rect x="384.00" y="612.84" width="9.85" height="4.15" fill="#d4e7f2"/>
<rect x="393.80" y="612.84" width="9.85" height="4.15" fill="#fcd2bc"/>
<rect x="403.60" y="612.84" width="9.85" height="4.15" fill="#d74c42"/>
<rect x="413.40" y="612.84" width="9.85" height="4.15" fill="#f7b799"/>
<rect x="423.20" y="612.84" width="9.85" height="4.15" fill="#ddebf3"/>
<rect x="315.40" y="616.94" width="9.85" height="4.15" fill="#d4e7f2"/>
<rect x="325.20" y="616.94" width="9.85" height="4.15" fill="#d4e7f2"/>
<rect x="335.00" y="616.94" width="9.85" height="4.15" fill="#d4e7f2"/>
<rect x="344.80" y="616.94" width="9.85" height="4.15" fill="#d4e7f2"/>
<rect x="354.60" y="616.94" width="9.85" height="4.15" fill="#d4e7f2"/>
<rect x="364.40" y="616.94" width="9.85" height="4.15" fill="#d4e7f2"/>
<rect x="374.20" y="616.94" width="9.85" height="4.15" fill="#d4e7f2"/>
<rect x="384.00" y="616.94" width="9.85" height="4.15" fill="#d4e7f2"/>
<rect x="393.80" y="616.94" width="9.85" height="4.15" fill="#ddebf3"/>
<rect x="403.60" y="616.94" width="9.85" height="4.15" fill="#d74c42"/>
<rect x="413.40" y="616.94" width="9.85" height="4.15" fill="#e16954"/>
<rect x="423.20" y="616.94" width="9.85" height="4.15" fill="#cbe2f0"/>
<rect x="315.40" y="621.04" width="9.85" height="4.15" fill="#d4e7f2"/>
<rect x="325.20" y="621.04" width="9.85" height="4.15" fill="#d4e7f2"/>
<rect x="335.00" y="621.04" width="9.85" height="4.15" fill="#d4e7f2"/>
<rect x="344.80" y="621.04" width="9.85" height="4.15" fill="#e88065"/>
<rect x="354.60" y="621.04" width="9.85" height="4.15" fill="#d4e7f2"/>
<rect x="364.40" y="621.04" width="9.85" height="4.15" fill="#d4e7f2"/>
<rect x="374.20" y="621.04" width="9.85" height="4.15" fill="#d4e7f2"/>
<rect x="384.00" y="621.04" width="9.85" height="4.15" fill="#d4e7f2"/>
<rect x="393.80" y="621.04" width="9.85" height="4.15" fill="#ddebf3"/>
<rect x="403.60" y="621.04" width="9.85" height="4.15" fill="#f4a582"/>
<rect x="413.40" y="621.04" width="9.85" height="4.15" fill="#fce2d3"/>
<rect x="423.20" y="621.04" width="9.85" height="4.15" fill="#f4a582"/>
<rect x="315.40" y="625.13" width="9.85" height="4.15" fill="#cbe2f0"/>
<rect x="325.20" y="625.13" width="9.85" height="4.15" fill="#cbe2f0"/>
<rect x="335.00" y="625.13" width="9.85" height="4.15" fill="#c2dded"/>
<rect x="344.80" y="625.13" width="9.85" height="4.15" fill="#c2dded"/>
<rect x="354.60" y="625.13" width="9.85" height="4.15" fill="#cbe2f0"/>
<rect x="364.40" y="625.13" width="9.85" height="4.15" fill="#cbe2f0"/>
<rect x="374.20" y="625.13" width="9.85" height="4.15" fill="#ddebf3"/>
<rect x="384.00" y="625.13" width="9.85" height="4.15" fill="#ddebf3"/>
<rect x="393.80" y="625.13" width="9.85" height="4.15" fill="#ddebf3"/>
<rect x="403.60" y="625.13" width="9.85" height="4.15" fill="#ef9676"/>
<rect x="413.40" y="625.13" width="9.85" height="4.15" fill="#dc5a48"/>
<rect x="423.20" y="625.13" width="9.85" height="4.15" fill="#f4a582"/>
<rect x="315.40" y="629.23" width="9.85" height="4.15" fill="#c2dded"/>
<rect x="325.20" y="629.23" width="9.85" height="4.15" fill="#cbe2f0"/>
<rect x="335.00" y="629.23" width="9.85" height="4.15" fill="#c2dded"/>
<rect x="344.80" y="629.23" width="9.85" height="4.15" fill="#cbe2f0"/>
<rect x="354.60" y="629.23" width="9.85" height="4.15" fill="#f7f7f7"/>
<rect x="364.40" y="629.23" width="9.85" height="4.15" fill="#d4e7f2"/>
<rect x="374.20" y="629.23" width="9.85" height="4.15" fill="#ddebf3"/>
<rect x="384.00" y="629.23" width="9.85" height="4.15" fill="#ddebf3"/>
<rect x="393.80" y="629.23" width="9.85" height="4.15" fill="#ddebf3"/>
<rect x="403.60" y="629.23" width="9.85" height="4.15" fill="#ea876b"/>
<rect x="413.40" y="629.23" width="9.85" height="4.15" fill="#fcd2bc"/>
<rect x="423.20" y="629.23" width="9.85" height="4.15" fill="#ef9676"/>
<rect x="315.40" y="633.32" width="9.85" height="4.15" fill="#d4e7f2"/>
<rect x="325.20" y="633.32" width="9.85" height="4.15" fill="#d4e7f2"/>
<rect x="335.00" y="633.32" width="9.85" height="4.15" fill="#d4e7f2"/>
<rect x="344.80" y="633.32" width="9.85" height="4.15" fill="#d4e7f2"/>
<rect x="354.60" y="633.32" width="9.85" height="4.15" fill="#d4e7f2"/>
<rect x="364.40" y="633.32" width="9.85" height="4.15" fill="#d4e7f2"/>
<rect x="374.20" y="633.32" width="9.85" height="4.15" fill="#ddebf3"/>
<rect x="384.00" y="633.32" width="9.85" height="4.15" fill="#d4e7f2"/>
<rect x="393.80" y="633.32" width="9.85" height="4.15" fill="#dc5a48"/>
<rect x="403.60" y="633.32" width="9.85" height="4.15" fill="#ddebf3"/>
<rect x="413.40" y="633.32" width="9.85" height="4.15" fill="#d4e7f2"/>
<rect x="423.20" y="633.32" width="9.85" height="4.15" fill="#dc5a48"/>
<rect x="315.40" y="637.42" width="9.85" height="4.15" fill="#ddebf3"/>
<rect x="325.20" y="637.42" width="9.85" height="4.15" fill="#ddebf3"/>
<rect x="335.00" y="637.42" width="9.85" height="4.15" fill="#ddebf3"/>
<rect x="344.80" y="637.42" width="9.85" height="4.15" fill="#fce2d3"/>
<rect x="354.60" y="637.42" width="9.85" height="4.15" fill="#ddebf3"/>
<rect x="364.40" y="637.42" width="9.85" height="4.15" fill="#ddebf3"/>
<rect x="374.20" y="637.42" width="9.85" height="4.15" fill="#ddebf3"/>
<rect x="384.00" y="637.42" width="9.85" height="4.15" fill="#ddebf3"/>
<rect x="393.80" y="637.42" width="9.85" height="4.15" fill="#ddebf3"/>
<rect x="403.60" y="637.42" width="9.85" height="4.15" fill="#fce2d3"/>
<rect x="413.40" y="637.42" width="9.85" height="4.15" fill="#ddebf3"/>
<rect x="423.20" y="637.42" width="9.85" height="4.15" fill="#c41228"/>
<rect x="315.40" y="641.52" width="9.85" height="4.15" fill="#d4e7f2"/>
<rect x="325.20" y="641.52" width="9.85" height="4.15" fill="#d4e7f2"/>
<rect x="335.00" y="641.52" width="9.85" height="4.15" fill="#d4e7f2"/>
<rect x="344.80" y="641.52" width="9.85" height="4.15" fill="#d4e7f2"/>
<rect x="354.60" y="641.52" width="9.85" height="4.15" fill="#d4e7f2"/>
<rect x="364.40" y="641.52" width="9.85" height="4.15" fill="#d4e7f2"/>
<rect x="374.20" y="641.52" width="9.85" height="4.15" fill="#d4e7f2"/>
<rect x="384.00" y="641.52" width="9.85" height="4.15" fill="#d4e7f2"/>
<rect x="393.80" y="641.52" width="9.85" height="4.15" fill="#d4e7f2"/>
<rect x="403.60" y="641.52" width="9.85" height="4.15" fill="#d4e7f2"/>
<rect x="413.40" y="641.52" width="9.85" height="4.15" fill="#d4e7f2"/>
<rect x="423.20" y="641.52" width="9.85" height="4.15" fill="#c41228"/>
<rect x="315.40" y="645.61" width="9.85" height="4.15" fill="#c2dded"/>
<rect x="325.20" y="645.61" width="9.85" height="4.15" fill="#c2dded"/>
<rect x="335.00" y="645.61" width="9.85" height="4.15" fill="#c2dded"/>
<rect x="344.80" y="645.61" width="9.85" height="4.15" fill="#cbe2f0"/>
<rect x="354.60" y="645.61" width="9.85" height="4.15" fill="#cbe2f0"/>
<rect x="364.40" y="645.61" width="9.85" height="4.15" fill="#d4e7f2"/>
<rect x="374.20" y="645.61" width="9.85" height="4.15" fill="#d74c42"/>
<rect x="384.00" y="645.61" width="9.85" height="4.15" fill="#fddbc7"/>
<rect x="393.80" y="645.61" width="9.85" height="4.15" fill="#fce2d3"/>
<rect x="403.60" y="645.61" width="9.85" height="4.15" fill="#fce2d3"/>
<rect x="413.40" y="645.61" width="9.85" height="4.15" fill="#f8f0eb"/>
<rect x="423.20" y="645.61" width="9.85" height="4.15" fill="#fcd2bc"/>
<rect x="315.40" y="649.71" width="9.85" height="4.15" fill="#cbe2f0"/>
<rect x="325.20" y="649.71" width="9.85" height="4.15" fill="#cbe2f0"/>
<rect x="335.00" y="649.71" width="9.85" height="4.15" fill="#eef3f6"/>
<rect x="344.80" y="649.71" width="9.85" height="4.15" fill="#fcd2bc"/>
<rect x="354.60" y="649.71" width="9.85" height="4.15" fill="#f7f7f7"/>
<rect x="364.40" y="649.71" width="9.85" height="4.15" fill="#f7f7f7"/>
<rect x="374.20" y="649.71" width="9.85" height="4.15" fill="#dc5a48"/>
<rect x="384.00" y="649.71" width="9.85" height="4.15" fill="#cbe2f0"/>
<rect x="393.80" y="649.71" width="9.85" height="4.15" fill="#cbe2f0"/>
<rect x="403.60" y="649.71" width="9.85" height="4.15" fill="#fce2d3"/>
<rect x="413.40" y="649.71" width="9.85" height="4.15" fill="#e6eff4"/>
<rect x="423.20" y="649.71" width="9.85" height="4.15" fill="#fcd2bc"/>
<rect x="315.40" y="653.80" width="9.85" height="4.15" fill="#eef3f6"/>
<rect x="325.20" y="653.80" width="9.85" height="4.15" fill="#e6eff4"/>
<rect x="335.00" y="653.80" width="9.85" height="4.15" fill="#9ecae3"/>
<rect x="344.80" y="653.80" width="9.85" height="4.15" fill="#ddebf3"/>
<rect x="354.60" y="653.80" width="9.85" height="4.15" fill="#c2dded"/>
<rect x="364.40" y="653.80" width="9.85" height="4.15" fill="#f7f7f7"/>
<rect x="374.20" y="653.80" width="9.85" height="4.15" fill="#f7b799"/>
<rect x="384.00" y="653.80" width="9.85" height="4.15" fill="#cbe2f0"/>
<rect x="393.80" y="653.80" width="9.85" height="4.15" fill="#e6eff4"/>
<rect x="403.60" y="653.80" width="9.85" height="4.15" fill="#e6eff4"/>
<rect x="413.40" y="653.80" width="9.85" height="4.15" fill="#fce2d3"/>
<rect x="423.20" y="653.80" width="9.85" height="4.15" fill="#e88065"/>
<text x="436.3" y="398.63" font-size="4.4" fill="#3a3a3a" style="stroke:none">SOCS2</text>
<text x="436.3" y="402.70" font-size="4.4" fill="#3a3a3a" style="stroke:none">OAS1</text>
<text x="436.3" y="406.77" font-size="4.4" fill="#3a3a3a" style="stroke:none">GULP1</text>
<text x="436.3" y="410.83" font-size="4.4" fill="#3a3a3a" style="stroke:none">TDH</text>
<text x="436.3" y="414.90" font-size="4.4" fill="#3a3a3a" style="stroke:none">DDC</text>
<text x="436.3" y="418.97" font-size="4.4" fill="#3a3a3a" style="stroke:none">CLDN2</text>
<text x="436.3" y="423.03" font-size="4.4" fill="#3a3a3a" style="stroke:none">NT5</text>
<text x="436.3" y="427.10" font-size="4.4" fill="#3a3a3a" style="stroke:none">PPARGC1A</text>
<text x="436.3" y="431.17" font-size="4.4" fill="#3a3a3a" style="stroke:none">IFI6</text>
<text x="436.3" y="435.23" font-size="4.4" fill="#3a3a3a" style="stroke:none">VAV3</text>
<text x="436.3" y="439.30" font-size="4.4" fill="#3a3a3a" style="stroke:none">AQP3</text>
<text x="436.3" y="443.37" font-size="4.4" fill="#3a3a3a" style="stroke:none">PLN</text>
<text x="436.3" y="447.43" font-size="4.4" fill="#3a3a3a" style="stroke:none">DCN5</text>
<text x="436.3" y="451.50" font-size="4.4" fill="#3a3a3a" style="stroke:none">EBF2</text>
<text x="436.3" y="455.57" font-size="4.4" fill="#3a3a3a" style="stroke:none">AK1</text>
<text x="436.3" y="459.63" font-size="4.4" fill="#3a3a3a" style="stroke:none">CLIP3</text>
<text x="436.3" y="463.70" font-size="4.4" fill="#3a3a3a" style="stroke:none">CXCL14</text>
<text x="436.3" y="467.77" font-size="4.4" fill="#3a3a3a" style="stroke:none">SNCAIP</text>
<text x="436.3" y="471.83" font-size="4.4" fill="#3a3a3a" style="stroke:none">SYT17</text>
<text x="436.3" y="475.90" font-size="4.4" fill="#3a3a3a" style="stroke:none">MIA</text>
<text x="436.3" y="479.97" font-size="4.4" fill="#3a3a3a" style="stroke:none">NMNAT2</text>
<text x="436.3" y="484.03" font-size="4.4" fill="#3a3a3a" style="stroke:none">UNC5C</text>
<text x="436.3" y="488.10" font-size="4.4" fill="#3a3a3a" style="stroke:none">SOX11</text>
<text x="436.3" y="492.17" font-size="4.4" fill="#3a3a3a" style="stroke:none">BAALC</text>
<text x="436.3" y="496.23" font-size="4.4" fill="#3a3a3a" style="stroke:none">PCDH8</text>
<text x="436.3" y="500.30" font-size="4.4" fill="#3a3a3a" style="stroke:none">FOS</text>
<text x="436.3" y="504.37" font-size="4.4" fill="#3a3a3a" style="stroke:none">GNG7</text>
<text x="436.3" y="508.43" font-size="4.4" fill="#3a3a3a" style="stroke:none">PEG3</text>
<text x="436.3" y="512.50" font-size="4.4" fill="#3a3a3a" style="stroke:none">MPPED2</text>
<text x="436.3" y="516.57" font-size="4.4" fill="#3a3a3a" style="stroke:none">MAGE</text>
<text x="436.3" y="520.63" font-size="4.4" fill="#3a3a3a" style="stroke:none">CRABP2</text>
<text x="436.3" y="524.70" font-size="4.4" fill="#3a3a3a" style="stroke:none">STON1</text>
<text x="436.3" y="528.77" font-size="4.4" fill="#3a3a3a" style="stroke:none">SCN1A</text>
<text x="436.3" y="532.83" font-size="4.4" fill="#3a3a3a" style="stroke:none">JUP</text>
<text x="436.3" y="536.90" font-size="4.4" fill="#3a3a3a" style="stroke:none">NDRG2</text>
<text x="436.3" y="540.97" font-size="4.4" fill="#3a3a3a" style="stroke:none">GPR68</text>
<text x="436.3" y="545.03" font-size="4.4" fill="#3a3a3a" style="stroke:none">EEF1A2</text>
<text x="436.3" y="549.10" font-size="4.4" fill="#3a3a3a" style="stroke:none">IFIT2</text>
<text x="436.3" y="553.17" font-size="4.4" fill="#3a3a3a" style="stroke:none">MAP7</text>
<text x="436.3" y="559.05" font-size="4.4" fill="#3a3a3a" style="stroke:none">MMP13</text>
<text x="436.3" y="563.14" font-size="4.4" fill="#3a3a3a" style="stroke:none">PYY</text>
<text x="436.3" y="567.24" font-size="4.4" fill="#3a3a3a" style="stroke:none">NTRK3</text>
<text x="436.3" y="571.34" font-size="4.4" fill="#3a3a3a" style="stroke:none">MMP17</text>
<text x="436.3" y="575.43" font-size="4.4" fill="#3a3a3a" style="stroke:none">DPYS</text>
<text x="436.3" y="579.53" font-size="4.4" fill="#3a3a3a" style="stroke:none">DLX4</text>
<text x="436.3" y="583.62" font-size="4.4" fill="#3a3a3a" style="stroke:none">AMELX</text>
<text x="436.3" y="587.72" font-size="4.4" fill="#3a3a3a" style="stroke:none">IL36A</text>
<text x="436.3" y="591.82" font-size="4.4" fill="#3a3a3a" style="stroke:none">ADAM12</text>
<text x="436.3" y="595.91" font-size="4.4" fill="#3a3a3a" style="stroke:none">TNR</text>
<text x="436.3" y="600.01" font-size="4.4" fill="#3a3a3a" style="stroke:none">GUCY2D</text>
<text x="436.3" y="604.10" font-size="4.4" fill="#3a3a3a" style="stroke:none">SLC38A3</text>
<text x="436.3" y="608.20" font-size="4.4" fill="#3a3a3a" style="stroke:none">BARX2</text>
<text x="436.3" y="612.30" font-size="4.4" fill="#3a3a3a" style="stroke:none">RORC</text>
<text x="436.3" y="616.39" font-size="4.4" fill="#3a3a3a" style="stroke:none">RIPK4</text>
<text x="436.3" y="620.49" font-size="4.4" fill="#3a3a3a" style="stroke:none">FRG2</text>
<text x="436.3" y="624.58" font-size="4.4" fill="#3a3a3a" style="stroke:none">GP5</text>
<text x="436.3" y="628.68" font-size="4.4" fill="#3a3a3a" style="stroke:none">TUBB1</text>
<text x="436.3" y="632.78" font-size="4.4" fill="#3a3a3a" style="stroke:none">IL1RN</text>
<text x="436.3" y="636.87" font-size="4.4" fill="#3a3a3a" style="stroke:none">CEACAM5</text>
<text x="436.3" y="640.97" font-size="4.4" fill="#3a3a3a" style="stroke:none">MMP3</text>
<text x="436.3" y="645.06" font-size="4.4" fill="#3a3a3a" style="stroke:none">ME3</text>
<text x="436.3" y="649.16" font-size="4.4" fill="#3a3a3a" style="stroke:none">STYK1</text>
<text x="436.3" y="653.26" font-size="4.4" fill="#3a3a3a" style="stroke:none">PRRT1</text>
<text x="436.3" y="657.35" font-size="4.4" fill="#3a3a3a" style="stroke:none">XAF1</text>
<line x1="310.80" y1="397.00" x2="310.80" y2="552.90" stroke="#444" stroke-width="1.2"/>
<line x1="310.80" y1="556.00" x2="310.80" y2="658.40" stroke="#444" stroke-width="1.2"/>
<g transform="translate(303.60,474.70) rotate(-90)"><text x="0" y="2.75" font-size="8" text-anchor="middle" fill="#2b2b2b" textLength="92.3" lengthAdjust="spacingAndGlyphs">KRAS-activated genes</text></g>
<g transform="translate(303.40,607.50) rotate(-90)"><text x="0" y="2.75" font-size="8" text-anchor="middle" fill="#2b2b2b" textLength="79" lengthAdjust="spacingAndGlyphs">P53-repressed genes</text></g>
<rect x="473.9" y="533.7" width="8.0" height="121.9" fill="url(#zs)"/>
<text x="485.50" y="539.28" font-size="7.2" text-anchor="start" fill="#2b2b2b">3</text>
<text x="485.50" y="559.28" font-size="7.2" text-anchor="start" fill="#2b2b2b">2</text>
<text x="485.50" y="578.78" font-size="7.2" text-anchor="start" fill="#2b2b2b">1</text>
<text x="485.50" y="598.18" font-size="7.2" text-anchor="start" fill="#2b2b2b">0</text>
<text x="484.60" y="618.08" font-size="7.2" text-anchor="start" fill="#2b2b2b">&#8211;1</text>
<text x="484.60" y="637.48" font-size="7.2" text-anchor="start" fill="#2b2b2b">&#8211;2</text>
<text x="484.60" y="656.58" font-size="7.2" text-anchor="start" fill="#2b2b2b">&#8211;3</text>
<g transform="translate(467.20,594.60) rotate(-90)"><text x="0" y="2.55" font-size="7.4" text-anchor="middle" fill="#2b2b2b" textLength="23.2" lengthAdjust="spacingAndGlyphs">Z-score</text></g>
<rect x="0.5" y="0.5" width="519" height="665" fill="none" stroke="#555" stroke-width="1"/>
</svg></body></html>
